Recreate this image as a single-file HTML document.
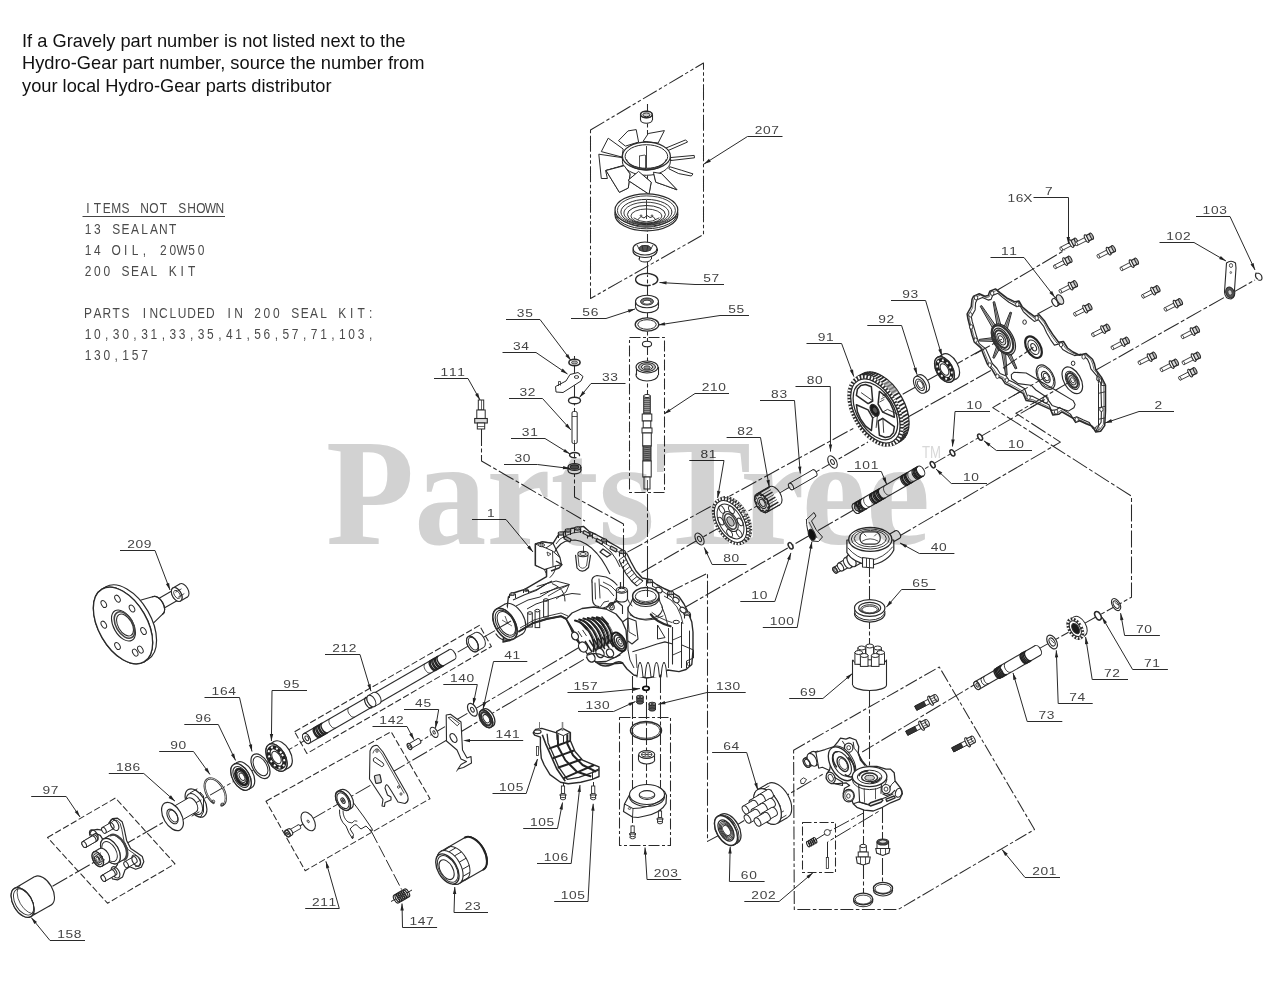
<!DOCTYPE html>
<html><head><meta charset="utf-8"><title>Parts Diagram</title>
<style>
html,body{margin:0;padding:0;background:#fff;}
body{width:1280px;height:989px;overflow:hidden;font-family:"Liberation Sans",sans-serif;}
svg{display:block;}
</style></head><body>
<svg width="1280" height="989" viewBox="0 0 1280 989">
<rect width="1280" height="989" fill="#fff"/>
<text x="22" y="46.8" font-size="18.2" font-family="Liberation Sans, sans-serif" fill="#111" textLength="383.5" lengthAdjust="spacingAndGlyphs">If a Gravely part number is not listed next to the</text>
<text x="22" y="69.3" font-size="18.2" font-family="Liberation Sans, sans-serif" fill="#111" textLength="402.5" lengthAdjust="spacingAndGlyphs">Hydro-Gear part number, source the number from</text>
<text x="22" y="92.2" font-size="18.2" font-family="Liberation Sans, sans-serif" fill="#111" textLength="309.5" lengthAdjust="spacingAndGlyphs">your local Hydro-Gear parts distributor</text>
<text transform="scale(0.82,1)" x="107.3 118.8 130.2 141.7 153.2 164.7 176.2 187.7 199.2 210.7 222.1 233.6 245.1 256.6 268.1" y="213.2" font-size="14.6" text-anchor="middle" font-family="Liberation Sans, sans-serif" fill="#4a4a4a">ITEMS NOT SHOWN</text>
<line x1="82.5" y1="216.5" x2="225" y2="216.5" stroke="#444" stroke-width="1"/>
<text transform="scale(0.82,1)" x="107.3 118.8 130.2 141.7 153.2 164.7 176.2 187.7 199.2 210.7" y="234.4" font-size="14.6" text-anchor="middle" font-family="Liberation Sans, sans-serif" fill="#4a4a4a">13 SEALANT</text>
<text transform="scale(0.82,1)" x="107.3 118.8 130.2 141.7 153.2 164.7 176.2 187.7 199.2 210.7 222.1 233.6 245.1" y="255.2" font-size="14.6" text-anchor="middle" font-family="Liberation Sans, sans-serif" fill="#4a4a4a">14 OIL, 20W50</text>
<text transform="scale(0.82,1)" x="107.3 118.8 130.2 141.7 153.2 164.7 176.2 187.7 199.2 210.7 222.1 233.6" y="276.3" font-size="14.6" text-anchor="middle" font-family="Liberation Sans, sans-serif" fill="#4a4a4a">200 SEAL KIT</text>
<text transform="scale(0.82,1)" x="107.3 118.8 130.2 141.7 153.2 164.7 176.2 187.7 199.2 210.7 222.1 233.6 245.1 256.6 268.1 279.6 291.1 302.6 314 325.5 337 348.5 360 371.5 383 394.5 405.9 417.4 428.9 440.4 451.9" y="318" font-size="14.6" text-anchor="middle" font-family="Liberation Sans, sans-serif" fill="#4a4a4a">PARTS INCLUDED IN 200 SEAL KIT:</text>
<text transform="scale(0.82,1)" x="107.3 118.8 130.2 141.7 153.2 164.7 176.2 187.7 199.2 210.7 222.1 233.6 245.1 256.6 268.1 279.6 291.1 302.6 314 325.5 337 348.5 360 371.5 383 394.5 405.9 417.4 428.9 440.4 451.9" y="338.7" font-size="14.6" text-anchor="middle" font-family="Liberation Sans, sans-serif" fill="#4a4a4a">10,30,31,33,35,41,56,57,71,103,</text>
<text transform="scale(0.82,1)" x="107.3 118.8 130.2 141.7 153.2 164.7 176.2" y="360" font-size="14.6" text-anchor="middle" font-family="Liberation Sans, sans-serif" fill="#4a4a4a">130,157</text>
<polygon points="590.5,130 703.5,63 703.5,234.5 590.5,298.5" fill="none" stroke="#2a2a2a" stroke-width="1.05" stroke-linejoin="round" stroke-dasharray="16 2.5 3.5 2.5 3.5 2.5"/>
<polygon points="629.5,337.5 664.5,337.5 664.5,492.5 629.5,492.5" fill="none" stroke="#2a2a2a" stroke-width="1.05" stroke-linejoin="round" stroke-dasharray="11 2.5 3 2.5"/>
<polygon points="619.5,717.5 670.5,717.5 670.5,845.5 619.5,845.5" fill="none" stroke="#2a2a2a" stroke-width="1.05" stroke-linejoin="round" stroke-dasharray="11 2.5 3 2.5"/>
<polygon points="802.5,822.5 835.5,822.5 835.5,872.5 802.5,872.5" fill="none" stroke="#2a2a2a" stroke-width="1.05" stroke-linejoin="round" stroke-dasharray="9 2.5 3 2.5"/>
<polygon points="793.6,750.2 939.3,667 1034.5,829.5 898.2,909.5 794.3,909.5" fill="none" stroke="#2a2a2a" stroke-width="1.05" stroke-linejoin="round" stroke-dasharray="13 2.5 3.5 2.5"/>
<polygon points="266,801.2 391.1,731.7 430,798.7 305.2,870.7" fill="none" stroke="#2a2a2a" stroke-width="1.05" stroke-linejoin="round" stroke-dasharray="6.5 2.5"/>
<polygon points="294.6,731.7 479.4,625.4 491.4,646.5 306.9,753.5" fill="none" stroke="#2a2a2a" stroke-width="1.05" stroke-linejoin="round" stroke-dasharray="6.5 2.5"/>
<polygon points="47.5,837.5 115.5,798 175,863.8 107.5,903.2" fill="none" stroke="#2a2a2a" stroke-width="1.05" stroke-linejoin="round" stroke-dasharray="6.5 2.5"/>
<line x1="647.5" y1="104" x2="647.5" y2="593" stroke="#2a2a2a" stroke-width="1.05" stroke-dasharray="17 2.5 4 2.5"/>
<line x1="646.5" y1="676" x2="646.5" y2="800" stroke="#2a2a2a" stroke-width="1.05" stroke-dasharray="17 2.5 4 2.5"/>
<line x1="632.5" y1="676" x2="632.5" y2="834" stroke="#2a2a2a" stroke-width="1.05" stroke-dasharray="17 2.5 4 2.5"/>
<line x1="660.5" y1="676" x2="660.5" y2="820" stroke="#2a2a2a" stroke-width="1.05" stroke-dasharray="17 2.5 4 2.5"/>
<polyline points="574.5,356 574.5,497 623.5,524 623.5,590" fill="none" stroke="#2a2a2a" stroke-width="1.05" stroke-linejoin="round" stroke-dasharray="17 2.5 4 2.5"/>
<polyline points="481.5,429 481.5,461 585,521" fill="none" stroke="#2a2a2a" stroke-width="1.05" stroke-linejoin="round" stroke-dasharray="17 2.5 4 2.5"/>
<line x1="627.4" y1="552.1" x2="855" y2="427.5" stroke="#2a2a2a" stroke-width="1.05" stroke-dasharray="17 2.5 4 2.5"/>
<line x1="880" y1="407" x2="1001" y2="339" stroke="#2a2a2a" stroke-width="1.05" stroke-dasharray="17 2.5 4 2.5"/>
<line x1="641.5" y1="572.5" x2="868" y2="442" stroke="#2a2a2a" stroke-width="1.05" stroke-dasharray="17 2.5 4 2.5"/>
<line x1="908" y1="417" x2="1033.5" y2="346.5" stroke="#2a2a2a" stroke-width="1.05" stroke-dasharray="17 2.5 4 2.5"/>
<line x1="683" y1="608.5" x2="1044.7" y2="399.5" stroke="#2a2a2a" stroke-width="1.05" stroke-dasharray="17 2.5 4 2.5"/>
<polyline points="896,538 1060.4,442.1 1015.9,413.3 1072.3,380.3" fill="none" stroke="#2a2a2a" stroke-width="1.05" stroke-linejoin="round" stroke-dasharray="17 2.5 4 2.5"/>
<polyline points="1045.6,377.1 992.7,407.6 1131.5,496.2 1131.5,597.2 975.6,684 862.2,752" fill="none" stroke="#2a2a2a" stroke-width="1.05" stroke-linejoin="round" stroke-dasharray="17 2.5 4 2.5"/>
<polyline points="667.4,592.9 707.5,573.3 707.5,841.4 727,831 765,808 822.7,774.3" fill="none" stroke="#2a2a2a" stroke-width="1.05" stroke-linejoin="round" stroke-dasharray="17 2.5 4 2.5"/>
<line x1="869.5" y1="560" x2="869.5" y2="776" stroke="#2a2a2a" stroke-width="1.05" stroke-dasharray="17 2.5 4 2.5"/>
<line x1="863.5" y1="810" x2="863.5" y2="900" stroke="#2a2a2a" stroke-width="1.05" stroke-dasharray="17 2.5 4 2.5"/>
<line x1="882.5" y1="806" x2="882.5" y2="890" stroke="#2a2a2a" stroke-width="1.05" stroke-dasharray="17 2.5 4 2.5"/>
<polyline points="811.7,842.2 827.3,832.5 863.4,813" fill="none" stroke="#2a2a2a" stroke-width="1" stroke-linejoin="round" stroke-dasharray="17 2.5 4 2.5"/>
<polyline points="827.5,858 827.5,842 880,810.6" fill="none" stroke="#2a2a2a" stroke-width="1" stroke-linejoin="round" stroke-dasharray="17 2.5 4 2.5"/>
<line x1="52.5" y1="886.2" x2="505" y2="624.8" stroke="#2a2a2a" stroke-width="1.05" stroke-dasharray="17 2.5 4 2.5"/>
<line x1="408" y1="748.5" x2="590" y2="641" stroke="#2a2a2a" stroke-width="1.05" stroke-dasharray="17 2.5 4 2.5"/>
<line x1="390" y1="773.5" x2="602.3" y2="648.5" stroke="#2a2a2a" stroke-width="1.05" stroke-dasharray="17 2.5 4 2.5"/>
<line x1="288" y1="832.8" x2="371.4" y2="784.8" stroke="#2a2a2a" stroke-width="1.05" stroke-dasharray="17 2.5 4 2.5"/>
<polyline points="371.4,831.5 401.7,889.6" fill="none" stroke="#2a2a2a" stroke-width="1" stroke-linejoin="round" stroke-dasharray="13 3"/>
<line x1="997.5" y1="290" x2="1065" y2="250" stroke="#2a2a2a" stroke-width="1.05" stroke-dasharray="17 2.5 4 2.5"/>
<line x1="1096" y1="370" x2="1255" y2="280" stroke="#2a2a2a" stroke-width="1.05" stroke-dasharray="17 2.5 4 2.5"/>
<line x1="1037.5" y1="314" x2="1054" y2="305" stroke="#2a2a2a" stroke-width="1.05" stroke-dasharray="17 2.5 4 2.5"/>
<line x1="563.5" y1="782" x2="563.5" y2="800" stroke="#2a2a2a" stroke-width="1.05" stroke-dasharray="17 2.5 4 2.5"/>
<line x1="593.5" y1="782" x2="593.5" y2="800" stroke="#2a2a2a" stroke-width="1.05" stroke-dasharray="17 2.5 4 2.5"/>
<ellipse cx="646.4" cy="120" rx="5.8" ry="3.2" fill="#fff" stroke="#2a2a2a" stroke-width="1.1"/>
<rect x="640.6" y="114.5" width="11.6" height="5.5" fill="#fff" stroke="none"/>
<line x1="640.5" y1="114.5" x2="640.5" y2="120" stroke="#2a2a2a" stroke-width="1.1"/>
<line x1="652.5" y1="114.5" x2="652.5" y2="120" stroke="#2a2a2a" stroke-width="1.1"/>
<ellipse cx="646.4" cy="114.5" rx="5.8" ry="3.2" fill="#fff" stroke="#2a2a2a" stroke-width="1.1"/>
<ellipse cx="646.4" cy="114.5" rx="5.8" ry="3.2" fill="#fff" stroke="#2a2a2a" stroke-width="1.5"/>
<ellipse cx="646.4" cy="114.8" rx="3.6" ry="1.9" fill="#ccc" stroke="#2a2a2a" stroke-width="1"/>
<polygon points="625.4,146.1 618.5,140.7 628,130.9 636.2,129.6 638.6,142.1" fill="#fff" stroke="#2a2a2a" stroke-width="1" stroke-linejoin="round"/>
<polygon points="623.2,149 608.2,138.2 601.3,151.6 622,157.1" fill="#fff" stroke="#2a2a2a" stroke-width="1" stroke-linejoin="round"/>
<polygon points="622,157.6 598.8,154.2 601.3,178.5 607.4,178.5 605.6,170.5 623.7,165.3" fill="#fff" stroke="#2a2a2a" stroke-width="1" stroke-linejoin="round"/>
<polygon points="606,170.5 624.2,165.7 630,173.9 628.3,188 619.4,192.3" fill="#fff" stroke="#2a2a2a" stroke-width="1" stroke-linejoin="round"/>
<polygon points="628,180.3 638.6,171.4 651.2,182.2 649,194.2" fill="#fff" stroke="#2a2a2a" stroke-width="1" stroke-linejoin="round"/>
<polygon points="653.4,172.2 661.5,173.6 677,189.8 665.5,185.6 655.8,182.2" fill="#fff" stroke="#2a2a2a" stroke-width="1" stroke-linejoin="round"/>
<polygon points="669.6,166.7 681.3,170.2 693,173.9 691.3,176 678.7,173.6 668.9,168.8" fill="#fff" stroke="#2a2a2a" stroke-width="1" stroke-linejoin="round"/>
<polygon points="670.1,157.6 694.2,155.4 694.5,157.8 671,160.5" fill="#fff" stroke="#2a2a2a" stroke-width="1" stroke-linejoin="round"/>
<polygon points="665.8,148.1 685.6,139.9 687.6,142 667.9,150.6" fill="#fff" stroke="#2a2a2a" stroke-width="1" stroke-linejoin="round"/>
<polygon points="643.1,141.3 648.3,133.5 664.4,130.6 658.1,143" fill="#fff" stroke="#2a2a2a" stroke-width="1" stroke-linejoin="round"/>
<ellipse cx="646.4" cy="161.5" rx="24" ry="13.8" fill="#fff" stroke="#2a2a2a" stroke-width="1"/>
<rect x="622.4" y="156" width="48" height="5.5" fill="#fff"/>
<line x1="622.5" y1="156" x2="622.5" y2="161.5" stroke="#2a2a2a" stroke-width="1"/>
<line x1="670.5" y1="156" x2="670.5" y2="161.5" stroke="#2a2a2a" stroke-width="1"/>
<ellipse cx="646.4" cy="156" rx="24" ry="13.8" fill="#fff" stroke="#2a2a2a" stroke-width="1.2"/>
<ellipse cx="646.4" cy="156.5" rx="21.3" ry="11.8" fill="none" stroke="#2a2a2a" stroke-width="1"/>
<path d="M626.5,159.5 A20,10.5 0 0 0 666.3,159.5" fill="none" stroke="#2a2a2a" stroke-width="0.9" stroke-linejoin="round" stroke-linecap="round"/>
<path d="M628.5,162.5 A18,8.5 0 0 0 664.3,162.5" fill="none" stroke="#2a2a2a" stroke-width="0.9" stroke-linejoin="round" stroke-linecap="round"/>
<path d="M631.5,165 A15,6 0 0 0 661,165" fill="none" stroke="#2a2a2a" stroke-width="0.8" stroke-linejoin="round" stroke-linecap="round"/>
<line x1="639.5" y1="156" x2="639.5" y2="168" stroke="#2a2a2a" stroke-width="0.8"/>
<line x1="645.5" y1="155" x2="645.5" y2="169" stroke="#2a2a2a" stroke-width="0.8"/>
<line x1="639" y1="156" x2="645" y2="155" stroke="#2a2a2a" stroke-width="0.8"/>
<polygon points="606,170.5 624.2,165.7 630,173.9 628.3,188 619.4,192.3" fill="#fff" stroke="#2a2a2a" stroke-width="1" stroke-linejoin="round"/>
<polygon points="628,180.3 638.6,171.4 651.2,182.2 649,194.2" fill="#fff" stroke="#2a2a2a" stroke-width="1" stroke-linejoin="round"/>
<polygon points="653.4,172.2 661.5,173.6 677,189.8 665.5,185.6 655.8,182.2" fill="#fff" stroke="#2a2a2a" stroke-width="1" stroke-linejoin="round"/>
<ellipse cx="646.4" cy="214.5" rx="31.4" ry="16.3" fill="#fff" stroke="#2a2a2a" stroke-width="1.3"/>
<ellipse cx="646.4" cy="212.5" rx="31.4" ry="16.3" fill="#fff" stroke="#2a2a2a" stroke-width="1"/>
<ellipse cx="646.4" cy="210" rx="31.4" ry="16.2" fill="#fff" stroke="#2a2a2a" stroke-width="1.2"/>
<ellipse cx="646.4" cy="210.5" rx="29" ry="14.6" fill="none" stroke="#2a2a2a" stroke-width="0.9"/>
<ellipse cx="646.4" cy="212" rx="25.5" ry="12.6" fill="none" stroke="#2a2a2a" stroke-width="1"/>
<ellipse cx="646.4" cy="213" rx="22.5" ry="10.8" fill="none" stroke="#2a2a2a" stroke-width="0.9"/>
<ellipse cx="646.4" cy="214.5" rx="19" ry="9" fill="none" stroke="#2a2a2a" stroke-width="1"/>
<ellipse cx="646.4" cy="216" rx="15.5" ry="7" fill="none" stroke="#2a2a2a" stroke-width="0.9"/>
<path d="M634,218 Q646,226 659,218" fill="none" stroke="#2a2a2a" stroke-width="0.9" stroke-linejoin="round" stroke-linecap="round"/>
<path d="M638,219.5 l3,-3 l3,1.5 l3,-2.5 l3,2 l3,-1 l2.5,3" fill="none" stroke="#2a2a2a" stroke-width="1" stroke-linejoin="round" stroke-linecap="round"/>
<ellipse cx="641" cy="215.5" rx="0.8" ry="0.6" fill="none" stroke="#2a2a2a" stroke-width="0.8"/>
<ellipse cx="652" cy="215.5" rx="0.8" ry="0.6" fill="none" stroke="#2a2a2a" stroke-width="0.8"/>
<path d="M617,217 Q646,238 676,217" fill="none" stroke="#2a2a2a" stroke-width="0.9" stroke-linejoin="round" stroke-linecap="round"/>
<ellipse cx="645" cy="259" rx="6" ry="3" fill="#fff" stroke="#2a2a2a" stroke-width="1"/>
<rect x="639" y="254" width="12" height="5" fill="#fff" stroke="none"/>
<line x1="639.5" y1="254" x2="639.5" y2="259" stroke="#2a2a2a" stroke-width="1"/>
<line x1="651.5" y1="254" x2="651.5" y2="259" stroke="#2a2a2a" stroke-width="1"/>
<ellipse cx="645" cy="254" rx="6" ry="3" fill="#fff" stroke="#2a2a2a" stroke-width="1"/>
<ellipse cx="645" cy="251" rx="12" ry="6.5" fill="#fff" stroke="#2a2a2a" stroke-width="1.1"/>
<ellipse cx="645" cy="248.5" rx="12" ry="6.5" fill="#fff" stroke="#2a2a2a" stroke-width="1.1"/>
<ellipse cx="645" cy="248.5" rx="6" ry="3" fill="#555" stroke="#2a2a2a" stroke-width="1"/>
<line x1="637" y1="245" x2="640.2" y2="251" stroke="#2a2a2a" stroke-width="0.9"/>
<line x1="642" y1="245" x2="643.2" y2="251" stroke="#2a2a2a" stroke-width="0.9"/>
<line x1="648" y1="245" x2="646.8" y2="251" stroke="#2a2a2a" stroke-width="0.9"/>
<line x1="653" y1="245" x2="649.8" y2="251" stroke="#2a2a2a" stroke-width="0.9"/>
<line x1="633.5" y1="248.5" x2="633.5" y2="251" stroke="#2a2a2a" stroke-width="1"/>
<line x1="657.5" y1="248.5" x2="657.5" y2="251" stroke="#2a2a2a" stroke-width="1"/>
<path d="M653,284.5 A11,6 0 1 0 650,285.3" fill="none" stroke="#2a2a2a" stroke-width="1.6" stroke-linejoin="round" stroke-linecap="round"/>
<path d="M652.5,283 A9.5,4.8 0 1 0 650,283.8" fill="none" stroke="#fff" stroke-width="0.6" stroke-linejoin="round" stroke-linecap="round"/>
<ellipse cx="647" cy="306.5" rx="11.5" ry="6.3" fill="#fff" stroke="#2a2a2a" stroke-width="1.1"/>
<rect x="635.5" y="301.5" width="23" height="5" fill="#fff" stroke="none"/>
<line x1="635.5" y1="301.5" x2="635.5" y2="306.5" stroke="#2a2a2a" stroke-width="1.1"/>
<line x1="658.5" y1="301.5" x2="658.5" y2="306.5" stroke="#2a2a2a" stroke-width="1.1"/>
<ellipse cx="647" cy="301.5" rx="11.5" ry="6.3" fill="#fff" stroke="#2a2a2a" stroke-width="1.1"/>
<ellipse cx="647" cy="301.5" rx="6.5" ry="3.5" fill="#777" stroke="#2a2a2a" stroke-width="1"/>
<ellipse cx="647" cy="302.2" rx="4" ry="2" fill="#fff" stroke="#2a2a2a" stroke-width="0.8"/>
<ellipse cx="647" cy="324.5" rx="11.8" ry="6.6" fill="#fff" stroke="#2a2a2a" stroke-width="1.3"/>
<ellipse cx="647" cy="324.5" rx="9.2" ry="4.8" fill="#fff" stroke="#2a2a2a" stroke-width="1"/>
<ellipse cx="647" cy="344" rx="4.6" ry="2.8" fill="#fff" stroke="#2a2a2a" stroke-width="1.1"/>
<ellipse cx="647" cy="375" rx="11" ry="6" fill="#fff" stroke="#2a2a2a" stroke-width="1.1"/>
<rect x="636" y="367" width="22" height="8" fill="#fff" stroke="none"/>
<line x1="636.5" y1="367" x2="636.5" y2="375" stroke="#2a2a2a" stroke-width="1.1"/>
<line x1="658.5" y1="367" x2="658.5" y2="375" stroke="#2a2a2a" stroke-width="1.1"/>
<ellipse cx="647" cy="367" rx="11" ry="6" fill="#fff" stroke="#2a2a2a" stroke-width="1.1"/>
<ellipse cx="647" cy="367" rx="8.5" ry="4.5" fill="#bbb" stroke="#2a2a2a" stroke-width="1"/>
<ellipse cx="647" cy="367" rx="5.5" ry="3" fill="#fff" stroke="#2a2a2a" stroke-width="1"/>
<ellipse cx="647" cy="367.5" rx="3.2" ry="1.7" fill="#999" stroke="#2a2a2a" stroke-width="0.8"/>
<rect x="643.7" y="396" width="6.6" height="18" fill="#999" stroke="#2a2a2a" stroke-width="1"/>
<ellipse cx="647" cy="396" rx="3.3" ry="1.6" fill="#fff" stroke="#2a2a2a" stroke-width="1"/>
<rect x="642.2" y="414" width="9.6" height="7" fill="#fff" stroke="#2a2a2a" stroke-width="1"/>
<rect x="643.2" y="421" width="7.6" height="7" fill="#fff" stroke="#2a2a2a" stroke-width="1"/>
<rect x="642" y="428" width="10" height="5" fill="#fff" stroke="#2a2a2a" stroke-width="1"/>
<rect x="642.7" y="433" width="8.6" height="13" fill="#fff" stroke="#2a2a2a" stroke-width="1"/>
<rect x="643" y="446" width="8" height="15" fill="#888" stroke="#2a2a2a" stroke-width="1"/>
<rect x="642.8" y="461" width="8.4" height="16" fill="#fff" stroke="#2a2a2a" stroke-width="1"/>
<rect x="644" y="477" width="6" height="12" fill="#fff" stroke="#2a2a2a" stroke-width="1"/>
<line x1="643" y1="447" x2="651" y2="448" stroke="#222" stroke-width="0.7"/>
<line x1="643" y1="449" x2="651" y2="450" stroke="#222" stroke-width="0.7"/>
<line x1="643" y1="451" x2="651" y2="452" stroke="#222" stroke-width="0.7"/>
<line x1="643" y1="453" x2="651" y2="454" stroke="#222" stroke-width="0.7"/>
<line x1="643" y1="455" x2="651" y2="456" stroke="#222" stroke-width="0.7"/>
<line x1="643" y1="457" x2="651" y2="458" stroke="#222" stroke-width="0.7"/>
<line x1="643" y1="459" x2="651" y2="460" stroke="#222" stroke-width="0.7"/>
<line x1="644" y1="398.5" x2="650" y2="398.5" stroke="#333" stroke-width="0.6"/>
<line x1="644" y1="400.5" x2="650" y2="400.5" stroke="#333" stroke-width="0.6"/>
<line x1="644" y1="402.5" x2="650" y2="402.5" stroke="#333" stroke-width="0.6"/>
<line x1="644" y1="404.5" x2="650" y2="404.5" stroke="#333" stroke-width="0.6"/>
<line x1="644" y1="406.5" x2="650" y2="406.5" stroke="#333" stroke-width="0.6"/>
<line x1="644" y1="408.5" x2="650" y2="408.5" stroke="#333" stroke-width="0.6"/>
<line x1="644" y1="410.5" x2="650" y2="410.5" stroke="#333" stroke-width="0.6"/>
<line x1="644" y1="412.5" x2="650" y2="412.5" stroke="#333" stroke-width="0.6"/>
<line x1="647.5" y1="480" x2="647.5" y2="489" stroke="#2a2a2a" stroke-width="0.8"/>
<ellipse cx="574.5" cy="362.5" rx="5.6" ry="3.2" fill="#fff" stroke="#2a2a2a" stroke-width="1.6"/>
<ellipse cx="574.5" cy="362.5" rx="3" ry="1.6" fill="#aaa" stroke="#2a2a2a" stroke-width="0.8"/>
<polygon points="583,376.5 581,381 563,392.5 556,392 555.5,386.5 566,381 570,374.5 578,372.5" fill="#fff" stroke="#2a2a2a" stroke-width="1" stroke-linejoin="round"/>
<ellipse cx="576.5" cy="377" rx="2.2" ry="1.4" fill="none" stroke="#2a2a2a" stroke-width="0.9"/>
<polyline points="558.5,386 558.5,381.5 560.5,381.5 560.5,385.5" fill="none" stroke="#2a2a2a" stroke-width="0.8" stroke-linejoin="round"/>
<ellipse cx="574.5" cy="400.5" rx="6" ry="3.3" fill="#fff" stroke="#2a2a2a" stroke-width="1.4"/>
<rect x="572" y="411.5" width="5.2" height="32" rx="1.5" fill="#fff" stroke="#2a2a2a" stroke-width="1"/>
<line x1="572" y1="416.5" x2="577.2" y2="416.5" stroke="#2a2a2a" stroke-width="0.8"/>
<line x1="574.5" y1="440" x2="574.5" y2="444" stroke="#2a2a2a" stroke-width="0.7"/>
<path d="M579.5,455.5 A5,2.6 0 1 0 576,457.6" fill="none" stroke="#2a2a2a" stroke-width="1.4" stroke-linejoin="round" stroke-linecap="round"/>
<ellipse cx="574.5" cy="470.5" rx="6.4" ry="3.4" fill="#fff" stroke="#2a2a2a" stroke-width="1.3"/>
<rect x="568.1" y="467" width="12.8" height="3.5" fill="#fff" stroke="none"/>
<line x1="568.1" y1="467" x2="568.1" y2="470.5" stroke="#2a2a2a" stroke-width="1.3"/>
<line x1="580.9" y1="467" x2="580.9" y2="470.5" stroke="#2a2a2a" stroke-width="1.3"/>
<ellipse cx="574.5" cy="467" rx="6.4" ry="3.4" fill="#fff" stroke="#2a2a2a" stroke-width="1.3"/>
<ellipse cx="574.5" cy="467" rx="4.3" ry="2.1" fill="#555" stroke="#2a2a2a" stroke-width="1.2"/>
<rect x="478.3" y="400" width="5.4" height="10" fill="#fff" stroke="#2a2a2a" stroke-width="1"/>
<line x1="481.5" y1="400" x2="481.5" y2="410" stroke="#2a2a2a" stroke-width="0.7"/>
<rect x="476.8" y="410" width="8.4" height="8.5" fill="#fff" stroke="#2a2a2a" stroke-width="1"/>
<rect x="474.7" y="418.5" width="12.6" height="4.5" fill="#ddd" stroke="#2a2a2a" stroke-width="1.1"/>
<rect x="477.3" y="423" width="7.4" height="6" fill="#fff" stroke="#2a2a2a" stroke-width="1"/>
<line x1="477.3" y1="426.5" x2="484.7" y2="426.5" stroke="#2a2a2a" stroke-width="0.7"/>
<ellipse cx="881.9" cy="407.2" rx="22.2" ry="38.5" fill="#fff" stroke="#2a2a2a" stroke-width="1.2" transform="rotate(-30 881.9 407.2)"/>
<polygon points="856.1,377.7 862.6,373.9 901.1,440.6 894.6,444.3" fill="#fff" stroke="none"/>
<line x1="853.5" y1="379.7" x2="860" y2="375.9" stroke="#2a2a2a" stroke-width="1.7"/>
<line x1="855.2" y1="378.2" x2="861.7" y2="374.5" stroke="#2a2a2a" stroke-width="1.7"/>
<line x1="857.2" y1="377.1" x2="863.7" y2="373.4" stroke="#2a2a2a" stroke-width="1.7"/>
<line x1="859.3" y1="376.4" x2="865.8" y2="372.6" stroke="#2a2a2a" stroke-width="1.7"/>
<line x1="861.6" y1="375.9" x2="868.1" y2="372.2" stroke="#2a2a2a" stroke-width="1.7"/>
<line x1="864.1" y1="375.9" x2="870.6" y2="372.1" stroke="#2a2a2a" stroke-width="1.7"/>
<line x1="866.6" y1="376.2" x2="873.1" y2="372.4" stroke="#2a2a2a" stroke-width="1.7"/>
<line x1="869.3" y1="376.8" x2="875.8" y2="373.1" stroke="#2a2a2a" stroke-width="1.7"/>
<line x1="872" y1="377.8" x2="878.5" y2="374.1" stroke="#2a2a2a" stroke-width="1.7"/>
<line x1="874.7" y1="379.2" x2="881.2" y2="375.4" stroke="#2a2a2a" stroke-width="1.7"/>
<line x1="877.5" y1="380.9" x2="884" y2="377.1" stroke="#2a2a2a" stroke-width="1.7"/>
<line x1="880.2" y1="382.9" x2="886.7" y2="379.1" stroke="#2a2a2a" stroke-width="1.7"/>
<line x1="882.9" y1="385.1" x2="889.4" y2="381.4" stroke="#2a2a2a" stroke-width="1.7"/>
<line x1="885.5" y1="387.7" x2="892" y2="383.9" stroke="#2a2a2a" stroke-width="1.7"/>
<line x1="888" y1="390.4" x2="894.5" y2="386.7" stroke="#2a2a2a" stroke-width="1.7"/>
<line x1="890.4" y1="393.4" x2="896.9" y2="389.7" stroke="#2a2a2a" stroke-width="1.7"/>
<line x1="892.6" y1="396.6" x2="899.1" y2="392.8" stroke="#2a2a2a" stroke-width="1.7"/>
<line x1="894.6" y1="399.9" x2="901.1" y2="396.1" stroke="#2a2a2a" stroke-width="1.7"/>
<line x1="896.5" y1="403.3" x2="903" y2="399.6" stroke="#2a2a2a" stroke-width="1.7"/>
<line x1="898.1" y1="406.8" x2="904.6" y2="403.1" stroke="#2a2a2a" stroke-width="1.7"/>
<line x1="899.5" y1="410.4" x2="906" y2="406.6" stroke="#2a2a2a" stroke-width="1.7"/>
<line x1="900.7" y1="413.9" x2="907.2" y2="410.2" stroke="#2a2a2a" stroke-width="1.7"/>
<line x1="901.6" y1="417.4" x2="908.1" y2="413.7" stroke="#2a2a2a" stroke-width="1.7"/>
<line x1="902.2" y1="420.9" x2="908.7" y2="417.2" stroke="#2a2a2a" stroke-width="1.7"/>
<line x1="902.5" y1="424.3" x2="909" y2="420.5" stroke="#2a2a2a" stroke-width="1.7"/>
<line x1="902.6" y1="427.5" x2="909.1" y2="423.7" stroke="#2a2a2a" stroke-width="1.7"/>
<line x1="902.4" y1="430.5" x2="908.9" y2="426.8" stroke="#2a2a2a" stroke-width="1.7"/>
<line x1="901.9" y1="433.4" x2="908.4" y2="429.6" stroke="#2a2a2a" stroke-width="1.7"/>
<line x1="901.2" y1="436" x2="907.7" y2="432.3" stroke="#2a2a2a" stroke-width="1.7"/>
<line x1="900.1" y1="438.4" x2="906.6" y2="434.6" stroke="#2a2a2a" stroke-width="1.7"/>
<line x1="898.9" y1="440.5" x2="905.4" y2="436.7" stroke="#2a2a2a" stroke-width="1.7"/>
<line x1="897.4" y1="442.2" x2="903.9" y2="438.5" stroke="#2a2a2a" stroke-width="1.7"/>
<line x1="895.6" y1="443.7" x2="902.1" y2="440" stroke="#2a2a2a" stroke-width="1.7"/>
<line x1="893.7" y1="444.8" x2="900.2" y2="441.1" stroke="#2a2a2a" stroke-width="1.7"/>
<line x1="891.6" y1="445.6" x2="898.1" y2="441.9" stroke="#2a2a2a" stroke-width="1.7"/>
<polygon points="881.7,384.1 888.2,380.4 898,391.3 891.5,395" fill="#999" stroke="none" opacity="0.7"/>
<ellipse cx="875.4" cy="411" rx="21.5" ry="37.2" fill="#fff" stroke="#2a2a2a" stroke-width="3.6" transform="rotate(-30 875.4 411)"/>
<ellipse cx="875.4" cy="411" rx="21.5" ry="37.2" transform="rotate(-30 875.4 411)" fill="none" stroke="#fff" stroke-width="3.8" stroke-dasharray="1.7 1.6"/>
<ellipse cx="875.4" cy="411" rx="20.2" ry="35" fill="none" stroke="#2a2a2a" stroke-width="1.2" transform="rotate(-30 875.4 411)"/>
<ellipse cx="875.4" cy="411" rx="18.2" ry="31.5" fill="none" stroke="#2a2a2a" stroke-width="1.3" transform="rotate(-30 875.4 411)"/>
<polygon points="878.1,404.1 879.4,391.4 885.2,395.8 890,402.5 893.4,410.1 894.4,417.3 882.7,412.1" fill="#fff" stroke="#2a2a2a" stroke-width="1.5" stroke-linejoin="round"/>
<polyline points="882.7,412.1 887.5,409.4 898.7,414.8" fill="none" stroke="#2a2a2a" stroke-width="0.9" stroke-linejoin="round"/>
<polygon points="882.7,418.3 894.4,426.7 893.4,432.7 890,436.4 885.2,437.5 879.4,435.3 878.1,421" fill="#fff" stroke="#2a2a2a" stroke-width="1.5" stroke-linejoin="round"/>
<polyline points="878.1,421 882.9,418.2 883.7,432.8" fill="none" stroke="#2a2a2a" stroke-width="0.9" stroke-linejoin="round"/>
<polygon points="872.7,417.9 871.4,430.6 865.6,426.2 860.8,419.5 857.4,411.9 856.4,404.7 868.1,409.9" fill="#fff" stroke="#2a2a2a" stroke-width="1.5" stroke-linejoin="round"/>
<polyline points="872.7,417.9 877.5,415.1 876.1,427.9" fill="none" stroke="#2a2a2a" stroke-width="0.9" stroke-linejoin="round"/>
<polygon points="868.1,403.7 856.4,395.3 857.4,389.3 860.8,385.6 865.6,384.5 871.4,386.7 872.7,401" fill="#fff" stroke="#2a2a2a" stroke-width="1.5" stroke-linejoin="round"/>
<polyline points="868.1,403.7 872.9,400.9 861.1,392.6" fill="none" stroke="#2a2a2a" stroke-width="0.9" stroke-linejoin="round"/>
<line x1="879.5" y1="402.1" x2="884.3" y2="399.4" stroke="#2a2a2a" stroke-width="0.8"/>
<line x1="880.9" y1="399.2" x2="885.7" y2="396.4" stroke="#2a2a2a" stroke-width="0.8"/>
<line x1="882.3" y1="396.2" x2="887.1" y2="393.5" stroke="#2a2a2a" stroke-width="0.8"/>
<ellipse cx="874.6" cy="410.3" rx="3.8" ry="6.6" fill="#1a1a1a" stroke="#2a2a2a" stroke-width="1" transform="rotate(-30 874.6 410.3)"/>
<ellipse cx="875" cy="410.2" rx="1.5" ry="2.6" fill="#555" stroke="#555" stroke-width="0.7" transform="rotate(-30 875 410.2)"/>
<ellipse cx="923" cy="383.1" rx="5.4" ry="9.3" fill="#fff" stroke="#2a2a2a" stroke-width="1.1" transform="rotate(-30 923 383.1)"/>
<polygon points="924.6,392.9 927.7,391.1 918.4,375 915.4,376.7" fill="#fff" stroke="none"/>
<line x1="924.6" y1="392.9" x2="927.7" y2="391.1" stroke="#2a2a2a" stroke-width="1.1"/>
<line x1="915.4" y1="376.7" x2="918.4" y2="375" stroke="#2a2a2a" stroke-width="1.1"/>
<ellipse cx="920" cy="384.8" rx="5.4" ry="9.3" fill="#fff" stroke="#2a2a2a" stroke-width="1.1" transform="rotate(-30 920 384.8)"/>
<ellipse cx="920" cy="384.8" rx="3.6" ry="6.3" fill="none" stroke="#2a2a2a" stroke-width="1" transform="rotate(-30 920 384.8)"/>
<ellipse cx="920.3" cy="384.6" rx="2.3" ry="4" fill="none" stroke="#2a2a2a" stroke-width="0.9" transform="rotate(-30 920.3 384.6)"/>
<ellipse cx="949.7" cy="366.5" rx="8.1" ry="14" fill="#fff" stroke="#2a2a2a" stroke-width="1.2" transform="rotate(-30 949.7 366.5)"/>
<polygon points="951.5,381.6 956.7,378.6 942.7,354.4 937.5,357.4" fill="#fff" stroke="none"/>
<line x1="951.5" y1="381.6" x2="956.7" y2="378.6" stroke="#2a2a2a" stroke-width="1.2"/>
<line x1="937.5" y1="357.4" x2="942.7" y2="354.4" stroke="#2a2a2a" stroke-width="1.2"/>
<ellipse cx="944.5" cy="369.5" rx="8.1" ry="14" fill="#fff" stroke="#2a2a2a" stroke-width="1.2" transform="rotate(-30 944.5 369.5)"/>
<ellipse cx="944.5" cy="369.5" rx="8.1" ry="14" fill="#fff" stroke="#2a2a2a" stroke-width="1.4" transform="rotate(-30 944.5 369.5)"/>
<ellipse cx="944.5" cy="369.5" rx="6" ry="10.4" fill="none" stroke="#222" stroke-width="3.7800000000000002" transform="rotate(-30 944.5 369.5)"/>
<ellipse cx="944.5" cy="369.5" rx="6" ry="10.4" transform="rotate(-30 944.5 369.5)" fill="none" stroke="#fff" stroke-width="1.8" stroke-dasharray="2 3.2"/>
<ellipse cx="944.5" cy="369.5" rx="3.6" ry="6.3" fill="#fff" stroke="#2a2a2a" stroke-width="1.1" transform="rotate(-30 944.5 369.5)"/>
<ellipse cx="733.5" cy="519.8" rx="14.1" ry="24.5" fill="#fff" stroke="#333" stroke-width="2.8" transform="rotate(-30 733.5 519.8)"/>
<ellipse cx="733.5" cy="519.8" rx="14.1" ry="24.5" transform="rotate(-30 733.5 519.8)" fill="none" stroke="#fff" stroke-width="2.8" stroke-dasharray="1.6 1.5"/>
<line x1="718.8" y1="500" x2="721.9" y2="498.2" stroke="#333" stroke-width="1.0"/>
<line x1="720.1" y1="499.5" x2="723.1" y2="497.8" stroke="#333" stroke-width="1.0"/>
<line x1="721.4" y1="499.2" x2="724.4" y2="497.5" stroke="#333" stroke-width="1.0"/>
<line x1="722.8" y1="499.1" x2="725.8" y2="497.4" stroke="#333" stroke-width="1.0"/>
<line x1="724.2" y1="499.2" x2="727.3" y2="497.5" stroke="#333" stroke-width="1.0"/>
<line x1="725.8" y1="499.5" x2="728.8" y2="497.8" stroke="#333" stroke-width="1.0"/>
<line x1="727.3" y1="500" x2="730.3" y2="498.3" stroke="#333" stroke-width="1.0"/>
<line x1="728.9" y1="500.7" x2="731.9" y2="498.9" stroke="#333" stroke-width="1.0"/>
<line x1="730.5" y1="501.5" x2="733.5" y2="499.7" stroke="#333" stroke-width="1.0"/>
<line x1="732.1" y1="502.5" x2="735.1" y2="500.8" stroke="#333" stroke-width="1.0"/>
<line x1="733.7" y1="503.7" x2="736.7" y2="501.9" stroke="#333" stroke-width="1.0"/>
<line x1="735.2" y1="505" x2="738.3" y2="503.3" stroke="#333" stroke-width="1.0"/>
<line x1="736.8" y1="506.5" x2="739.8" y2="504.7" stroke="#333" stroke-width="1.0"/>
<line x1="738.2" y1="508.1" x2="741.2" y2="506.3" stroke="#333" stroke-width="1.0"/>
<line x1="739.6" y1="509.8" x2="742.6" y2="508" stroke="#333" stroke-width="1.0"/>
<line x1="740.9" y1="511.6" x2="744" y2="509.8" stroke="#333" stroke-width="1.0"/>
<line x1="742.2" y1="513.5" x2="745.2" y2="511.7" stroke="#333" stroke-width="1.0"/>
<line x1="743.3" y1="515.4" x2="746.3" y2="513.7" stroke="#333" stroke-width="1.0"/>
<line x1="744.3" y1="517.4" x2="747.3" y2="515.7" stroke="#333" stroke-width="1.0"/>
<line x1="745.2" y1="519.5" x2="748.3" y2="517.7" stroke="#333" stroke-width="1.0"/>
<line x1="746" y1="521.5" x2="749" y2="519.8" stroke="#333" stroke-width="1.0"/>
<line x1="746.6" y1="523.6" x2="749.7" y2="521.9" stroke="#333" stroke-width="1.0"/>
<line x1="747.2" y1="525.6" x2="750.2" y2="523.9" stroke="#333" stroke-width="1.0"/>
<line x1="747.5" y1="527.7" x2="750.6" y2="525.9" stroke="#333" stroke-width="1.0"/>
<line x1="747.7" y1="529.6" x2="750.8" y2="527.9" stroke="#333" stroke-width="1.0"/>
<line x1="747.8" y1="531.5" x2="750.8" y2="529.8" stroke="#333" stroke-width="1.0"/>
<line x1="747.7" y1="533.3" x2="750.8" y2="531.6" stroke="#333" stroke-width="1.0"/>
<line x1="747.5" y1="535" x2="750.6" y2="533.3" stroke="#333" stroke-width="1.0"/>
<line x1="747.2" y1="536.6" x2="750.2" y2="534.8" stroke="#333" stroke-width="1.0"/>
<line x1="746.7" y1="538.1" x2="749.7" y2="536.3" stroke="#333" stroke-width="1.0"/>
<line x1="746" y1="539.4" x2="749" y2="537.6" stroke="#333" stroke-width="1.0"/>
<line x1="745.2" y1="540.5" x2="748.3" y2="538.8" stroke="#333" stroke-width="1.0"/>
<line x1="744.3" y1="541.5" x2="747.4" y2="539.8" stroke="#333" stroke-width="1.0"/>
<line x1="743.3" y1="542.4" x2="746.3" y2="540.6" stroke="#333" stroke-width="1.0"/>
<ellipse cx="730.5" cy="521.5" rx="14.1" ry="24.5" fill="#fff" stroke="#333" stroke-width="2.8" transform="rotate(-30 730.5 521.5)"/>
<ellipse cx="730.5" cy="521.5" rx="14.1" ry="24.5" transform="rotate(-30 730.5 521.5)" fill="none" stroke="#fff" stroke-width="2.8" stroke-dasharray="1.6 1.5"/>
<ellipse cx="730.5" cy="521.5" rx="13.2" ry="22.8" fill="none" stroke="#2a2a2a" stroke-width="1" transform="rotate(-30 730.5 521.5)"/>
<ellipse cx="730.5" cy="521.5" rx="11" ry="19" fill="none" stroke="#2a2a2a" stroke-width="1" transform="rotate(-30 730.5 521.5)"/>
<ellipse cx="730.5" cy="521.5" rx="6.3" ry="11" fill="none" stroke="#2a2a2a" stroke-width="1" transform="rotate(-30 730.5 521.5)"/>
<ellipse cx="730.5" cy="521.5" rx="4.9" ry="8.5" fill="none" stroke="#444" stroke-width="1.6" transform="rotate(-30 730.5 521.5)"/>
<ellipse cx="730.5" cy="521.5" rx="2.9" ry="5" fill="#bbb" stroke="#2a2a2a" stroke-width="1" transform="rotate(-30 730.5 521.5)"/>
<ellipse cx="740.1" cy="521.9" rx="2.2" ry="4.2" fill="none" stroke="#2a2a2a" stroke-width="0.9" transform="rotate(-30 740.1 521.9)"/>
<ellipse cx="739.2" cy="533.5" rx="2.2" ry="4.2" fill="none" stroke="#2a2a2a" stroke-width="0.9" transform="rotate(-30 739.2 533.5)"/>
<ellipse cx="729.6" cy="533.2" rx="2.2" ry="4.2" fill="none" stroke="#2a2a2a" stroke-width="0.9" transform="rotate(-30 729.6 533.2)"/>
<ellipse cx="720.9" cy="521.1" rx="2.2" ry="4.2" fill="none" stroke="#2a2a2a" stroke-width="0.9" transform="rotate(-30 720.9 521.1)"/>
<ellipse cx="721.8" cy="509.5" rx="2.2" ry="4.2" fill="none" stroke="#2a2a2a" stroke-width="0.9" transform="rotate(-30 721.8 509.5)"/>
<ellipse cx="731.4" cy="509.8" rx="2.2" ry="4.2" fill="none" stroke="#2a2a2a" stroke-width="0.9" transform="rotate(-30 731.4 509.8)"/>
<ellipse cx="774.6" cy="495.8" rx="6.1" ry="10.5" fill="#fff" stroke="#2a2a2a" stroke-width="1.1" transform="rotate(-30 774.6 495.8)"/>
<polygon points="767.2,512.1 779.8,504.8 769.3,486.7 756.8,493.9" fill="#fff" stroke="none"/>
<line x1="767.2" y1="512.1" x2="779.8" y2="504.8" stroke="#2a2a2a" stroke-width="1.1"/>
<line x1="756.8" y1="493.9" x2="769.3" y2="486.7" stroke="#2a2a2a" stroke-width="1.1"/>
<ellipse cx="762" cy="503" rx="6.1" ry="10.5" fill="#fff" stroke="#2a2a2a" stroke-width="1.1" transform="rotate(-30 762 503)"/>
<line x1="757" y1="494.3" x2="769.6" y2="487.1" stroke="#2a2a2a" stroke-width="1.5"/>
<line x1="758.5" y1="496.9" x2="771" y2="489.6" stroke="#2a2a2a" stroke-width="0.8"/>
<line x1="759.9" y1="499.4" x2="772.5" y2="492.1" stroke="#2a2a2a" stroke-width="1.5"/>
<line x1="761.4" y1="501.9" x2="773.9" y2="494.6" stroke="#2a2a2a" stroke-width="0.8"/>
<line x1="762.8" y1="504.4" x2="775.4" y2="497.1" stroke="#2a2a2a" stroke-width="1.5"/>
<line x1="764.2" y1="506.9" x2="776.8" y2="499.6" stroke="#2a2a2a" stroke-width="0.8"/>
<line x1="765.7" y1="509.4" x2="778.3" y2="502.2" stroke="#2a2a2a" stroke-width="1.5"/>
<line x1="767.1" y1="511.9" x2="779.7" y2="504.7" stroke="#2a2a2a" stroke-width="0.8"/>
<polygon points="767.4,499.9 767.2,502.9 769.5,506 767.7,507.4 768.8,510.9 766.1,510.1 765.5,512.9 762.9,510.1 760.8,511 759.4,507.4 756.6,506.1 756.8,503.1 754.5,500 756.3,498.6 755.2,495.1 757.9,495.9 758.5,493.1 761.1,495.9 763.2,495 764.6,498.6" fill="#fff" stroke="#2a2a2a" stroke-width="1.2" stroke-linejoin="round"/>
<ellipse cx="762" cy="503" rx="3.5" ry="6" fill="#fff" stroke="#2a2a2a" stroke-width="1.1" transform="rotate(-30 762 503)"/>
<ellipse cx="762.3" cy="502.9" rx="2.3" ry="4" fill="none" stroke="#2a2a2a" stroke-width="1" transform="rotate(-30 762.3 502.9)"/>
<ellipse cx="814.4" cy="473" rx="2.1" ry="3.6" fill="#fff" stroke="#2a2a2a" stroke-width="1" transform="rotate(-30 814.4 473)"/>
<polygon points="792.8,489.6 816.2,476.1 812.6,469.9 789.2,483.4" fill="#fff" stroke="none"/>
<line x1="792.8" y1="489.6" x2="816.2" y2="476.1" stroke="#2a2a2a" stroke-width="1"/>
<line x1="789.2" y1="483.4" x2="812.6" y2="469.9" stroke="#2a2a2a" stroke-width="1"/>
<ellipse cx="791" cy="486.5" rx="2.1" ry="3.6" fill="#fff" stroke="#2a2a2a" stroke-width="1" transform="rotate(-30 791 486.5)"/>
<ellipse cx="832.5" cy="462" rx="3.9" ry="6.8" fill="#fff" stroke="#2a2a2a" stroke-width="1.1" transform="rotate(-30 832.5 462)"/>
<ellipse cx="832.5" cy="462" rx="1.6" ry="2.7" fill="#fff" stroke="#2a2a2a" stroke-width="0.9900000000000001" transform="rotate(-30 832.5 462)"/>
<ellipse cx="699.5" cy="539" rx="3.8" ry="6.5" fill="#fff" stroke="#2a2a2a" stroke-width="1.1" transform="rotate(-30 699.5 539)"/>
<ellipse cx="699.5" cy="539" rx="1.7" ry="2.9" fill="#fff" stroke="#2a2a2a" stroke-width="0.9900000000000001" transform="rotate(-30 699.5 539)"/>
<ellipse cx="921" cy="471" rx="3.1" ry="5.4" fill="#fff" stroke="#2a2a2a" stroke-width="1.05" transform="rotate(-30 921 471)"/>
<polygon points="858.7,513.2 923.7,475.7 918.2,466.3 853.3,503.8" fill="#fff" stroke="none"/>
<line x1="858.7" y1="513.2" x2="923.7" y2="475.7" stroke="#2a2a2a" stroke-width="1.05"/>
<line x1="853.3" y1="503.8" x2="918.2" y2="466.3" stroke="#2a2a2a" stroke-width="1.05"/>
<ellipse cx="856" cy="508.5" rx="3.1" ry="5.4" fill="#fff" stroke="#2a2a2a" stroke-width="1.05" transform="rotate(-30 856 508.5)"/>
<ellipse cx="856" cy="508.5" rx="3.1" ry="5.4" fill="#fff" stroke="#2a2a2a" stroke-width="1.1" transform="rotate(-30 856 508.5)"/>
<path d="M855.9,502.3 A3.1,5.4 -30 0 0 861.3,511.7" fill="none" stroke="#222" stroke-width="1.3" stroke-linejoin="round" stroke-linecap="round"/>
<path d="M856.9,501.8 A3.1,5.4 -30 0 0 862.3,511.1" fill="none" stroke="#222" stroke-width="1.3" stroke-linejoin="round" stroke-linecap="round"/>
<path d="M857.8,501.2 A3.1,5.4 -30 0 0 863.2,510.6" fill="none" stroke="#222" stroke-width="1.3" stroke-linejoin="round" stroke-linecap="round"/>
<path d="M859.4,500.3 A3.1,5.4 -30 0 0 864.8,509.7" fill="none" stroke="#222" stroke-width="1.3" stroke-linejoin="round" stroke-linecap="round"/>
<path d="M860.3,499.8 A3.1,5.4 -30 0 0 865.7,509.1" fill="none" stroke="#222" stroke-width="1.3" stroke-linejoin="round" stroke-linecap="round"/>
<path d="M861.3,499.2 A3.1,5.4 -30 0 0 866.7,508.6" fill="none" stroke="#222" stroke-width="1.3" stroke-linejoin="round" stroke-linecap="round"/>
<path d="M870.6,493.8 A3.1,5.4 -30 0 0 876,503.2" fill="none" stroke="#222" stroke-width="1.3" stroke-linejoin="round" stroke-linecap="round"/>
<path d="M871.6,493.3 A3.1,5.4 -30 0 0 877,502.6" fill="none" stroke="#222" stroke-width="1.3" stroke-linejoin="round" stroke-linecap="round"/>
<path d="M872.5,492.7 A3.1,5.4 -30 0 0 877.9,502.1" fill="none" stroke="#222" stroke-width="1.3" stroke-linejoin="round" stroke-linecap="round"/>
<path d="M874.1,491.8 A3.1,5.4 -30 0 0 879.5,501.2" fill="none" stroke="#222" stroke-width="1.3" stroke-linejoin="round" stroke-linecap="round"/>
<path d="M875,491.3 A3.1,5.4 -30 0 0 880.4,500.6" fill="none" stroke="#222" stroke-width="1.3" stroke-linejoin="round" stroke-linecap="round"/>
<path d="M876,490.7 A3.1,5.4 -30 0 0 881.4,500.1" fill="none" stroke="#222" stroke-width="1.3" stroke-linejoin="round" stroke-linecap="round"/>
<path d="M877.5,489.8 A3.1,5.4 -30 0 0 882.9,499.2" fill="none" stroke="#222" stroke-width="1.3" stroke-linejoin="round" stroke-linecap="round"/>
<path d="M878.5,489.3 A3.1,5.4 -30 0 0 883.9,498.6" fill="none" stroke="#222" stroke-width="1.3" stroke-linejoin="round" stroke-linecap="round"/>
<path d="M879.5,488.7 A3.1,5.4 -30 0 0 884.9,498.1" fill="none" stroke="#222" stroke-width="1.3" stroke-linejoin="round" stroke-linecap="round"/>
<path d="M901.8,475.8 A3.1,5.4 -30 0 0 907.2,485.2" fill="none" stroke="#222" stroke-width="1.3" stroke-linejoin="round" stroke-linecap="round"/>
<path d="M902.7,475.3 A3.1,5.4 -30 0 0 908.1,484.6" fill="none" stroke="#222" stroke-width="1.3" stroke-linejoin="round" stroke-linecap="round"/>
<path d="M903.7,474.7 A3.1,5.4 -30 0 0 909.1,484.1" fill="none" stroke="#222" stroke-width="1.3" stroke-linejoin="round" stroke-linecap="round"/>
<path d="M905.3,473.8 A3.1,5.4 -30 0 0 910.7,483.2" fill="none" stroke="#222" stroke-width="1.3" stroke-linejoin="round" stroke-linecap="round"/>
<path d="M906.2,473.3 A3.1,5.4 -30 0 0 911.6,482.6" fill="none" stroke="#222" stroke-width="1.3" stroke-linejoin="round" stroke-linecap="round"/>
<path d="M907.2,472.7 A3.1,5.4 -30 0 0 912.6,482.1" fill="none" stroke="#222" stroke-width="1.3" stroke-linejoin="round" stroke-linecap="round"/>
<path d="M913.1,469.3 A3.1,5.4 -30 0 0 918.5,478.7" fill="none" stroke="#222" stroke-width="1.3" stroke-linejoin="round" stroke-linecap="round"/>
<path d="M914,468.8 A3.1,5.4 -30 0 0 919.4,478.1" fill="none" stroke="#222" stroke-width="1.3" stroke-linejoin="round" stroke-linecap="round"/>
<path d="M915,468.2 A3.1,5.4 -30 0 0 920.4,477.6" fill="none" stroke="#222" stroke-width="1.3" stroke-linejoin="round" stroke-linecap="round"/>
<path d="M915.7,467.8 A3.1,5.4 -30 0 0 921.1,477.2" fill="none" stroke="#222" stroke-width="1.3" stroke-linejoin="round" stroke-linecap="round"/>
<path d="M916.6,467.3 A3.1,5.4 -30 0 0 922,476.6" fill="none" stroke="#222" stroke-width="1.3" stroke-linejoin="round" stroke-linecap="round"/>
<path d="M917.6,466.7 A3.1,5.4 -30 0 0 923,476.1" fill="none" stroke="#222" stroke-width="1.3" stroke-linejoin="round" stroke-linecap="round"/>
<path d="M864.6,497.3 A3.1,5.4 -30 0 0 870,506.7" fill="none" stroke="#2a2a2a" stroke-width="0.8" stroke-linejoin="round" stroke-linecap="round"/>
<path d="M884.5,485.8 A3.1,5.4 -30 0 0 889.9,495.2" fill="none" stroke="#2a2a2a" stroke-width="0.8" stroke-linejoin="round" stroke-linecap="round"/>
<path d="M908.7,471.8 A3.1,5.4 -30 0 0 914.1,481.2" fill="none" stroke="#2a2a2a" stroke-width="0.8" stroke-linejoin="round" stroke-linecap="round"/>
<ellipse cx="856.3" cy="508.3" rx="1.5" ry="2.6" fill="#999" stroke="#2a2a2a" stroke-width="0.9" transform="rotate(-30 856.3 508.3)"/>
<ellipse cx="932.7" cy="464.7" rx="2" ry="3.4" fill="#fff" stroke="#2a2a2a" stroke-width="1.5" transform="rotate(-30 932.7 464.7)"/>
<ellipse cx="952.4" cy="452.9" rx="2" ry="3.4" fill="#fff" stroke="#2a2a2a" stroke-width="1.5" transform="rotate(-30 952.4 452.9)"/>
<ellipse cx="980.1" cy="437.1" rx="2" ry="3.4" fill="#fff" stroke="#2a2a2a" stroke-width="1.5" transform="rotate(-30 980.1 437.1)"/>
<ellipse cx="790.6" cy="545.8" rx="2" ry="3.4" fill="#fff" stroke="#2a2a2a" stroke-width="1.5" transform="rotate(-30 790.6 545.8)"/>
<path d="M806.5,519.5 L814,512.5 L816,516 L811.5,521 Q815,530 822.5,537 L818.5,541.5 L812,541 Q806,530 806.5,519.5 Z" fill="#fff" stroke="#2a2a2a" stroke-width="1" stroke-linejoin="round" stroke-linecap="round"/>
<ellipse cx="811.8" cy="534.8" rx="3.2" ry="5.8" fill="#111" stroke="#2a2a2a" stroke-width="1" transform="rotate(-20 811.8 534.8)"/>
<line x1="809" y1="522" x2="817" y2="538" stroke="#2a2a2a" stroke-width="0.8"/>
<polygon points="967.1,314 971.2,306.7 972,299.4 973.6,296.2 979.3,293.8 984.9,296.2 988.2,295.4 989.8,291.3 995.5,288.9 1000.3,292.9 1006.8,297.8 1014.9,301.8 1018.9,301 1022.2,306.7 1027.8,311.6 1034.3,316.4 1039.1,314.8 1044.8,321.3 1048.9,328.5 1053.7,335.8 1058.6,342.3 1063.4,341.5 1067.5,348 1073.1,352 1079.6,355.2 1086.1,353.6 1092.5,359.3 1094.5,364.1 1095.8,369.8 1101.4,377.1 1105.5,385.2 1105.5,411.1 1104.7,425.6 1100.6,431.3 1095.8,432.1 1092.5,426.4 1086.1,423.7 1079.6,420.8 1075.6,422.4 1073.1,418.3 1067.5,415.1 1061.8,411.9 1058.6,414.3 1052.9,415.1 1050.5,409.4 1041.6,405.4 1032.7,401.4 1026.2,400.6 1023,393.3 1016.5,389.7 1010,386 1005.2,383.6 1001.9,378.7 995.5,375.5 992.2,369.8 987.4,364.1 984.1,356.1 980.9,348 974.4,342.3 972,335 970.4,328.5 967.9,318.8" fill="#fff" stroke="#2a2a2a" stroke-width="1.5" stroke-linejoin="round"/>
<polygon points="971.3,316.7 975.1,309.9 975.6,302.8 977.1,299.8 982.5,297.6 988.1,300.1 991.1,299.4 992.6,295.5 997.9,293.3 1002.6,297.4 1008.9,302.3 1016.5,306.6 1020.2,305.9 1023.3,311.6 1028.5,316.5 1034.3,321.4 1038.6,319.8 1043.5,326.1 1046.7,333 1050.5,339.6 1054.4,345.1 1059.1,344 1062.7,349.5 1068.2,352.8 1074.6,355.6 1081.1,354.1 1087.5,359.2 1089.5,363.7 1090.9,368.9 1096.6,375.7 1100.8,383.4 1101.5,408.1 1101.1,422.2 1097.3,427.6 1092.6,428.3 1089.3,422.6 1083,419.8 1076.7,416.7 1072.9,418.2 1070.4,414.1 1065,410.8 1059.5,407.4 1056.6,409.7 1051.4,410.4 1049,404.7 1040.8,400.5 1032.9,396.4 1027.2,395.6 1024.5,388.5 1019,385.4 1013.3,382.2 1008.9,380.3 1006.2,376 1000,373.5 997,368.5 992.3,363.5 989.1,356.3 985.8,348.9 979.2,343.6 976.7,336.8 974.9,330.6 972.2,321.4" fill="none" stroke="#2a2a2a" stroke-width="1.1" stroke-linejoin="round"/>
<polygon points="968.6,315 972.6,307.8 973.3,300.7 974.9,297.5 980.4,295.1 986.1,297.6 989.2,296.8 990.8,292.8 996.3,290.5 1001.1,294.5 1007.5,299.4 1015.5,303.5 1019.4,302.8 1022.6,308.4 1028.1,313.3 1034.3,318.2 1039,316.6 1044.3,323 1048.1,330.2 1052.5,337.2 1057.1,343.3 1061.9,342.4 1065.7,348.5 1071.3,352.3 1077.8,355.4 1084.3,353.8 1090.7,359.3 1092.7,364 1094,369.5 1099.7,376.6 1103.8,384.5 1104,410 1103.4,424.4 1099.4,430 1094.6,430.7 1091.4,425.1 1085,422.3 1078.5,419.3 1074.6,420.9 1072.1,416.8 1066.6,413.6 1061,410.3 1057.8,412.7 1052.3,413.4 1049.9,407.7 1041.3,403.6 1032.7,399.6 1026.5,398.8 1023.5,391.6 1017.4,388.1 1011.2,384.6 1006.5,382.4 1003.5,377.7 997.1,374.7 994,369.3 989.1,363.9 985.9,356.1 982.7,348.3 976.2,342.8 973.7,335.6 972,329.3 969.5,319.8" fill="none" stroke="#2a2a2a" stroke-width="0.7" stroke-linejoin="round"/>
<ellipse cx="970.4" cy="314.8" rx="1.7" ry="2.2" fill="#fff" stroke="#2a2a2a" stroke-width="0.9"/>
<ellipse cx="976" cy="297.8" rx="1.7" ry="2.2" fill="#fff" stroke="#2a2a2a" stroke-width="0.9"/>
<ellipse cx="992.2" cy="293.3" rx="1.7" ry="2.2" fill="#fff" stroke="#2a2a2a" stroke-width="0.9"/>
<ellipse cx="1017.3" cy="304.3" rx="1.7" ry="2.2" fill="#fff" stroke="#2a2a2a" stroke-width="0.9"/>
<ellipse cx="1036.7" cy="318" rx="1.7" ry="2.2" fill="#fff" stroke="#2a2a2a" stroke-width="0.9"/>
<ellipse cx="1061" cy="344.7" rx="1.7" ry="2.2" fill="#fff" stroke="#2a2a2a" stroke-width="0.9"/>
<ellipse cx="1083.6" cy="356.9" rx="1.7" ry="2.2" fill="#fff" stroke="#2a2a2a" stroke-width="0.9"/>
<ellipse cx="1098.2" cy="378.7" rx="1.7" ry="2.2" fill="#fff" stroke="#2a2a2a" stroke-width="0.9"/>
<ellipse cx="1101.4" cy="409.4" rx="1.7" ry="2.2" fill="#fff" stroke="#2a2a2a" stroke-width="0.9"/>
<ellipse cx="1097.4" cy="428.1" rx="1.7" ry="2.2" fill="#fff" stroke="#2a2a2a" stroke-width="0.9"/>
<ellipse cx="1076.7" cy="419.5" rx="1.7" ry="2.2" fill="#fff" stroke="#2a2a2a" stroke-width="0.9"/>
<ellipse cx="1056.1" cy="411.9" rx="1.7" ry="2.2" fill="#fff" stroke="#2a2a2a" stroke-width="0.9"/>
<ellipse cx="1028.6" cy="397.3" rx="1.7" ry="2.2" fill="#fff" stroke="#2a2a2a" stroke-width="0.9"/>
<ellipse cx="1006.8" cy="380.3" rx="1.7" ry="2.2" fill="#fff" stroke="#2a2a2a" stroke-width="0.9"/>
<ellipse cx="997.4" cy="376.3" rx="1.7" ry="2.2" fill="#fff" stroke="#2a2a2a" stroke-width="0.9"/>
<ellipse cx="989.8" cy="365" rx="1.7" ry="2.2" fill="#fff" stroke="#2a2a2a" stroke-width="0.9"/>
<ellipse cx="975.7" cy="340.2" rx="1.7" ry="2.2" fill="#fff" stroke="#2a2a2a" stroke-width="0.9"/>
<ellipse cx="971.2" cy="326.9" rx="1.7" ry="2.2" fill="#fff" stroke="#2a2a2a" stroke-width="0.9"/>
<polygon points="1004.1,337.7 981.6,305.5 980.2,306.3 999.7,340.5" fill="#bbb" stroke="#2a2a2a" stroke-width="1" stroke-linejoin="round"/>
<line x1="1001.9" y1="339.1" x2="980.9" y2="305.9" stroke="#444" stroke-width="0.8"/>
<polygon points="1004.4,338.5 994.6,301.7 993.1,302 999.4,339.7" fill="#bbb" stroke="#2a2a2a" stroke-width="1" stroke-linejoin="round"/>
<line x1="1001.9" y1="339.1" x2="993.8" y2="301.8" stroke="#444" stroke-width="0.8"/>
<polygon points="1004.4,339.9 1011.6,312.6 1010.1,312.1 999.4,338.3" fill="#bbb" stroke="#2a2a2a" stroke-width="1" stroke-linejoin="round"/>
<line x1="1001.9" y1="339.1" x2="1010.8" y2="312.4" stroke="#444" stroke-width="0.8"/>
<polygon points="1001.8,336.5 979.2,339.4 979.3,341 1002,341.7" fill="#bbb" stroke="#2a2a2a" stroke-width="1" stroke-linejoin="round"/>
<line x1="1001.9" y1="339.1" x2="979.3" y2="340.2" stroke="#444" stroke-width="0.8"/>
<polygon points="999.5,338 992.8,357.7 994.2,358.3 1004.3,340.2" fill="#bbb" stroke="#2a2a2a" stroke-width="1" stroke-linejoin="round"/>
<line x1="1001.9" y1="339.1" x2="993.5" y2="358" stroke="#444" stroke-width="0.8"/>
<polygon points="999.3,339.4 1005.7,375.2 1007.2,375 1004.5,338.8" fill="#bbb" stroke="#2a2a2a" stroke-width="1" stroke-linejoin="round"/>
<line x1="1001.9" y1="339.1" x2="1006.5" y2="375.1" stroke="#444" stroke-width="0.8"/>
<polygon points="999.6,340.2 1015.4,369 1016.9,368.3 1004.2,338" fill="#bbb" stroke="#2a2a2a" stroke-width="1" stroke-linejoin="round"/>
<line x1="1001.9" y1="339.1" x2="1016.2" y2="368.7" stroke="#444" stroke-width="0.8"/>
<ellipse cx="1003.5" cy="339.4" rx="9.8" ry="17" fill="#fff" stroke="#2a2a2a" stroke-width="1.2" transform="rotate(-30 1003.5 339.4)"/>
<ellipse cx="1002.5" cy="339.2" rx="8.8" ry="15.2" fill="none" stroke="#333" stroke-width="2.2" transform="rotate(-30 1002.5 339.2)"/>
<ellipse cx="1001.8" cy="339.1" rx="6.9" ry="12" fill="#fff" stroke="#2a2a2a" stroke-width="1.1" transform="rotate(-30 1001.8 339.1)"/>
<ellipse cx="1001.5" cy="339.1" rx="5.5" ry="9.6" fill="none" stroke="#333" stroke-width="2" transform="rotate(-30 1001.5 339.1)"/>
<ellipse cx="1001.3" cy="339.1" rx="3.7" ry="6.4" fill="#ddd" stroke="#2a2a2a" stroke-width="1" transform="rotate(-30 1001.3 339.1)"/>
<ellipse cx="1001.2" cy="339.1" rx="2.1" ry="3.6" fill="#fff" stroke="#2a2a2a" stroke-width="0.9" transform="rotate(-30 1001.2 339.1)"/>
<ellipse cx="1033.5" cy="347.2" rx="6.8" ry="11.8" fill="#fff" stroke="#222" stroke-width="2.2" transform="rotate(-30 1033.5 347.2)"/>
<ellipse cx="1033.5" cy="347.2" rx="4.6" ry="8" fill="none" stroke="#2a2a2a" stroke-width="1" transform="rotate(-30 1033.5 347.2)"/>
<ellipse cx="1033.7" cy="347.2" rx="2.3" ry="4" fill="none" stroke="#2a2a2a" stroke-width="1.1" transform="rotate(-30 1033.7 347.2)"/>
<ellipse cx="1045.6" cy="377.1" rx="7.7" ry="13.3" fill="#fff" stroke="#2a2a2a" stroke-width="1.2" transform="rotate(-30 1045.6 377.1)"/>
<ellipse cx="1045.6" cy="377.1" rx="6.6" ry="11.5" fill="none" stroke="#2a2a2a" stroke-width="0.8" transform="rotate(-30 1045.6 377.1)"/>
<ellipse cx="1045.8" cy="377.1" rx="3.6" ry="6.2" fill="none" stroke="#2a2a2a" stroke-width="1.1" transform="rotate(-30 1045.8 377.1)"/>
<ellipse cx="1046.2" cy="377" rx="2.3" ry="4" fill="none" stroke="#2a2a2a" stroke-width="0.9" transform="rotate(-30 1046.2 377)"/>
<ellipse cx="1072.3" cy="380.3" rx="8.4" ry="14.6" fill="#fff" stroke="#2a2a2a" stroke-width="1.2" transform="rotate(-30 1072.3 380.3)"/>
<ellipse cx="1072.3" cy="380.3" rx="5.8" ry="10" fill="none" stroke="#2a2a2a" stroke-width="1" transform="rotate(-30 1072.3 380.3)"/>
<ellipse cx="1072.3" cy="380.3" rx="4.6" ry="8" fill="none" stroke="#333" stroke-width="2" transform="rotate(-30 1072.3 380.3)"/>
<ellipse cx="1072.4" cy="380.3" rx="2.9" ry="5" fill="#ddd" stroke="#2a2a2a" stroke-width="1" transform="rotate(-30 1072.4 380.3)"/>
<ellipse cx="1072.5" cy="380.2" rx="1.6" ry="2.8" fill="#fff" stroke="#2a2a2a" stroke-width="0.8" transform="rotate(-30 1072.5 380.2)"/>
<polygon points="1014.1,372.2 1026.2,373 1035.9,378.7 1055.3,390 1073.1,400.6 1075.1,404.6 1073.9,407.8 1068.3,411.1 1052.1,405.4 1045.6,396.5 1035.9,390 1031.1,385.2 1018.1,383.6 1011.6,378.7 1011.3,374.7" fill="none" stroke="#2a2a2a" stroke-width="1.1" stroke-linejoin="round"/>
<ellipse cx="1024.6" cy="322.1" rx="1.8" ry="2.2" fill="none" stroke="#2a2a2a" stroke-width="1"/>
<ellipse cx="1073.1" cy="363.3" rx="1.8" ry="2.2" fill="none" stroke="#2a2a2a" stroke-width="1"/>
<ellipse cx="1045.6" cy="399.7" rx="2.8" ry="3.5" fill="none" stroke="#2a2a2a" stroke-width="1"/>
<polyline points="1097.7,373 1098.5,383.6 1098.5,425.6 1095.8,432.1" fill="none" stroke="#2a2a2a" stroke-width="1" stroke-linejoin="round"/>
<polyline points="1098.7,393.3 1105.5,391.7" fill="none" stroke="#2a2a2a" stroke-width="0.9" stroke-linejoin="round"/>
<polyline points="1098.7,407.8 1105.5,406.2" fill="none" stroke="#2a2a2a" stroke-width="0.9" stroke-linejoin="round"/>
<polyline points="1098.7,419.2 1105.2,417.9" fill="none" stroke="#2a2a2a" stroke-width="0.9" stroke-linejoin="round"/>
<polyline points="1101.5,377.1 1101.5,385.5 1105.5,385.5" fill="none" stroke="#2a2a2a" stroke-width="0.9" stroke-linejoin="round"/>
<polyline points="1070.6,242 1060.4,247.3 1062,250.5 1072.2,245.3" fill="#fff" stroke="#2a2a2a" stroke-width="0.9" stroke-linejoin="round"/>
<ellipse cx="1061.2" cy="248.9" rx="1.1" ry="2" fill="#fff" stroke="#2a2a2a" stroke-width="0.8" transform="rotate(-27 1061.2 248.9)"/>
<ellipse cx="1071.4" cy="243.6" rx="1.6" ry="4.2" fill="#fff" stroke="#2a2a2a" stroke-width="1.1" transform="rotate(-27 1071.4 243.6)"/>
<polygon points="1070.9,240.5 1074.9,238.4 1077.7,243.9 1073.7,245.9" fill="#ddd" stroke="#2a2a2a" stroke-width="1.2" stroke-linejoin="round"/>
<ellipse cx="1076.3" cy="241.1" rx="1.3" ry="3.4" fill="#bbb" stroke="#2a2a2a" stroke-width="1" transform="rotate(-27 1076.3 241.1)"/>
<polyline points="1085.8,237 1075.6,242.3 1077.2,245.5 1087.5,240.3" fill="#fff" stroke="#2a2a2a" stroke-width="0.9" stroke-linejoin="round"/>
<ellipse cx="1076.4" cy="243.9" rx="1.1" ry="2" fill="#fff" stroke="#2a2a2a" stroke-width="0.8" transform="rotate(-27 1076.4 243.9)"/>
<ellipse cx="1086.7" cy="238.6" rx="1.6" ry="4.2" fill="#fff" stroke="#2a2a2a" stroke-width="1.1" transform="rotate(-27 1086.7 238.6)"/>
<polygon points="1086.2,235.5 1090.2,233.4 1093,238.9 1088.9,240.9" fill="#ddd" stroke="#2a2a2a" stroke-width="1.2" stroke-linejoin="round"/>
<ellipse cx="1091.6" cy="236.1" rx="1.3" ry="3.4" fill="#bbb" stroke="#2a2a2a" stroke-width="1" transform="rotate(-27 1091.6 236.1)"/>
<polyline points="1107.8,249.5 1097.6,254.8 1099.2,258 1109.5,252.8" fill="#fff" stroke="#2a2a2a" stroke-width="0.9" stroke-linejoin="round"/>
<ellipse cx="1098.4" cy="256.4" rx="1.1" ry="2" fill="#fff" stroke="#2a2a2a" stroke-width="0.8" transform="rotate(-27 1098.4 256.4)"/>
<ellipse cx="1108.7" cy="251.1" rx="1.6" ry="4.2" fill="#fff" stroke="#2a2a2a" stroke-width="1.1" transform="rotate(-27 1108.7 251.1)"/>
<polygon points="1108.2,248 1112.2,245.9 1115,251.4 1110.9,253.4" fill="#ddd" stroke="#2a2a2a" stroke-width="1.2" stroke-linejoin="round"/>
<ellipse cx="1113.6" cy="248.6" rx="1.3" ry="3.4" fill="#bbb" stroke="#2a2a2a" stroke-width="1" transform="rotate(-27 1113.6 248.6)"/>
<polyline points="1130.8,262 1120.6,267.3 1122.2,270.5 1132.5,265.3" fill="#fff" stroke="#2a2a2a" stroke-width="0.9" stroke-linejoin="round"/>
<ellipse cx="1121.4" cy="268.9" rx="1.1" ry="2" fill="#fff" stroke="#2a2a2a" stroke-width="0.8" transform="rotate(-27 1121.4 268.9)"/>
<ellipse cx="1131.7" cy="263.6" rx="1.6" ry="4.2" fill="#fff" stroke="#2a2a2a" stroke-width="1.1" transform="rotate(-27 1131.7 263.6)"/>
<polygon points="1131.2,260.5 1135.2,258.4 1138,263.9 1133.9,265.9" fill="#ddd" stroke="#2a2a2a" stroke-width="1.2" stroke-linejoin="round"/>
<ellipse cx="1136.6" cy="261.1" rx="1.3" ry="3.4" fill="#bbb" stroke="#2a2a2a" stroke-width="1" transform="rotate(-27 1136.6 261.1)"/>
<polyline points="1064.3,260 1054.1,265.3 1055.7,268.5 1066,263.3" fill="#fff" stroke="#2a2a2a" stroke-width="0.9" stroke-linejoin="round"/>
<ellipse cx="1054.9" cy="266.9" rx="1.1" ry="2" fill="#fff" stroke="#2a2a2a" stroke-width="0.8" transform="rotate(-27 1054.9 266.9)"/>
<ellipse cx="1065.2" cy="261.6" rx="1.6" ry="4.2" fill="#fff" stroke="#2a2a2a" stroke-width="1.1" transform="rotate(-27 1065.2 261.6)"/>
<polygon points="1064.7,258.5 1068.7,256.4 1071.5,261.9 1067.4,263.9" fill="#ddd" stroke="#2a2a2a" stroke-width="1.2" stroke-linejoin="round"/>
<ellipse cx="1070.1" cy="259.1" rx="1.3" ry="3.4" fill="#bbb" stroke="#2a2a2a" stroke-width="1" transform="rotate(-27 1070.1 259.1)"/>
<polyline points="1069.8,284.5 1059.6,289.8 1061.2,293 1071.5,287.8" fill="#fff" stroke="#2a2a2a" stroke-width="0.9" stroke-linejoin="round"/>
<ellipse cx="1060.4" cy="291.4" rx="1.1" ry="2" fill="#fff" stroke="#2a2a2a" stroke-width="0.8" transform="rotate(-27 1060.4 291.4)"/>
<ellipse cx="1070.7" cy="286.1" rx="1.6" ry="4.2" fill="#fff" stroke="#2a2a2a" stroke-width="1.1" transform="rotate(-27 1070.7 286.1)"/>
<polygon points="1070.2,283 1074.2,280.9 1077,286.4 1072.9,288.4" fill="#ddd" stroke="#2a2a2a" stroke-width="1.2" stroke-linejoin="round"/>
<ellipse cx="1075.6" cy="283.6" rx="1.3" ry="3.4" fill="#bbb" stroke="#2a2a2a" stroke-width="1" transform="rotate(-27 1075.6 283.6)"/>
<polyline points="1084.3,307.5 1074.1,312.8 1075.7,316 1086,310.8" fill="#fff" stroke="#2a2a2a" stroke-width="0.9" stroke-linejoin="round"/>
<ellipse cx="1074.9" cy="314.4" rx="1.1" ry="2" fill="#fff" stroke="#2a2a2a" stroke-width="0.8" transform="rotate(-27 1074.9 314.4)"/>
<ellipse cx="1085.2" cy="309.1" rx="1.6" ry="4.2" fill="#fff" stroke="#2a2a2a" stroke-width="1.1" transform="rotate(-27 1085.2 309.1)"/>
<polygon points="1084.7,306 1088.7,303.9 1091.5,309.4 1087.4,311.4" fill="#ddd" stroke="#2a2a2a" stroke-width="1.2" stroke-linejoin="round"/>
<ellipse cx="1090.1" cy="306.6" rx="1.3" ry="3.4" fill="#bbb" stroke="#2a2a2a" stroke-width="1" transform="rotate(-27 1090.1 306.6)"/>
<polyline points="1102.3,328 1092.1,333.3 1093.7,336.5 1104,331.3" fill="#fff" stroke="#2a2a2a" stroke-width="0.9" stroke-linejoin="round"/>
<ellipse cx="1092.9" cy="334.9" rx="1.1" ry="2" fill="#fff" stroke="#2a2a2a" stroke-width="0.8" transform="rotate(-27 1092.9 334.9)"/>
<ellipse cx="1103.2" cy="329.6" rx="1.6" ry="4.2" fill="#fff" stroke="#2a2a2a" stroke-width="1.1" transform="rotate(-27 1103.2 329.6)"/>
<polygon points="1102.7,326.5 1106.7,324.4 1109.5,329.9 1105.4,331.9" fill="#ddd" stroke="#2a2a2a" stroke-width="1.2" stroke-linejoin="round"/>
<ellipse cx="1108.1" cy="327.1" rx="1.3" ry="3.4" fill="#bbb" stroke="#2a2a2a" stroke-width="1" transform="rotate(-27 1108.1 327.1)"/>
<polyline points="1121.8,341 1111.6,346.3 1113.2,349.5 1123.5,344.3" fill="#fff" stroke="#2a2a2a" stroke-width="0.9" stroke-linejoin="round"/>
<ellipse cx="1112.4" cy="347.9" rx="1.1" ry="2" fill="#fff" stroke="#2a2a2a" stroke-width="0.8" transform="rotate(-27 1112.4 347.9)"/>
<ellipse cx="1122.7" cy="342.6" rx="1.6" ry="4.2" fill="#fff" stroke="#2a2a2a" stroke-width="1.1" transform="rotate(-27 1122.7 342.6)"/>
<polygon points="1122.2,339.5 1126.2,337.4 1129,342.9 1124.9,344.9" fill="#ddd" stroke="#2a2a2a" stroke-width="1.2" stroke-linejoin="round"/>
<ellipse cx="1127.6" cy="340.1" rx="1.3" ry="3.4" fill="#bbb" stroke="#2a2a2a" stroke-width="1" transform="rotate(-27 1127.6 340.1)"/>
<polyline points="1152.3,289.5 1142.1,294.8 1143.7,298 1154,292.8" fill="#fff" stroke="#2a2a2a" stroke-width="0.9" stroke-linejoin="round"/>
<ellipse cx="1142.9" cy="296.4" rx="1.1" ry="2" fill="#fff" stroke="#2a2a2a" stroke-width="0.8" transform="rotate(-27 1142.9 296.4)"/>
<ellipse cx="1153.2" cy="291.1" rx="1.6" ry="4.2" fill="#fff" stroke="#2a2a2a" stroke-width="1.1" transform="rotate(-27 1153.2 291.1)"/>
<polygon points="1152.7,288 1156.7,285.9 1159.5,291.4 1155.4,293.4" fill="#ddd" stroke="#2a2a2a" stroke-width="1.2" stroke-linejoin="round"/>
<ellipse cx="1158.1" cy="288.6" rx="1.3" ry="3.4" fill="#bbb" stroke="#2a2a2a" stroke-width="1" transform="rotate(-27 1158.1 288.6)"/>
<polyline points="1174.8,302.5 1164.6,307.8 1166.2,311 1176.5,305.8" fill="#fff" stroke="#2a2a2a" stroke-width="0.9" stroke-linejoin="round"/>
<ellipse cx="1165.4" cy="309.4" rx="1.1" ry="2" fill="#fff" stroke="#2a2a2a" stroke-width="0.8" transform="rotate(-27 1165.4 309.4)"/>
<ellipse cx="1175.7" cy="304.1" rx="1.6" ry="4.2" fill="#fff" stroke="#2a2a2a" stroke-width="1.1" transform="rotate(-27 1175.7 304.1)"/>
<polygon points="1175.2,301 1179.2,298.9 1182,304.4 1177.9,306.4" fill="#ddd" stroke="#2a2a2a" stroke-width="1.2" stroke-linejoin="round"/>
<ellipse cx="1180.6" cy="301.6" rx="1.3" ry="3.4" fill="#bbb" stroke="#2a2a2a" stroke-width="1" transform="rotate(-27 1180.6 301.6)"/>
<polyline points="1191.8,330 1181.6,335.3 1183.2,338.5 1193.5,333.3" fill="#fff" stroke="#2a2a2a" stroke-width="0.9" stroke-linejoin="round"/>
<ellipse cx="1182.4" cy="336.9" rx="1.1" ry="2" fill="#fff" stroke="#2a2a2a" stroke-width="0.8" transform="rotate(-27 1182.4 336.9)"/>
<ellipse cx="1192.7" cy="331.6" rx="1.6" ry="4.2" fill="#fff" stroke="#2a2a2a" stroke-width="1.1" transform="rotate(-27 1192.7 331.6)"/>
<polygon points="1192.2,328.5 1196.2,326.4 1199,331.9 1194.9,333.9" fill="#ddd" stroke="#2a2a2a" stroke-width="1.2" stroke-linejoin="round"/>
<ellipse cx="1197.6" cy="329.1" rx="1.3" ry="3.4" fill="#bbb" stroke="#2a2a2a" stroke-width="1" transform="rotate(-27 1197.6 329.1)"/>
<polyline points="1148.8,356 1138.6,361.3 1140.2,364.5 1150.5,359.3" fill="#fff" stroke="#2a2a2a" stroke-width="0.9" stroke-linejoin="round"/>
<ellipse cx="1139.4" cy="362.9" rx="1.1" ry="2" fill="#fff" stroke="#2a2a2a" stroke-width="0.8" transform="rotate(-27 1139.4 362.9)"/>
<ellipse cx="1149.7" cy="357.6" rx="1.6" ry="4.2" fill="#fff" stroke="#2a2a2a" stroke-width="1.1" transform="rotate(-27 1149.7 357.6)"/>
<polygon points="1149.2,354.5 1153.2,352.4 1156,357.9 1151.9,359.9" fill="#ddd" stroke="#2a2a2a" stroke-width="1.2" stroke-linejoin="round"/>
<ellipse cx="1154.6" cy="355.1" rx="1.3" ry="3.4" fill="#bbb" stroke="#2a2a2a" stroke-width="1" transform="rotate(-27 1154.6 355.1)"/>
<polyline points="1170.8,363 1160.6,368.3 1162.2,371.5 1172.5,366.3" fill="#fff" stroke="#2a2a2a" stroke-width="0.9" stroke-linejoin="round"/>
<ellipse cx="1161.4" cy="369.9" rx="1.1" ry="2" fill="#fff" stroke="#2a2a2a" stroke-width="0.8" transform="rotate(-27 1161.4 369.9)"/>
<ellipse cx="1171.7" cy="364.6" rx="1.6" ry="4.2" fill="#fff" stroke="#2a2a2a" stroke-width="1.1" transform="rotate(-27 1171.7 364.6)"/>
<polygon points="1171.2,361.5 1175.2,359.4 1178,364.9 1173.9,366.9" fill="#ddd" stroke="#2a2a2a" stroke-width="1.2" stroke-linejoin="round"/>
<ellipse cx="1176.6" cy="362.1" rx="1.3" ry="3.4" fill="#bbb" stroke="#2a2a2a" stroke-width="1" transform="rotate(-27 1176.6 362.1)"/>
<polyline points="1192.8,356 1182.6,361.3 1184.2,364.5 1194.5,359.3" fill="#fff" stroke="#2a2a2a" stroke-width="0.9" stroke-linejoin="round"/>
<ellipse cx="1183.4" cy="362.9" rx="1.1" ry="2" fill="#fff" stroke="#2a2a2a" stroke-width="0.8" transform="rotate(-27 1183.4 362.9)"/>
<ellipse cx="1193.7" cy="357.6" rx="1.6" ry="4.2" fill="#fff" stroke="#2a2a2a" stroke-width="1.1" transform="rotate(-27 1193.7 357.6)"/>
<polygon points="1193.2,354.5 1197.2,352.4 1200,357.9 1195.9,359.9" fill="#ddd" stroke="#2a2a2a" stroke-width="1.2" stroke-linejoin="round"/>
<ellipse cx="1198.6" cy="355.1" rx="1.3" ry="3.4" fill="#bbb" stroke="#2a2a2a" stroke-width="1" transform="rotate(-27 1198.6 355.1)"/>
<polyline points="1189.3,371.5 1179.1,376.8 1180.7,380 1191,374.8" fill="#fff" stroke="#2a2a2a" stroke-width="0.9" stroke-linejoin="round"/>
<ellipse cx="1179.9" cy="378.4" rx="1.1" ry="2" fill="#fff" stroke="#2a2a2a" stroke-width="0.8" transform="rotate(-27 1179.9 378.4)"/>
<ellipse cx="1190.2" cy="373.1" rx="1.6" ry="4.2" fill="#fff" stroke="#2a2a2a" stroke-width="1.1" transform="rotate(-27 1190.2 373.1)"/>
<polygon points="1189.7,370 1193.7,367.9 1196.5,373.4 1192.4,375.4" fill="#ddd" stroke="#2a2a2a" stroke-width="1.2" stroke-linejoin="round"/>
<ellipse cx="1195.1" cy="370.6" rx="1.3" ry="3.4" fill="#bbb" stroke="#2a2a2a" stroke-width="1" transform="rotate(-27 1195.1 370.6)"/>
<ellipse cx="1059.3" cy="300" rx="2.4" ry="4.2" fill="#fff" stroke="#2a2a2a" stroke-width="1.1" transform="rotate(-30 1059.3 300)"/>
<polygon points="1057.1,306.1 1061.4,303.6 1057.2,296.4 1052.9,298.9" fill="#fff" stroke="none"/>
<line x1="1057.1" y1="306.1" x2="1061.4" y2="303.6" stroke="#2a2a2a" stroke-width="1.1"/>
<line x1="1052.9" y1="298.9" x2="1057.2" y2="296.4" stroke="#2a2a2a" stroke-width="1.1"/>
<ellipse cx="1055" cy="302.5" rx="2.4" ry="4.2" fill="#fff" stroke="#2a2a2a" stroke-width="1.1" transform="rotate(-30 1055 302.5)"/>
<ellipse cx="1060" cy="299.6" rx="3" ry="5.2" fill="#ddd" stroke="#2a2a2a" stroke-width="1.2" transform="rotate(-30 1060 299.6)"/>
<ellipse cx="1055" cy="302.5" rx="2.4" ry="4.2" fill="#fff" stroke="#2a2a2a" stroke-width="1" transform="rotate(-30 1055 302.5)"/>
<path d="M1226.5,263 Q1231,259.5 1235.5,263 L1236,268 L1234.5,290 Q1236,297 1231,299 Q1225,299 1224.5,292 Z" fill="#fff" stroke="#2a2a2a" stroke-width="1.1" stroke-linejoin="round" stroke-linecap="round"/>
<ellipse cx="1230" cy="292.5" rx="4.2" ry="5.5" fill="#555" stroke="#2a2a2a" stroke-width="1" transform="rotate(-20 1230 292.5)"/>
<ellipse cx="1230" cy="292.5" rx="2" ry="2.8" fill="#ccc" stroke="#2a2a2a" stroke-width="0.7" transform="rotate(-20 1230 292.5)"/>
<ellipse cx="1231" cy="265.5" rx="1.6" ry="2" fill="none" stroke="#2a2a2a" stroke-width="0.8"/>
<ellipse cx="1230.8" cy="272.5" rx="0.8" ry="1" fill="none" stroke="#2a2a2a" stroke-width="0.7"/>
<path d="M1256,273 Q1262,273 1262,278 Q1262,281 1258.5,280 M1256,273 Q1254.5,277 1257.5,279" fill="none" stroke="#2a2a2a" stroke-width="1.2" stroke-linejoin="round" stroke-linecap="round"/>
<polygon points="508.4,597 512,593.5 518,591.5 524.7,589.3 536.7,582.3 546.6,576.6 546.6,569.5 535.3,565.3 535.3,544 542.4,541.9 553,543.3 557.9,535.6 562,532.5 566.4,531.3 571,528.5 576.3,527.8 583.4,526.4 589,531.3 596,534.5 603.2,538.4 610,542.6 617,546.5 622.5,550 627,554 631,562 636,571 642.3,578 649.3,579.5 656,584 664,588.5 670.6,591.5 679,596.6 684,604 687.5,611 691.8,622 693,632 693,650 691.8,664.5 686,669.5 679,671.6 667.7,670 660,675.8 646.5,678 633.8,675 627,669 622.5,663 610,664 598.3,663.3 593,660 588,654 580.6,644.5 574.9,637.4 570.7,627.5 566.4,619 560.8,616.2 546.6,619 532.5,623.3 518.3,631.8 510,640.5 503,642" fill="#fff" stroke="#2a2a2a" stroke-width="1.4" stroke-linejoin="round"/>
<polygon points="513.6,638.9 522.3,633.9 505.1,604.1 496.4,609.1" fill="#fff" stroke="none"/>
<line x1="513.6" y1="638.9" x2="522.3" y2="633.9" stroke="#2a2a2a" stroke-width="1.2"/>
<line x1="496.4" y1="609.1" x2="505.1" y2="604.1" stroke="#2a2a2a" stroke-width="1.2"/>
<ellipse cx="505" cy="624" rx="9.9" ry="17.2" fill="#fff" stroke="#2a2a2a" stroke-width="1.2" transform="rotate(-30 505 624)"/>
<path d="M505.1,604.1 A9.9,17.2 -30 0 1 522.3,633.9" fill="none" stroke="#2a2a2a" stroke-width="1.1" stroke-linejoin="round" stroke-linecap="round"/>
<ellipse cx="505" cy="624" rx="9.9" ry="17.2" fill="#fff" stroke="#2a2a2a" stroke-width="1.5" transform="rotate(-30 505 624)"/>
<ellipse cx="505.6" cy="623.7" rx="8.5" ry="14.8" fill="none" stroke="#2a2a2a" stroke-width="1.1" transform="rotate(-30 505.6 623.7)"/>
<ellipse cx="506.3" cy="623.4" rx="7.5" ry="13" fill="none" stroke="#2a2a2a" stroke-width="1" transform="rotate(-30 506.3 623.4)"/>
<path d="M496,634 Q502,643 512,639" fill="none" stroke="#2a2a2a" stroke-width="1.3" stroke-linejoin="round" stroke-linecap="round"/>
<polyline points="497,629 511,621" fill="none" stroke="#2a2a2a" stroke-width="1.05" stroke-linejoin="round" stroke-dasharray="17 2.5 4 2.5"/>
<line x1="505" y1="616" x2="508" y2="624" stroke="#2a2a2a" stroke-width="0.8"/>
<line x1="502" y1="620" x2="512" y2="626" stroke="#2a2a2a" stroke-width="0.7"/>
<rect x="535.1" y="610.6" width="4.6" height="17" fill="#fff" stroke="#2a2a2a" stroke-width="1"/>
<ellipse cx="537.4" cy="610.6" rx="2.3" ry="1.3" fill="#fff" stroke="#2a2a2a" stroke-width="1"/>
<rect x="543.6" y="600" width="4.6" height="17" fill="#fff" stroke="#2a2a2a" stroke-width="1"/>
<ellipse cx="545.9" cy="600" rx="2.3" ry="1.3" fill="#fff" stroke="#2a2a2a" stroke-width="1"/>
<rect x="527.7" y="613" width="4.6" height="14" fill="#fff" stroke="#2a2a2a" stroke-width="1"/>
<ellipse cx="530" cy="613" rx="2.3" ry="1.3" fill="#fff" stroke="#2a2a2a" stroke-width="1"/>
<line x1="509.5" y1="594" x2="509.5" y2="598" stroke="#2a2a2a" stroke-width="1"/>
<line x1="515.5" y1="594" x2="515.5" y2="598" stroke="#2a2a2a" stroke-width="1"/>
<ellipse cx="512.5" cy="594" rx="2.6" ry="1.5" fill="#fff" stroke="#2a2a2a" stroke-width="1"/>
<ellipse cx="512.5" cy="594" rx="1.3" ry="0.8" fill="none" stroke="#2a2a2a" stroke-width="0.7"/>
<line x1="523.5" y1="590" x2="523.5" y2="593" stroke="#2a2a2a" stroke-width="1"/>
<line x1="528.5" y1="590" x2="528.5" y2="593" stroke="#2a2a2a" stroke-width="1"/>
<ellipse cx="526" cy="590" rx="2.2" ry="1.3" fill="#fff" stroke="#2a2a2a" stroke-width="1"/>
<ellipse cx="526" cy="590" rx="1.1" ry="0.7" fill="none" stroke="#2a2a2a" stroke-width="0.7"/>
<polyline points="513,600 524,595 536,590.5 546,584 552,581" fill="none" stroke="#2a2a2a" stroke-width="1.1" stroke-linejoin="round"/>
<polyline points="516,606 528,600 540,597 550,591 558,587" fill="none" stroke="#2a2a2a" stroke-width="1" stroke-linejoin="round"/>
<polyline points="524.7,589.3 530,592 538,589 548,583" fill="none" stroke="#2a2a2a" stroke-width="0.9" stroke-linejoin="round"/>
<polyline points="527,609 536,604 548,600 560,596 572,593.5 580.6,594.3" fill="none" stroke="#2a2a2a" stroke-width="1" stroke-linejoin="round"/>
<polyline points="518.3,631.8 532.5,623.3 546.6,619 560.8,616.2 566.4,619 570.7,627.5 574.9,637.4 580.6,644.5 586,651" fill="none" stroke="#2a2a2a" stroke-width="2" stroke-linejoin="round"/>
<polyline points="520,628 534,620 548,616 561,613 568,616 573,626" fill="none" stroke="#2a2a2a" stroke-width="0.9" stroke-linejoin="round"/>
<polyline points="536.7,586.5 556,581 569.5,584.5 552,590 540,594" fill="none" stroke="#2a2a2a" stroke-width="1" stroke-linejoin="round"/>
<polyline points="548,596 562,588 569,585 566,592 556,599" fill="none" stroke="#2a2a2a" stroke-width="0.9" stroke-linejoin="round"/>
<path d="M552.3,583.7 Q561,587 563.6,593.6 Q565,597 565,601" fill="none" stroke="#2a2a2a" stroke-width="1" stroke-linejoin="round" stroke-linecap="round"/>
<polygon points="535.5,544 535.5,565.3 544.5,569.5 555.5,566 561.5,564.6 560,557.5 553,543.3 542.4,541.9" fill="#fff" stroke="#2a2a2a" stroke-width="1.2" stroke-linejoin="round"/>
<polyline points="535.3,544 546,548 553,543.3" fill="none" stroke="#2a2a2a" stroke-width="1" stroke-linejoin="round"/>
<polyline points="546,548 552.5,551 560,557.5" fill="none" stroke="#2a2a2a" stroke-width="1" stroke-linejoin="round"/>
<line x1="552.5" y1="551" x2="553" y2="566.5" stroke="#2a2a2a" stroke-width="0.9"/>
<ellipse cx="541.5" cy="545" rx="3" ry="1.7" fill="#fff" stroke="#2a2a2a" stroke-width="1"/>
<ellipse cx="541.5" cy="545" rx="1.5" ry="0.8" fill="none" stroke="#2a2a2a" stroke-width="0.7"/>
<polygon points="547,552 548,556 551,554" fill="none" stroke="#2a2a2a" stroke-width="0.8" stroke-linejoin="round"/>
<path d="M544.5,569.5 Q547,574 546.6,576.6 M555.5,566 Q556,572 550,577.5" fill="none" stroke="#2a2a2a" stroke-width="1" stroke-linejoin="round" stroke-linecap="round"/>
<polyline points="556,561 562,564.6 559,568 551,571" fill="none" stroke="#2a2a2a" stroke-width="1.4" stroke-linejoin="round"/>
<polyline points="554.4,552.5 557,548 560.8,544 565,541.5 569.2,540.5 575,540 580.6,541.2 586,544 591.9,548.3 597,553.5 601.8,559.6 606,566.5 610,574" fill="none" stroke="#2a2a2a" stroke-width="1.1" stroke-linejoin="round"/>
<polyline points="556,544 560,539 566,535.5 573,533 582,531.5 589,535.5 598,540 606,544 613,548 620,553" fill="none" stroke="#2a2a2a" stroke-width="0.9" stroke-linejoin="round"/>
<line x1="558.5" y1="533.5" x2="558.5" y2="538" stroke="#2a2a2a" stroke-width="1.1"/>
<line x1="563.5" y1="533.5" x2="563.5" y2="538" stroke="#2a2a2a" stroke-width="1.1"/>
<ellipse cx="561" cy="533.5" rx="2.8" ry="1.7" fill="#fff" stroke="#2a2a2a" stroke-width="1.1"/>
<ellipse cx="561" cy="533.5" rx="1.4" ry="0.8" fill="none" stroke="#2a2a2a" stroke-width="0.7"/>
<line x1="565.5" y1="530.5" x2="565.5" y2="535" stroke="#2a2a2a" stroke-width="1.1"/>
<line x1="570.5" y1="530.5" x2="570.5" y2="535" stroke="#2a2a2a" stroke-width="1.1"/>
<ellipse cx="568" cy="530.5" rx="2.8" ry="1.7" fill="#fff" stroke="#2a2a2a" stroke-width="1.1"/>
<ellipse cx="568" cy="530.5" rx="1.4" ry="0.8" fill="none" stroke="#2a2a2a" stroke-width="0.7"/>
<line x1="574.5" y1="528.5" x2="574.5" y2="533" stroke="#2a2a2a" stroke-width="1.1"/>
<line x1="580.5" y1="528.5" x2="580.5" y2="533" stroke="#2a2a2a" stroke-width="1.1"/>
<ellipse cx="577.5" cy="528.5" rx="2.8" ry="1.7" fill="#fff" stroke="#2a2a2a" stroke-width="1.1"/>
<ellipse cx="577.5" cy="528.5" rx="1.4" ry="0.8" fill="none" stroke="#2a2a2a" stroke-width="0.7"/>
<line x1="587.5" y1="534" x2="587.5" y2="538.5" stroke="#2a2a2a" stroke-width="1.1"/>
<line x1="592.5" y1="534" x2="592.5" y2="538.5" stroke="#2a2a2a" stroke-width="1.1"/>
<ellipse cx="590" cy="534" rx="2.8" ry="1.7" fill="#fff" stroke="#2a2a2a" stroke-width="1.1"/>
<ellipse cx="590" cy="534" rx="1.4" ry="0.8" fill="none" stroke="#2a2a2a" stroke-width="0.7"/>
<line x1="601.5" y1="540.5" x2="601.5" y2="545" stroke="#2a2a2a" stroke-width="1.1"/>
<line x1="606.5" y1="540.5" x2="606.5" y2="545" stroke="#2a2a2a" stroke-width="1.1"/>
<ellipse cx="604" cy="540.5" rx="2.8" ry="1.7" fill="#fff" stroke="#2a2a2a" stroke-width="1.1"/>
<ellipse cx="604" cy="540.5" rx="1.4" ry="0.8" fill="none" stroke="#2a2a2a" stroke-width="0.7"/>
<line x1="619.5" y1="552" x2="619.5" y2="556.5" stroke="#2a2a2a" stroke-width="1.1"/>
<line x1="625.5" y1="552" x2="625.5" y2="556.5" stroke="#2a2a2a" stroke-width="1.1"/>
<ellipse cx="622.5" cy="552" rx="2.8" ry="1.7" fill="#fff" stroke="#2a2a2a" stroke-width="1.1"/>
<ellipse cx="622.5" cy="552" rx="1.4" ry="0.8" fill="none" stroke="#2a2a2a" stroke-width="0.7"/>
<polygon points="565,536 571,539.2 570,542 564,538.8" fill="#ccc" stroke="#2a2a2a" stroke-width="1.2" stroke-linejoin="round"/>
<polygon points="584,530.5 590,533.7 589,536.5 583,533.3" fill="#ccc" stroke="#2a2a2a" stroke-width="1.2" stroke-linejoin="round"/>
<polygon points="597,538.5 603,541.7 602,544.5 596,541.3" fill="#ccc" stroke="#2a2a2a" stroke-width="1.2" stroke-linejoin="round"/>
<polygon points="611,546 617,549.2 616,552 610,548.8" fill="#ccc" stroke="#2a2a2a" stroke-width="1.2" stroke-linejoin="round"/>
<polyline points="596,540.5 604,546 611,552 616,559 620,567" fill="none" stroke="#2a2a2a" stroke-width="1" stroke-linejoin="round"/>
<polygon points="603,549 611,554.5 607,557 600,552" fill="none" stroke="#2a2a2a" stroke-width="1.3" stroke-linejoin="round"/>
<polyline points="624.5,556 628,563 632,570 637,576.5 643,581" fill="none" stroke="#2a2a2a" stroke-width="1.2" stroke-linejoin="round"/>
<polyline points="619,560 622.5,567.5 626.5,574.5 631.5,581 637,586" fill="none" stroke="#2a2a2a" stroke-width="1.2" stroke-linejoin="round"/>
<line x1="624.5" y1="556" x2="619" y2="560" stroke="#2a2a2a" stroke-width="0.9"/>
<line x1="626.2" y1="559.5" x2="620.8" y2="563.8" stroke="#2a2a2a" stroke-width="0.9"/>
<line x1="628" y1="563" x2="622.5" y2="567.5" stroke="#2a2a2a" stroke-width="0.9"/>
<line x1="630" y1="566.5" x2="624.5" y2="571" stroke="#2a2a2a" stroke-width="0.9"/>
<line x1="632" y1="570" x2="626.5" y2="574.5" stroke="#2a2a2a" stroke-width="0.9"/>
<line x1="634.5" y1="573.2" x2="629" y2="577.8" stroke="#2a2a2a" stroke-width="0.9"/>
<line x1="637" y1="576.5" x2="631.5" y2="581" stroke="#2a2a2a" stroke-width="0.9"/>
<line x1="640" y1="578.8" x2="634.2" y2="583.5" stroke="#2a2a2a" stroke-width="0.9"/>
<line x1="643" y1="581" x2="637" y2="586" stroke="#2a2a2a" stroke-width="0.9"/>
<path d="M575.6,555.4 L577,568 Q582,574.5 588.5,567.5 L590.5,555.4" fill="none" stroke="#2a2a2a" stroke-width="1.2" stroke-linejoin="round" stroke-linecap="round"/>
<path d="M578,556 L579,566 Q582.5,570.5 586.5,566 L588,556" fill="none" stroke="#2a2a2a" stroke-width="0.8" stroke-linejoin="round" stroke-linecap="round"/>
<ellipse cx="583" cy="554" rx="5.2" ry="2.7" fill="#fff" stroke="#2a2a2a" stroke-width="1.1"/>
<ellipse cx="583" cy="554" rx="3.2" ry="1.5" fill="none" stroke="#2a2a2a" stroke-width="0.9"/>
<line x1="583.5" y1="546" x2="583.5" y2="553" stroke="#2a2a2a" stroke-width="0.9"/>
<path d="M592,582 Q591,577 597,575.5 L606,577 Q613,580 617,585" fill="none" stroke="#2a2a2a" stroke-width="1.2" stroke-linejoin="round" stroke-linecap="round"/>
<path d="M592,582 L592.5,600 Q593,606 599,606.5" fill="none" stroke="#2a2a2a" stroke-width="1.2" stroke-linejoin="round" stroke-linecap="round"/>
<path d="M595,583 L595.5,599 M599,579 L600,598" fill="none" stroke="#2a2a2a" stroke-width="0.9" stroke-linejoin="round" stroke-linecap="round"/>
<polyline points="600,585 608,589 614,596" fill="none" stroke="#2a2a2a" stroke-width="1" stroke-linejoin="round"/>
<polyline points="603,582 611,586 617,592" fill="none" stroke="#2a2a2a" stroke-width="0.9" stroke-linejoin="round"/>
<polyline points="598,610 606,607 614,603 620,598" fill="none" stroke="#2a2a2a" stroke-width="1.1" stroke-linejoin="round"/>
<ellipse cx="621.7" cy="599" rx="5.6" ry="3" fill="#fff" stroke="#2a2a2a" stroke-width="1.2"/>
<rect x="616.1" y="590.2" width="11.2" height="8.8" fill="#fff" stroke="none"/>
<line x1="616.5" y1="590.2" x2="616.5" y2="599" stroke="#2a2a2a" stroke-width="1.2"/>
<line x1="627.5" y1="590.2" x2="627.5" y2="599" stroke="#2a2a2a" stroke-width="1.2"/>
<ellipse cx="621.7" cy="590.2" rx="5.6" ry="3" fill="#fff" stroke="#2a2a2a" stroke-width="1.2"/>
<ellipse cx="621.7" cy="590.2" rx="3.8" ry="1.9" fill="none" stroke="#2a2a2a" stroke-width="1"/>
<line x1="620.5" y1="582" x2="620.5" y2="589" stroke="#2a2a2a" stroke-width="1.2"/>
<line x1="623.5" y1="583" x2="623.5" y2="589" stroke="#2a2a2a" stroke-width="1"/>
<path d="M616,599 Q614,604 610,607 M627.5,599 Q629,603 632,606" fill="none" stroke="#2a2a2a" stroke-width="1" stroke-linejoin="round" stroke-linecap="round"/>
<path d="M633,598 Q631,604 628,607.5 Q627,612 634,617 Q646,622 658,616 Q664,611 662,606 Q659.5,602 659,598" fill="none" stroke="#2a2a2a" stroke-width="1.1" stroke-linejoin="round" stroke-linecap="round"/>
<ellipse cx="645.8" cy="598.5" rx="13.2" ry="8" fill="#fff" stroke="#2a2a2a" stroke-width="1.1"/>
<ellipse cx="645.8" cy="595.9" rx="13.2" ry="8.3" fill="#fff" stroke="#2a2a2a" stroke-width="1.5"/>
<ellipse cx="645.8" cy="596.6" rx="10.5" ry="6.3" fill="none" stroke="#2a2a2a" stroke-width="1"/>
<path d="M636,599 Q645.8,604.5 655.5,599" fill="none" stroke="#2a2a2a" stroke-width="0.8" stroke-linejoin="round" stroke-linecap="round"/>
<path d="M628.1,607 Q627,630 628,650 M662,607 Q666,616 668,626" fill="none" stroke="#2a2a2a" stroke-width="1" stroke-linejoin="round" stroke-linecap="round"/>
<path d="M630,615 Q645,625 663,616" fill="none" stroke="#2a2a2a" stroke-width="0.9" stroke-linejoin="round" stroke-linecap="round"/>
<line x1="646.5" y1="581" x2="646.5" y2="586" stroke="#2a2a2a" stroke-width="1.1"/>
<line x1="652.5" y1="581" x2="652.5" y2="586" stroke="#2a2a2a" stroke-width="1.1"/>
<ellipse cx="649.5" cy="581" rx="3" ry="1.8" fill="#fff" stroke="#2a2a2a" stroke-width="1.1"/>
<ellipse cx="649.5" cy="581" rx="1.5" ry="0.9" fill="none" stroke="#2a2a2a" stroke-width="0.7"/>
<line x1="667.5" y1="593" x2="667.5" y2="598" stroke="#2a2a2a" stroke-width="1.1"/>
<line x1="673.5" y1="593" x2="673.5" y2="598" stroke="#2a2a2a" stroke-width="1.1"/>
<ellipse cx="670.6" cy="593" rx="3" ry="1.8" fill="#fff" stroke="#2a2a2a" stroke-width="1.1"/>
<ellipse cx="670.6" cy="593" rx="1.5" ry="0.9" fill="none" stroke="#2a2a2a" stroke-width="0.7"/>
<line x1="684.5" y1="613.5" x2="684.5" y2="618.5" stroke="#2a2a2a" stroke-width="1.1"/>
<line x1="690.5" y1="613.5" x2="690.5" y2="618.5" stroke="#2a2a2a" stroke-width="1.1"/>
<ellipse cx="687" cy="613.5" rx="3" ry="1.8" fill="#fff" stroke="#2a2a2a" stroke-width="1.1"/>
<ellipse cx="687" cy="613.5" rx="1.5" ry="0.9" fill="none" stroke="#2a2a2a" stroke-width="0.7"/>
<polyline points="652,586 662,591 672,597.5 680,606 685,616" fill="none" stroke="#2a2a2a" stroke-width="1" stroke-linejoin="round"/>
<polyline points="656,584.5 664,588.5" fill="none" stroke="#2a2a2a" stroke-width="1" stroke-linejoin="round"/>
<ellipse cx="659" cy="590" rx="3.4" ry="2.4" fill="#fff" stroke="#2a2a2a" stroke-width="1.1" transform="rotate(35 659 590)"/>
<ellipse cx="676" cy="600" rx="3.4" ry="2.4" fill="#fff" stroke="#2a2a2a" stroke-width="1.1" transform="rotate(35 676 600)"/>
<ellipse cx="683" cy="610" rx="3.4" ry="2.4" fill="#fff" stroke="#2a2a2a" stroke-width="1.1" transform="rotate(35 683 610)"/>
<polyline points="664,596 671,600 677,607 681,616 683,624" fill="none" stroke="#2a2a2a" stroke-width="0.9" stroke-linejoin="round"/>
<path d="M650.8,614.3 Q656,622 670.6,626.3" fill="none" stroke="#2a2a2a" stroke-width="2.2" stroke-linejoin="round" stroke-linecap="round"/>
<path d="M652,612.5 Q660,619 672,622.5" fill="none" stroke="#2a2a2a" stroke-width="0.9" stroke-linejoin="round" stroke-linecap="round"/>
<ellipse cx="676.2" cy="622" rx="3.2" ry="1.7" fill="#fff" stroke="#2a2a2a" stroke-width="1"/>
<polygon points="657.5,625 657.5,639 665,637.6" fill="none" stroke="#2a2a2a" stroke-width="1" stroke-linejoin="round"/>
<polyline points="672.5,627 672.5,664.5" fill="none" stroke="#2a2a2a" stroke-width="1.1" stroke-linejoin="round"/>
<polyline points="668.5,628 668.5,668" fill="none" stroke="#2a2a2a" stroke-width="0.9" stroke-linejoin="round"/>
<polyline points="681.5,622 681.5,668" fill="none" stroke="#2a2a2a" stroke-width="1" stroke-linejoin="round"/>
<polyline points="689.5,630.6 689.5,666" fill="none" stroke="#2a2a2a" stroke-width="1" stroke-linejoin="round"/>
<polyline points="681.9,645 693.5,650 693.5,658 686.5,661 686.5,668" fill="none" stroke="#2a2a2a" stroke-width="1" stroke-linejoin="round"/>
<ellipse cx="688.5" cy="664" rx="1.3" ry="1.6" fill="none" stroke="#2a2a2a" stroke-width="0.8"/>
<polyline points="672.7,640 681.9,636" fill="none" stroke="#2a2a2a" stroke-width="0.9" stroke-linejoin="round"/>
<polyline points="672.7,655 681.9,651" fill="none" stroke="#2a2a2a" stroke-width="0.9" stroke-linejoin="round"/>
<polyline points="632.4,651.8 645,648 657,644 664.9,641.9 672.7,644" fill="none" stroke="#2a2a2a" stroke-width="1.1" stroke-linejoin="round"/>
<polyline points="628,650 630,660 634,668" fill="none" stroke="#2a2a2a" stroke-width="1" stroke-linejoin="round"/>
<polyline points="636,654 637,668" fill="none" stroke="#2a2a2a" stroke-width="0.9" stroke-linejoin="round"/>
<path d="M637,677 L638,668 Q638.5,664 640,662 Q641.5,664 642,668 L643,677" fill="#fff" stroke="#2a2a2a" stroke-width="1" stroke-linejoin="round" stroke-linecap="round"/>
<path d="M645,677 L646,668 Q646.5,664 648,662 Q649.5,664 650,668 L651,677" fill="#fff" stroke="#2a2a2a" stroke-width="1" stroke-linejoin="round" stroke-linecap="round"/>
<path d="M653.5,677 L654.5,668 Q655.0,664 656.5,662 Q658.0,664 658.5,668 L659.5,677" fill="#fff" stroke="#2a2a2a" stroke-width="1" stroke-linejoin="round" stroke-linecap="round"/>
<path d="M661,677 L662,668 Q662.5,664 664,662 Q665.5,664 666,668 L667,677" fill="#fff" stroke="#2a2a2a" stroke-width="1" stroke-linejoin="round" stroke-linecap="round"/>
<polygon points="566.4,619 572,613 582,608.5 594,607 606,609 616,614 622,621 626,630 627,642 624,651 616,657 606,661.5 596,662 588,655 580,643.5 573,630" fill="#fff" stroke="#2a2a2a" stroke-width="1.3" stroke-linejoin="round"/>
<path d="M575,620.6 A11.5,20 -30 0 1 593.4,651.4" fill="none" stroke="#1e1e1e" stroke-width="2" stroke-linejoin="round" stroke-linecap="round"/>
<path d="M577,621.1 A11.5,20 -30 0 1 595.4,651.4" fill="none" stroke="#333" stroke-width="0.8" stroke-linejoin="round" stroke-linecap="round"/>
<path d="M579.2,619.6 A11.3,19.5 -30 0 1 597.1,649.6" fill="none" stroke="#1e1e1e" stroke-width="2" stroke-linejoin="round" stroke-linecap="round"/>
<path d="M581.2,620.1 A11.3,19.5 -30 0 1 599.1,649.6" fill="none" stroke="#333" stroke-width="0.8" stroke-linejoin="round" stroke-linecap="round"/>
<path d="M583.4,618.6 A11,19 -30 0 1 600.9,647.9" fill="none" stroke="#1e1e1e" stroke-width="2" stroke-linejoin="round" stroke-linecap="round"/>
<path d="M585.4,619.1 A11,19 -30 0 1 602.9,647.9" fill="none" stroke="#333" stroke-width="0.8" stroke-linejoin="round" stroke-linecap="round"/>
<path d="M587.8,618 A10.4,18 -30 0 1 604.4,645.8" fill="none" stroke="#1e1e1e" stroke-width="2" stroke-linejoin="round" stroke-linecap="round"/>
<path d="M589.8,618.5 A10.4,18 -30 0 1 606.4,645.8" fill="none" stroke="#333" stroke-width="0.8" stroke-linejoin="round" stroke-linecap="round"/>
<path d="M592.2,617.5 A9.8,17 -30 0 1 607.8,643.6" fill="none" stroke="#1e1e1e" stroke-width="2" stroke-linejoin="round" stroke-linecap="round"/>
<path d="M594.2,618 A9.8,17 -30 0 1 609.8,643.6" fill="none" stroke="#333" stroke-width="0.8" stroke-linejoin="round" stroke-linecap="round"/>
<path d="M596.8,617.3 A8.9,15.5 -30 0 1 611.1,641.2" fill="none" stroke="#1e1e1e" stroke-width="2" stroke-linejoin="round" stroke-linecap="round"/>
<path d="M598.8,617.8 A8.9,15.5 -30 0 1 613.1,641.2" fill="none" stroke="#333" stroke-width="0.8" stroke-linejoin="round" stroke-linecap="round"/>
<line x1="580" y1="622" x2="587" y2="630" stroke="#222" stroke-width="1.5"/>
<line x1="585" y1="641" x2="592" y2="652" stroke="#222" stroke-width="1.5"/>
<line x1="578" y1="631" x2="582" y2="637" stroke="#333" stroke-width="1"/>
<line x1="584.3" y1="620.9" x2="591.3" y2="628.9" stroke="#222" stroke-width="1.5"/>
<line x1="589.3" y1="640" x2="596.3" y2="651" stroke="#222" stroke-width="1.5"/>
<line x1="582.5" y1="629.9" x2="586.5" y2="635.9" stroke="#333" stroke-width="1"/>
<line x1="588.6" y1="619.8" x2="595.6" y2="627.8" stroke="#222" stroke-width="1.5"/>
<line x1="593.6" y1="639" x2="600.6" y2="650" stroke="#222" stroke-width="1.5"/>
<line x1="587" y1="628.8" x2="591" y2="634.8" stroke="#333" stroke-width="1"/>
<line x1="592.9" y1="618.7" x2="599.9" y2="626.7" stroke="#222" stroke-width="1.5"/>
<line x1="597.9" y1="638" x2="604.9" y2="649" stroke="#222" stroke-width="1.5"/>
<line x1="591.5" y1="627.7" x2="595.5" y2="633.7" stroke="#333" stroke-width="1"/>
<line x1="597.2" y1="617.6" x2="604.2" y2="625.6" stroke="#222" stroke-width="1.5"/>
<line x1="602.2" y1="637" x2="609.2" y2="648" stroke="#222" stroke-width="1.5"/>
<line x1="596" y1="626.6" x2="600" y2="632.6" stroke="#333" stroke-width="1"/>
<line x1="601.5" y1="616.5" x2="608.5" y2="624.5" stroke="#222" stroke-width="1.5"/>
<line x1="606.5" y1="636" x2="613.5" y2="647" stroke="#222" stroke-width="1.5"/>
<line x1="600.5" y1="625.5" x2="604.5" y2="631.5" stroke="#333" stroke-width="1"/>
<ellipse cx="618.9" cy="641.9" rx="5.9" ry="10.2" fill="#fff" stroke="#1a1a1a" stroke-width="2" transform="rotate(-30 618.9 641.9)"/>
<ellipse cx="619.4" cy="641.9" rx="4.4" ry="7.6" fill="none" stroke="#333" stroke-width="1.8" transform="rotate(-30 619.4 641.9)"/>
<ellipse cx="620" cy="641.8" rx="2.8" ry="4.8" fill="#ddd" stroke="#2a2a2a" stroke-width="1.1" transform="rotate(-30 620 641.8)"/>
<ellipse cx="620.3" cy="641.7" rx="1.4" ry="2.5" fill="#fff" stroke="#2a2a2a" stroke-width="0.8" transform="rotate(-30 620.3 641.7)"/>
<polyline points="622.5,622 628,618 636,621 638,639 632,644 628,641" fill="none" stroke="#2a2a2a" stroke-width="1.1" stroke-linejoin="round"/>
<polyline points="628,618 629,632 636,636" fill="none" stroke="#2a2a2a" stroke-width="0.9" stroke-linejoin="round"/>
<ellipse cx="583" cy="647" rx="4.2" ry="5.2" fill="#fff" stroke="#2a2a2a" stroke-width="1.3" transform="rotate(-30 583 647)"/>
<ellipse cx="591" cy="657.5" rx="3.8" ry="4.8" fill="#fff" stroke="#2a2a2a" stroke-width="1.3" transform="rotate(-30 591 657.5)"/>
<ellipse cx="600" cy="653" rx="3.8" ry="4.8" fill="#fff" stroke="#2a2a2a" stroke-width="1.3" transform="rotate(-30 600 653)"/>
<ellipse cx="610" cy="653" rx="3.4" ry="4.2" fill="#fff" stroke="#2a2a2a" stroke-width="1.3" transform="rotate(-30 610 653)"/>
<ellipse cx="575" cy="636" rx="3.2" ry="4" fill="#fff" stroke="#2a2a2a" stroke-width="1.3" transform="rotate(-30 575 636)"/>
<path d="M596,662 Q603,668.5 612,664.5 Q618,660 622.5,663" fill="none" stroke="#2a2a2a" stroke-width="1.6" stroke-linejoin="round" stroke-linecap="round"/>
<path d="M588,655 Q596,652 604,656 Q612,660 620,655" fill="none" stroke="#2a2a2a" stroke-width="1.2" stroke-linejoin="round" stroke-linecap="round"/>
<polyline points="606,609 610,603 617,601.5 622.5,606 622.5,614" fill="none" stroke="#2a2a2a" stroke-width="1.1" stroke-linejoin="round"/>
<ellipse cx="611.5" cy="606.5" rx="2.6" ry="3.4" fill="none" stroke="#2a2a2a" stroke-width="1.1" transform="rotate(-20 611.5 606.5)"/>
<ellipse cx="611.5" cy="606.5" rx="1.2" ry="1.6" fill="none" stroke="#2a2a2a" stroke-width="0.7" transform="rotate(-20 611.5 606.5)"/>
<polyline points="600,607.5 604,602 609,601" fill="none" stroke="#2a2a2a" stroke-width="0.9" stroke-linejoin="round"/>
<ellipse cx="841.1" cy="566.7" rx="1.8" ry="3.2" fill="#fff" stroke="#2a2a2a" stroke-width="1.1" transform="rotate(-30 841.1 566.7)"/>
<polygon points="836.6,573 842.7,569.5 839.5,563.9 833.4,567.4" fill="#fff" stroke="none"/>
<line x1="836.6" y1="573" x2="842.7" y2="569.5" stroke="#2a2a2a" stroke-width="1.1"/>
<line x1="833.4" y1="567.4" x2="839.5" y2="563.9" stroke="#2a2a2a" stroke-width="1.1"/>
<ellipse cx="835" cy="570.2" rx="1.8" ry="3.2" fill="#fff" stroke="#2a2a2a" stroke-width="1.1" transform="rotate(-30 835 570.2)"/>
<ellipse cx="835" cy="570.2" rx="1.8" ry="3.2" fill="#aaa" stroke="#2a2a2a" stroke-width="1.1" transform="rotate(-30 835 570.2)"/>
<ellipse cx="835.2" cy="570.1" rx="0.9" ry="1.5" fill="#fff" stroke="#2a2a2a" stroke-width="0.7" transform="rotate(-30 835.2 570.1)"/>
<ellipse cx="848.3" cy="562.5" rx="2.5" ry="4.4" fill="#fff" stroke="#2a2a2a" stroke-width="1.1" transform="rotate(-30 848.3 562.5)"/>
<polygon points="842.7,570.8 850.5,566.3 846.1,558.7 838.3,563.2" fill="#fff" stroke="none"/>
<line x1="842.7" y1="570.8" x2="850.5" y2="566.3" stroke="#2a2a2a" stroke-width="1.1"/>
<line x1="838.3" y1="563.2" x2="846.1" y2="558.7" stroke="#2a2a2a" stroke-width="1.1"/>
<ellipse cx="840.5" cy="567" rx="2.5" ry="4.4" fill="#fff" stroke="#2a2a2a" stroke-width="1.1" transform="rotate(-30 840.5 567)"/>
<ellipse cx="852.7" cy="560" rx="3.3" ry="5.8" fill="#fff" stroke="#2a2a2a" stroke-width="1.1" transform="rotate(-30 852.7 560)"/>
<polygon points="850.4,568 855.6,565 849.8,555 844.6,558" fill="#fff" stroke="none"/>
<line x1="850.4" y1="568" x2="855.6" y2="565" stroke="#2a2a2a" stroke-width="1.1"/>
<line x1="844.6" y1="558" x2="849.8" y2="555" stroke="#2a2a2a" stroke-width="1.1"/>
<ellipse cx="847.5" cy="563" rx="3.3" ry="5.8" fill="#fff" stroke="#2a2a2a" stroke-width="1.1" transform="rotate(-30 847.5 563)"/>
<ellipse cx="857.6" cy="557.2" rx="3.8" ry="6.6" fill="#fff" stroke="#2a2a2a" stroke-width="1.2" transform="rotate(-30 857.6 557.2)"/>
<polygon points="854.8,566.4 860.9,562.9 854.3,551.5 848.2,555" fill="#fff" stroke="none"/>
<line x1="854.8" y1="566.4" x2="860.9" y2="562.9" stroke="#2a2a2a" stroke-width="1.2"/>
<line x1="848.2" y1="555" x2="854.3" y2="551.5" stroke="#2a2a2a" stroke-width="1.2"/>
<ellipse cx="851.5" cy="560.7" rx="3.8" ry="6.6" fill="#fff" stroke="#2a2a2a" stroke-width="1.2" transform="rotate(-30 851.5 560.7)"/>
<ellipse cx="897.5" cy="534.5" rx="2.5" ry="4.3" fill="#fff" stroke="#2a2a2a" stroke-width="1.1" transform="rotate(-30 897.5 534.5)"/>
<polygon points="890.1,543.7 899.7,538.2 895.4,530.8 885.9,536.3" fill="#fff" stroke="none"/>
<line x1="890.1" y1="543.7" x2="899.7" y2="538.2" stroke="#2a2a2a" stroke-width="1.1"/>
<line x1="885.9" y1="536.3" x2="895.4" y2="530.8" stroke="#2a2a2a" stroke-width="1.1"/>
<ellipse cx="888" cy="540" rx="2.5" ry="4.3" fill="#fff" stroke="#2a2a2a" stroke-width="1.1" transform="rotate(-30 888 540)"/>
<path d="M846.9,540 L846.9,552.5 Q852,562 870,565.5 Q888,562 893.8,550 L893.8,540 Z" fill="#fff" stroke="#2a2a2a" stroke-width="1.2" stroke-linejoin="round" stroke-linecap="round"/>
<path d="M848,548 Q856,558 870,560.5 Q884,558 892.5,547" fill="none" stroke="#2a2a2a" stroke-width="0.9" stroke-linejoin="round" stroke-linecap="round"/>
<ellipse cx="870.3" cy="539.4" rx="21.6" ry="11.9" fill="#fff" stroke="#2a2a2a" stroke-width="1.3"/>
<ellipse cx="870.3" cy="539" rx="19" ry="10" fill="none" stroke="#2a2a2a" stroke-width="0.9"/>
<ellipse cx="870.3" cy="538.6" rx="16" ry="8.2" fill="none" stroke="#2a2a2a" stroke-width="0.9"/>
<rect x="860" y="531.8" width="20.2" height="12.4" rx="5.5" fill="#fff" stroke="#2a2a2a" stroke-width="1.2"/>
<path d="M862.5,541 Q870,536.5 878,541" fill="none" stroke="#2a2a2a" stroke-width="0.8" stroke-linejoin="round" stroke-linecap="round"/>
<path d="M864,534 L866,536 M876.5,534 L874.5,536" fill="none" stroke="#2a2a2a" stroke-width="0.8" stroke-linejoin="round" stroke-linecap="round"/>
<polygon points="862.5,557.5 862.5,567 873.5,568 873.5,559" fill="#fff" stroke="#2a2a2a" stroke-width="1.1" stroke-linejoin="round"/>
<line x1="866.5" y1="558" x2="866.5" y2="567.3" stroke="#2a2a2a" stroke-width="0.9"/>
<line x1="869.5" y1="559" x2="869.5" y2="567.7" stroke="#2a2a2a" stroke-width="0.9"/>
<ellipse cx="869.7" cy="613.5" rx="15.2" ry="8.6" fill="#fff" stroke="#2a2a2a" stroke-width="1.2"/>
<ellipse cx="869.7" cy="611.5" rx="15.2" ry="8.6" fill="#fff" stroke="#2a2a2a" stroke-width="1"/>
<ellipse cx="869.7" cy="608" rx="15.2" ry="8.4" fill="#fff" stroke="#2a2a2a" stroke-width="1.2"/>
<ellipse cx="869.7" cy="608" rx="11" ry="5.6" fill="none" stroke="#2a2a2a" stroke-width="1.1"/>
<ellipse cx="869.7" cy="609" rx="9" ry="4.3" fill="#ddd" stroke="#2a2a2a" stroke-width="0.9"/>
<ellipse cx="869.7" cy="609.5" rx="7.5" ry="3.3" fill="#fff" stroke="#2a2a2a" stroke-width="0.8"/>
<ellipse cx="869.7" cy="685" rx="16.8" ry="5.5" fill="#fff" stroke="#2a2a2a" stroke-width="1.1"/>
<rect x="852.9" y="660" width="33.6" height="25" fill="#fff" stroke="none"/>
<line x1="852.5" y1="660" x2="852.5" y2="685" stroke="#2a2a2a" stroke-width="1.1"/>
<line x1="886.5" y1="660" x2="886.5" y2="685" stroke="#2a2a2a" stroke-width="1.1"/>
<path d="M852.9,660 A16.8,6 0 0 0 886.5,660" fill="none" stroke="#2a2a2a" stroke-width="1" stroke-linejoin="round" stroke-linecap="round"/>
<rect x="865.9" y="646" width="7.6" height="13.8" fill="#fff" stroke="#2a2a2a" stroke-width="1"/>
<ellipse cx="869.7" cy="646" rx="3.8" ry="2" fill="#fff" stroke="#2a2a2a" stroke-width="1"/>
<rect x="857.9" y="648" width="7.6" height="13.2" fill="#fff" stroke="#2a2a2a" stroke-width="1"/>
<ellipse cx="861.7" cy="648" rx="3.8" ry="2" fill="#fff" stroke="#2a2a2a" stroke-width="1"/>
<rect x="873.9" y="648" width="7.6" height="13.2" fill="#fff" stroke="#2a2a2a" stroke-width="1"/>
<ellipse cx="877.7" cy="648" rx="3.8" ry="2" fill="#fff" stroke="#2a2a2a" stroke-width="1"/>
<rect x="854.9" y="652.5" width="7.6" height="11.8" fill="#fff" stroke="#2a2a2a" stroke-width="1"/>
<ellipse cx="858.7" cy="652.5" rx="3.8" ry="2" fill="#fff" stroke="#2a2a2a" stroke-width="1"/>
<rect x="876.9" y="652.5" width="7.6" height="11.8" fill="#fff" stroke="#2a2a2a" stroke-width="1"/>
<ellipse cx="880.7" cy="652.5" rx="3.8" ry="2" fill="#fff" stroke="#2a2a2a" stroke-width="1"/>
<rect x="860.4" y="655.5" width="7.6" height="10.9" fill="#fff" stroke="#2a2a2a" stroke-width="1"/>
<ellipse cx="864.2" cy="655.5" rx="3.8" ry="2" fill="#fff" stroke="#2a2a2a" stroke-width="1"/>
<rect x="871.4" y="655.5" width="7.6" height="10.9" fill="#fff" stroke="#2a2a2a" stroke-width="1"/>
<ellipse cx="875.2" cy="655.5" rx="3.8" ry="2" fill="#fff" stroke="#2a2a2a" stroke-width="1"/>
<ellipse cx="1003" cy="670.5" rx="2.5" ry="4.4" fill="#fff" stroke="#2a2a2a" stroke-width="1.05" transform="rotate(-30 1003 670.5)"/>
<polygon points="979.2,689.3 1005.2,674.3 1000.8,666.7 974.8,681.7" fill="#fff" stroke="none"/>
<line x1="979.2" y1="689.3" x2="1005.2" y2="674.3" stroke="#2a2a2a" stroke-width="1.05"/>
<line x1="974.8" y1="681.7" x2="1000.8" y2="666.7" stroke="#2a2a2a" stroke-width="1.05"/>
<ellipse cx="977" cy="685.5" rx="2.5" ry="4.4" fill="#fff" stroke="#2a2a2a" stroke-width="1.05" transform="rotate(-30 977 685.5)"/>
<ellipse cx="1037.6" cy="650.5" rx="3.2" ry="5.5" fill="#fff" stroke="#2a2a2a" stroke-width="1.05" transform="rotate(-30 1037.6 650.5)"/>
<polygon points="1002.3,677.3 1040.4,655.3 1034.9,645.7 996.8,667.7" fill="#fff" stroke="none"/>
<line x1="1002.3" y1="677.3" x2="1040.4" y2="655.3" stroke="#2a2a2a" stroke-width="1.05"/>
<line x1="996.8" y1="667.7" x2="1034.9" y2="645.7" stroke="#2a2a2a" stroke-width="1.05"/>
<ellipse cx="999.5" cy="672.5" rx="3.2" ry="5.5" fill="#fff" stroke="#2a2a2a" stroke-width="1.05" transform="rotate(-30 999.5 672.5)"/>
<ellipse cx="977" cy="685.5" rx="2.5" ry="4.4" fill="#fff" stroke="#2a2a2a" stroke-width="1.1" transform="rotate(-30 977 685.5)"/>
<ellipse cx="977.3" cy="685.3" rx="1.3" ry="2.2" fill="#bbb" stroke="#2a2a2a" stroke-width="0.8" transform="rotate(-30 977.3 685.3)"/>
<path d="M981.7,677.7 A2.5,4.4 -30 0 0 986.1,685.3" fill="none" stroke="#2a2a2a" stroke-width="0.9" stroke-linejoin="round" stroke-linecap="round"/>
<path d="M984.3,676.2 A2.5,4.4 -30 0 0 988.7,683.8" fill="none" stroke="#2a2a2a" stroke-width="0.9" stroke-linejoin="round" stroke-linecap="round"/>
<path d="M1005.4,662.7 A3.2,5.5 -30 0 0 1010.9,672.3" fill="none" stroke="#2a2a2a" stroke-width="0.9" stroke-linejoin="round" stroke-linecap="round"/>
<path d="M995.2,669 A3,5.2 -30 0 0 1000.4,678" fill="none" stroke="#222" stroke-width="1.5" stroke-linejoin="round" stroke-linecap="round"/>
<path d="M996.4,668.3 A3,5.2 -30 0 0 1001.6,677.3" fill="none" stroke="#222" stroke-width="1.5" stroke-linejoin="round" stroke-linecap="round"/>
<path d="M997.6,667.6 A3,5.2 -30 0 0 1002.8,676.6" fill="none" stroke="#222" stroke-width="1.5" stroke-linejoin="round" stroke-linecap="round"/>
<path d="M998.8,666.9 A3,5.2 -30 0 0 1004,675.9" fill="none" stroke="#222" stroke-width="1.5" stroke-linejoin="round" stroke-linecap="round"/>
<path d="M1000,666.2 A3,5.2 -30 0 0 1005.2,675.2" fill="none" stroke="#222" stroke-width="1.5" stroke-linejoin="round" stroke-linecap="round"/>
<path d="M1001.2,665.5 A3,5.2 -30 0 0 1006.4,674.5" fill="none" stroke="#222" stroke-width="1.5" stroke-linejoin="round" stroke-linecap="round"/>
<path d="M1021,653.7 A3.2,5.6 -30 0 0 1026.6,663.3" fill="none" stroke="#222" stroke-width="1.5" stroke-linejoin="round" stroke-linecap="round"/>
<path d="M1022,653 A3.2,5.6 -30 0 0 1027.6,662.7" fill="none" stroke="#222" stroke-width="1.5" stroke-linejoin="round" stroke-linecap="round"/>
<path d="M1023.1,652.4 A3.2,5.6 -30 0 0 1028.7,662.1" fill="none" stroke="#222" stroke-width="1.5" stroke-linejoin="round" stroke-linecap="round"/>
<path d="M1024.2,651.8 A3.2,5.6 -30 0 0 1029.8,661.5" fill="none" stroke="#222" stroke-width="1.5" stroke-linejoin="round" stroke-linecap="round"/>
<path d="M1025.3,651.2 A3.2,5.6 -30 0 0 1030.9,660.8" fill="none" stroke="#222" stroke-width="1.5" stroke-linejoin="round" stroke-linecap="round"/>
<ellipse cx="1052.1" cy="642" rx="4.4" ry="7.6" fill="#fff" stroke="#2a2a2a" stroke-width="1.2" transform="rotate(-30 1052.1 642)"/>
<ellipse cx="1052.1" cy="642" rx="2.5" ry="4.4" fill="#fff" stroke="#2a2a2a" stroke-width="1" transform="rotate(-30 1052.1 642)"/>
<path d="M1050.8,640 L1054,643" fill="none" stroke="#2a2a2a" stroke-width="0.8" stroke-linejoin="round" stroke-linecap="round"/>
<ellipse cx="1079.6" cy="626.2" rx="6.2" ry="10.8" fill="#fff" stroke="#2a2a2a" stroke-width="1" transform="rotate(-30 1079.6 626.2)"/>
<polygon points="1080.7,638.1 1085,635.6 1074.2,616.8 1069.9,619.3" fill="#fff" stroke="none"/>
<line x1="1080.7" y1="638.1" x2="1085" y2="635.6" stroke="#2a2a2a" stroke-width="1"/>
<line x1="1069.9" y1="619.3" x2="1074.2" y2="616.8" stroke="#2a2a2a" stroke-width="1"/>
<ellipse cx="1075.3" cy="628.7" rx="6.2" ry="10.8" fill="#fff" stroke="#2a2a2a" stroke-width="1" transform="rotate(-30 1075.3 628.7)"/>
<ellipse cx="1075.3" cy="628.7" rx="6.2" ry="10.8" fill="#fff" stroke="#2a2a2a" stroke-width="2.8" transform="rotate(-30 1075.3 628.7)"/>
<ellipse cx="1075.3" cy="628.7" rx="6.2" ry="10.8" transform="rotate(-30 1075.3 628.7)" fill="none" stroke="#fff" stroke-width="3" stroke-dasharray="1.6 1.7"/>
<ellipse cx="1075.3" cy="628.7" rx="5" ry="8.6" fill="none" stroke="#2a2a2a" stroke-width="1" transform="rotate(-30 1075.3 628.7)"/>
<ellipse cx="1075.6" cy="628.6" rx="3.2" ry="5.6" fill="#1a1a1a" stroke="#2a2a2a" stroke-width="1" transform="rotate(-30 1075.6 628.6)"/>
<ellipse cx="1098" cy="615.8" rx="2.7" ry="4.6" fill="#fff" stroke="#2a2a2a" stroke-width="1.6" transform="rotate(-30 1098 615.8)"/>
<ellipse cx="1116.1" cy="604.6" rx="3.8" ry="6.6" fill="#fff" stroke="#2a2a2a" stroke-width="1.1" transform="rotate(-30 1116.1 604.6)"/>
<ellipse cx="1116.1" cy="604.6" rx="2.4" ry="4.2" fill="#fff" stroke="#2a2a2a" stroke-width="1" transform="rotate(-30 1116.1 604.6)"/>
<path d="M1115,602.5 L1118,605" fill="none" stroke="#2a2a2a" stroke-width="0.8" stroke-linejoin="round" stroke-linecap="round"/>
<ellipse cx="818.9" cy="755.8" rx="2.9" ry="5" fill="#fff" stroke="#2a2a2a" stroke-width="1.1" transform="rotate(-30 818.9 755.8)"/>
<polygon points="809.3,767.1 821.4,760.1 816.4,751.5 804.3,758.5" fill="#fff" stroke="none"/>
<line x1="809.3" y1="767.1" x2="821.4" y2="760.1" stroke="#2a2a2a" stroke-width="1.1"/>
<line x1="804.3" y1="758.5" x2="816.4" y2="751.5" stroke="#2a2a2a" stroke-width="1.1"/>
<ellipse cx="806.8" cy="762.8" rx="2.9" ry="5" fill="#fff" stroke="#2a2a2a" stroke-width="1.1" transform="rotate(-30 806.8 762.8)"/>
<ellipse cx="815.5" cy="757.8" rx="4" ry="7" fill="#fff" stroke="#2a2a2a" stroke-width="1.1" transform="rotate(-30 815.5 757.8)"/>
<polygon points="815.5,765.9 819,763.9 812,751.7 808.5,753.7" fill="#fff" stroke="none"/>
<line x1="815.5" y1="765.9" x2="819" y2="763.9" stroke="#2a2a2a" stroke-width="1.1"/>
<line x1="808.5" y1="753.7" x2="812" y2="751.7" stroke="#2a2a2a" stroke-width="1.1"/>
<ellipse cx="812" cy="759.8" rx="4" ry="7" fill="#fff" stroke="#2a2a2a" stroke-width="1.1" transform="rotate(-30 812 759.8)"/>
<ellipse cx="806.8" cy="762.8" rx="2.9" ry="5" fill="#fff" stroke="#2a2a2a" stroke-width="1.3" transform="rotate(-30 806.8 762.8)"/>
<ellipse cx="807.2" cy="762.6" rx="2.1" ry="3.6" fill="none" stroke="#2a2a2a" stroke-width="1" transform="rotate(-30 807.2 762.6)"/>
<polygon points="815.9,752.3 825,749.6 834.1,746.4 837.8,752.7 833.2,770.5 829.6,770.5 822.3,767.3 818.7,768.2" fill="#fff" stroke="#2a2a2a" stroke-width="1.1" stroke-linejoin="round"/>
<polygon points="834.1,746.4 837.8,741.8 840.5,738.2 846,739.1 849.6,737.7 856,740 858.7,746.4 858.2,753.7 862.3,760.9 866.9,766.4 876.9,766.4 886,769.1 890.5,769.1 894.2,772.8 895.1,781 900.6,788.2 902.4,793.7 899.6,799.2 890.5,802.8 882.4,807.3 873.3,811 864.2,810.1 856.9,807.3 853.2,803.7 851.4,799.2 846,799.2 843.2,793.7 844.6,788.2 849.6,785.5 846,782.8 837.8,783.7 831.4,783.7 826.4,779.1 826.8,773.7 829.6,770" fill="#fff" stroke="#2a2a2a" stroke-width="1.3" stroke-linejoin="round"/>
<ellipse cx="848.7" cy="747.7" rx="4.2" ry="4.6" fill="#fff" stroke="#2a2a2a" stroke-width="1.2"/>
<ellipse cx="848.7" cy="747.7" rx="1.9" ry="2.1" fill="none" stroke="#2a2a2a" stroke-width="0.9"/>
<ellipse cx="886" cy="789.1" rx="4.2" ry="4.6" fill="#fff" stroke="#2a2a2a" stroke-width="1.2"/>
<ellipse cx="886" cy="789.1" rx="1.9" ry="2.1" fill="none" stroke="#2a2a2a" stroke-width="0.9"/>
<polyline points="842.3,740.9 844.6,744.6 844.1,748.2" fill="none" stroke="#2a2a2a" stroke-width="1" stroke-linejoin="round"/>
<polyline points="853.2,741.8 854.1,748.2 858.7,753.7" fill="none" stroke="#2a2a2a" stroke-width="1" stroke-linejoin="round"/>
<polyline points="858.7,753.7 860.5,760 865.1,765.5" fill="none" stroke="#2a2a2a" stroke-width="1.4" stroke-linejoin="round"/>
<ellipse cx="842.9" cy="763" rx="10.7" ry="18.5" fill="#fff" stroke="#2a2a2a" stroke-width="1" transform="rotate(-30 842.9 763)"/>
<ellipse cx="841.4" cy="763.8" rx="10.7" ry="18.5" fill="#fff" stroke="#2a2a2a" stroke-width="1.3" transform="rotate(-30 841.4 763.8)"/>
<ellipse cx="841.9" cy="763.8" rx="7.8" ry="13.5" fill="none" stroke="#2a2a2a" stroke-width="1.1" transform="rotate(-30 841.9 763.8)"/>
<ellipse cx="842.7" cy="764.1" rx="4.6" ry="8" fill="#fff" stroke="#2a2a2a" stroke-width="1.4" transform="rotate(-30 842.7 764.1)"/>
<ellipse cx="843.2" cy="764" rx="3.5" ry="6" fill="none" stroke="#2a2a2a" stroke-width="0.8" transform="rotate(-30 843.2 764)"/>
<path d="M837.4,751.8 A6.3,11 -30 0 0 836.4,766.8" fill="none" stroke="#2a2a2a" stroke-width="1.6" stroke-linejoin="round" stroke-linecap="round"/>
<path d="M848.4,757.8 A6.3,11 -30 0 1 845.4,774.8" fill="none" stroke="#2a2a2a" stroke-width="1.6" stroke-linejoin="round" stroke-linecap="round"/>
<ellipse cx="830.7" cy="777.8" rx="4.3" ry="5.8" fill="#fff" stroke="#2a2a2a" stroke-width="1.2" transform="rotate(-25 830.7 777.8)"/>
<ellipse cx="830.7" cy="777.8" rx="2.3" ry="3.6" fill="none" stroke="#2a2a2a" stroke-width="0.9" transform="rotate(-25 830.7 777.8)"/>
<polyline points="834.1,777.3 842.5,781.9 842.5,785.5 835,783.7" fill="none" stroke="#2a2a2a" stroke-width="1.1" stroke-linejoin="round"/>
<ellipse cx="848.7" cy="795.7" rx="5.6" ry="6.2" fill="#fff" stroke="#2a2a2a" stroke-width="1.3"/>
<ellipse cx="849.2" cy="795.7" rx="4.4" ry="5" fill="none" stroke="#2a2a2a" stroke-width="0.8"/>
<ellipse cx="848.4" cy="796" rx="1.8" ry="2.2" fill="none" stroke="#2a2a2a" stroke-width="0.9"/>
<ellipse cx="869.6" cy="779.6" rx="17.3" ry="10" fill="#fff" stroke="#2a2a2a" stroke-width="1"/>
<ellipse cx="869.6" cy="776.6" rx="17.3" ry="10" fill="#fff" stroke="#2a2a2a" stroke-width="1.3"/>
<ellipse cx="869.6" cy="777" rx="12.3" ry="6.8" fill="none" stroke="#2a2a2a" stroke-width="1"/>
<ellipse cx="869.6" cy="777.4" rx="8" ry="4.4" fill="#fff" stroke="#2a2a2a" stroke-width="1.4"/>
<ellipse cx="869.6" cy="777.8" rx="4.8" ry="2.5" fill="#ccc" stroke="#2a2a2a" stroke-width="1"/>
<path d="M859.1,775.6 A10.5,5.6 0 0 1 867.6,771" fill="none" stroke="#2a2a2a" stroke-width="1.6" stroke-linejoin="round" stroke-linecap="round"/>
<path d="M880.1,778.1 A10.5,5.6 0 0 1 871.6,782.6" fill="none" stroke="#2a2a2a" stroke-width="1.6" stroke-linejoin="round" stroke-linecap="round"/>
<polyline points="858.7,784.6 859.6,801.9 867.8,804.6" fill="none" stroke="#2a2a2a" stroke-width="1.1" stroke-linejoin="round"/>
<polyline points="881.4,783.7 881,793.7" fill="none" stroke="#2a2a2a" stroke-width="1.1" stroke-linejoin="round"/>
<polyline points="864.2,788.2 864.6,802.8" fill="none" stroke="#2a2a2a" stroke-width="0.8" stroke-linejoin="round"/>
<polyline points="875.5,788.2 875.5,799.2" fill="none" stroke="#2a2a2a" stroke-width="0.8" stroke-linejoin="round"/>
<polyline points="853.2,803.7 858.7,801.9 867.8,804.6 876.9,801 886,797.3 893.3,793.7" fill="none" stroke="#2a2a2a" stroke-width="1.1" stroke-linejoin="round"/>
<polygon points="868.7,804.8 870.5,802.8 881.4,799 882.8,800.2 881,802.3 870.5,806" fill="#eee" stroke="#2a2a2a" stroke-width="1.5" stroke-linejoin="round"/>
<polygon points="886,799.2 894.2,796 895.1,797.8 886.9,801.4" fill="none" stroke="#2a2a2a" stroke-width="1.4" stroke-linejoin="round"/>
<polyline points="882.4,793.7 886,795.5 891.5,793.7 895.1,790.1" fill="none" stroke="#2a2a2a" stroke-width="1.2" stroke-linejoin="round"/>
<polyline points="895.1,781 891.5,784.6 889.6,788.2" fill="none" stroke="#2a2a2a" stroke-width="1" stroke-linejoin="round"/>
<ellipse cx="898.7" cy="792.8" rx="3.2" ry="4.6" fill="none" stroke="#2a2a2a" stroke-width="1.1" transform="rotate(20 898.7 792.8)"/>
<polygon points="800.5,780 803.5,777.8 806.5,779.5 804,783.5 801,783.5" fill="#fff" stroke="#2a2a2a" stroke-width="0.9" stroke-linejoin="round"/>
<polygon points="914.7,706.2 929.6,698.6 931.7,702.7 916.8,710.3" fill="#fff" stroke="#2a2a2a" stroke-width="1" stroke-linejoin="round"/>
<polygon points="914.7,706.2 923.9,701.5 926,705.6 916.8,710.3" fill="#333" stroke="#222" stroke-width="0.8"/>
<ellipse cx="930.6" cy="700.7" rx="1.8" ry="5" fill="#fff" stroke="#2a2a2a" stroke-width="1.1" transform="rotate(-27 930.6 700.7)"/>
<polygon points="929.5,697.2 934.6,694.6 937.9,701 932.8,703.6" fill="#fff" stroke="#2a2a2a" stroke-width="1.1" stroke-linejoin="round"/>
<ellipse cx="936.2" cy="697.8" rx="1.6" ry="3.6" fill="#fff" stroke="#2a2a2a" stroke-width="1" transform="rotate(-27 936.2 697.8)"/>
<line x1="930.6" y1="699.3" x2="935.7" y2="696.7" stroke="#2a2a2a" stroke-width="0.8"/>
<line x1="931.8" y1="701.6" x2="936.9" y2="699" stroke="#2a2a2a" stroke-width="0.8"/>
<polygon points="905.7,731.2 920.6,723.6 922.7,727.7 907.8,735.3" fill="#fff" stroke="#2a2a2a" stroke-width="1" stroke-linejoin="round"/>
<polygon points="905.7,731.2 914.9,726.5 917,730.6 907.8,735.3" fill="#333" stroke="#222" stroke-width="0.8"/>
<ellipse cx="921.6" cy="725.7" rx="1.8" ry="5" fill="#fff" stroke="#2a2a2a" stroke-width="1.1" transform="rotate(-27 921.6 725.7)"/>
<polygon points="920.5,722.2 925.6,719.6 928.9,726 923.8,728.6" fill="#fff" stroke="#2a2a2a" stroke-width="1.1" stroke-linejoin="round"/>
<ellipse cx="927.2" cy="722.8" rx="1.6" ry="3.6" fill="#fff" stroke="#2a2a2a" stroke-width="1" transform="rotate(-27 927.2 722.8)"/>
<line x1="921.6" y1="724.3" x2="926.7" y2="721.7" stroke="#2a2a2a" stroke-width="0.8"/>
<line x1="922.8" y1="726.6" x2="927.9" y2="724" stroke="#2a2a2a" stroke-width="0.8"/>
<polygon points="951.7,747.8 966.6,740.2 968.7,744.3 953.8,751.9" fill="#fff" stroke="#2a2a2a" stroke-width="1" stroke-linejoin="round"/>
<polygon points="951.7,747.8 960.9,743.1 963,747.2 953.8,751.9" fill="#333" stroke="#222" stroke-width="0.8"/>
<ellipse cx="967.6" cy="742.3" rx="1.8" ry="5" fill="#fff" stroke="#2a2a2a" stroke-width="1.1" transform="rotate(-27 967.6 742.3)"/>
<polygon points="966.5,738.8 971.6,736.2 974.9,742.6 969.8,745.2" fill="#fff" stroke="#2a2a2a" stroke-width="1.1" stroke-linejoin="round"/>
<ellipse cx="973.2" cy="739.4" rx="1.6" ry="3.6" fill="#fff" stroke="#2a2a2a" stroke-width="1" transform="rotate(-27 973.2 739.4)"/>
<line x1="967.6" y1="740.9" x2="972.7" y2="738.3" stroke="#2a2a2a" stroke-width="0.8"/>
<line x1="968.8" y1="743.2" x2="973.9" y2="740.6" stroke="#2a2a2a" stroke-width="0.8"/>
<rect x="860.0" y="846" width="6.4" height="6" fill="#fff" stroke="#2a2a2a" stroke-width="1"/>
<ellipse cx="863.2" cy="846" rx="3.2" ry="1.7" fill="#fff" stroke="#2a2a2a" stroke-width="1"/>
<rect x="858.2" y="852" width="10" height="5" fill="#fff" stroke="#2a2a2a" stroke-width="1"/>
<polygon points="856.2,857 870.2,857 869.2,863 863.2,865 857.2,863" fill="#fff" stroke="#2a2a2a" stroke-width="1.1"/>
<line x1="860.5" y1="857" x2="860.5" y2="864" stroke="#2a2a2a" stroke-width="0.8"/>
<line x1="865.5" y1="857" x2="865.5" y2="864" stroke="#2a2a2a" stroke-width="0.8"/>
<rect x="877" y="842" width="11.6" height="6.5" fill="#fff" stroke="#2a2a2a" stroke-width="1"/>
<ellipse cx="882.8" cy="842" rx="5.8" ry="3" fill="#444" stroke="#2a2a2a" stroke-width="1.2"/>
<ellipse cx="882.8" cy="841.6" rx="3.6" ry="1.6" fill="#ddd" stroke="#2a2a2a" stroke-width="0.8"/>
<polygon points="875.8,848.5 889.8,848.5 889,853 882.8,855.5 876.6,853" fill="#fff" stroke="#2a2a2a" stroke-width="1.1"/>
<line x1="880.5" y1="848.5" x2="880.5" y2="855" stroke="#2a2a2a" stroke-width="0.8"/>
<line x1="885.5" y1="848.5" x2="885.5" y2="854.6" stroke="#2a2a2a" stroke-width="0.8"/>
<ellipse cx="863.2" cy="901" rx="9.6" ry="5.8" fill="#fff" stroke="#2a2a2a" stroke-width="1.1"/>
<ellipse cx="863.2" cy="899" rx="9.6" ry="5.8" fill="#fff" stroke="#2a2a2a" stroke-width="1.3"/>
<ellipse cx="863.2" cy="899.6" rx="8" ry="4.5" fill="none" stroke="#2a2a2a" stroke-width="0.9"/>
<ellipse cx="883" cy="890.2" rx="9.6" ry="5.8" fill="#fff" stroke="#2a2a2a" stroke-width="1.1"/>
<ellipse cx="883" cy="888.2" rx="9.6" ry="5.8" fill="#fff" stroke="#2a2a2a" stroke-width="1.3"/>
<ellipse cx="883" cy="888.8" rx="8" ry="4.5" fill="none" stroke="#2a2a2a" stroke-width="0.9"/>
<ellipse cx="827.3" cy="832.5" rx="3" ry="3" fill="#fff" stroke="#2a2a2a" stroke-width="0.9"/>
<rect x="826.3" y="857.6" width="2.2" height="11" fill="#fff" stroke="#2a2a2a" stroke-width="0.8"/>
<ellipse cx="808.3" cy="844.1" rx="1.3" ry="3" fill="none" stroke="#222" stroke-width="1.1" transform="rotate(-25 808.3 844.1)"/>
<ellipse cx="810" cy="843.2" rx="1.3" ry="3" fill="none" stroke="#222" stroke-width="1.1" transform="rotate(-25 810 843.2)"/>
<ellipse cx="811.7" cy="842.2" rx="1.3" ry="3" fill="none" stroke="#222" stroke-width="1.1" transform="rotate(-25 811.7 842.2)"/>
<ellipse cx="813.4" cy="841.2" rx="1.3" ry="3" fill="none" stroke="#222" stroke-width="1.1" transform="rotate(-25 813.4 841.2)"/>
<ellipse cx="815.1" cy="840.3" rx="1.3" ry="3" fill="none" stroke="#222" stroke-width="1.1" transform="rotate(-25 815.1 840.3)"/>
<ellipse cx="777.9" cy="800.5" rx="11.3" ry="19.5" fill="#fff" stroke="#2a2a2a" stroke-width="1.1" transform="rotate(-30 777.9 800.5)"/>
<polygon points="777.2,823.4 787.6,817.4 768.1,783.6 757.8,789.6" fill="#fff" stroke="none"/>
<line x1="777.2" y1="823.4" x2="787.6" y2="817.4" stroke="#2a2a2a" stroke-width="1.1"/>
<line x1="757.8" y1="789.6" x2="768.1" y2="783.6" stroke="#2a2a2a" stroke-width="1.1"/>
<ellipse cx="767.5" cy="806.5" rx="11.3" ry="19.5" fill="#fff" stroke="#2a2a2a" stroke-width="1.1" transform="rotate(-30 767.5 806.5)"/>
<line x1="759" y1="791.8" x2="769.4" y2="785.8" stroke="#2a2a2a" stroke-width="0.9"/>
<line x1="761.5" y1="796.1" x2="771.9" y2="790.1" stroke="#2a2a2a" stroke-width="0.9"/>
<line x1="764.5" y1="801.3" x2="774.9" y2="795.3" stroke="#2a2a2a" stroke-width="0.9"/>
<line x1="767.5" y1="806.5" x2="777.9" y2="800.5" stroke="#2a2a2a" stroke-width="0.9"/>
<line x1="770.5" y1="811.7" x2="780.9" y2="805.7" stroke="#2a2a2a" stroke-width="0.9"/>
<line x1="773.5" y1="816.9" x2="783.9" y2="810.9" stroke="#2a2a2a" stroke-width="0.9"/>
<line x1="776" y1="821.2" x2="786.4" y2="815.2" stroke="#2a2a2a" stroke-width="0.9"/>
<ellipse cx="767.5" cy="806.5" rx="11.3" ry="19.5" fill="#fff" stroke="#2a2a2a" stroke-width="1.1" transform="rotate(-30 767.5 806.5)"/>
<ellipse cx="770" cy="793.5" rx="2.7" ry="4.6" fill="#fff" stroke="#2a2a2a" stroke-width="1" transform="rotate(-30 770 793.5)"/>
<polygon points="762.8,803 772.3,797.5 767.7,789.5 758.2,795" fill="#fff" stroke="none"/>
<line x1="762.8" y1="803" x2="772.3" y2="797.5" stroke="#2a2a2a" stroke-width="1"/>
<line x1="758.2" y1="795" x2="767.7" y2="789.5" stroke="#2a2a2a" stroke-width="1"/>
<ellipse cx="760.5" cy="799" rx="2.7" ry="4.6" fill="#fff" stroke="#2a2a2a" stroke-width="1" transform="rotate(-30 760.5 799)"/>
<ellipse cx="762" cy="798.5" rx="2.7" ry="4.6" fill="#fff" stroke="#2a2a2a" stroke-width="1" transform="rotate(-30 762 798.5)"/>
<polygon points="754.8,808 764.3,802.5 759.7,794.5 750.2,800" fill="#fff" stroke="none"/>
<line x1="754.8" y1="808" x2="764.3" y2="802.5" stroke="#2a2a2a" stroke-width="1"/>
<line x1="750.2" y1="800" x2="759.7" y2="794.5" stroke="#2a2a2a" stroke-width="1"/>
<ellipse cx="752.5" cy="804" rx="2.7" ry="4.6" fill="#fff" stroke="#2a2a2a" stroke-width="1" transform="rotate(-30 752.5 804)"/>
<ellipse cx="755" cy="804.5" rx="2.7" ry="4.6" fill="#fff" stroke="#2a2a2a" stroke-width="1" transform="rotate(-30 755 804.5)"/>
<polygon points="747.8,814 757.3,808.5 752.7,800.5 743.2,806" fill="#fff" stroke="none"/>
<line x1="747.8" y1="814" x2="757.3" y2="808.5" stroke="#2a2a2a" stroke-width="1"/>
<line x1="743.2" y1="806" x2="752.7" y2="800.5" stroke="#2a2a2a" stroke-width="1"/>
<ellipse cx="745.5" cy="810" rx="2.7" ry="4.6" fill="#fff" stroke="#2a2a2a" stroke-width="1" transform="rotate(-30 745.5 810)"/>
<ellipse cx="772" cy="802.5" rx="2.7" ry="4.6" fill="#fff" stroke="#2a2a2a" stroke-width="1" transform="rotate(-30 772 802.5)"/>
<polygon points="764.8,812 774.3,806.5 769.7,798.5 760.2,804" fill="#fff" stroke="none"/>
<line x1="764.8" y1="812" x2="774.3" y2="806.5" stroke="#2a2a2a" stroke-width="1"/>
<line x1="760.2" y1="804" x2="769.7" y2="798.5" stroke="#2a2a2a" stroke-width="1"/>
<ellipse cx="762.5" cy="808" rx="2.7" ry="4.6" fill="#fff" stroke="#2a2a2a" stroke-width="1" transform="rotate(-30 762.5 808)"/>
<ellipse cx="764" cy="807.5" rx="2.7" ry="4.6" fill="#fff" stroke="#2a2a2a" stroke-width="1" transform="rotate(-30 764 807.5)"/>
<polygon points="756.8,817 766.3,811.5 761.7,803.5 752.2,809" fill="#fff" stroke="none"/>
<line x1="756.8" y1="817" x2="766.3" y2="811.5" stroke="#2a2a2a" stroke-width="1"/>
<line x1="752.2" y1="809" x2="761.7" y2="803.5" stroke="#2a2a2a" stroke-width="1"/>
<ellipse cx="754.5" cy="813" rx="2.7" ry="4.6" fill="#fff" stroke="#2a2a2a" stroke-width="1" transform="rotate(-30 754.5 813)"/>
<ellipse cx="757" cy="813.5" rx="2.7" ry="4.6" fill="#fff" stroke="#2a2a2a" stroke-width="1" transform="rotate(-30 757 813.5)"/>
<polygon points="749.8,823 759.3,817.5 754.7,809.5 745.2,815" fill="#fff" stroke="none"/>
<line x1="749.8" y1="823" x2="759.3" y2="817.5" stroke="#2a2a2a" stroke-width="1"/>
<line x1="745.2" y1="815" x2="754.7" y2="809.5" stroke="#2a2a2a" stroke-width="1"/>
<ellipse cx="747.5" cy="819" rx="2.7" ry="4.6" fill="#fff" stroke="#2a2a2a" stroke-width="1" transform="rotate(-30 747.5 819)"/>
<ellipse cx="774" cy="811.5" rx="2.7" ry="4.6" fill="#fff" stroke="#2a2a2a" stroke-width="1" transform="rotate(-30 774 811.5)"/>
<polygon points="766.8,821 776.3,815.5 771.7,807.5 762.2,813" fill="#fff" stroke="none"/>
<line x1="766.8" y1="821" x2="776.3" y2="815.5" stroke="#2a2a2a" stroke-width="1"/>
<line x1="762.2" y1="813" x2="771.7" y2="807.5" stroke="#2a2a2a" stroke-width="1"/>
<ellipse cx="764.5" cy="817" rx="2.7" ry="4.6" fill="#fff" stroke="#2a2a2a" stroke-width="1" transform="rotate(-30 764.5 817)"/>
<ellipse cx="767" cy="816.5" rx="2.7" ry="4.6" fill="#fff" stroke="#2a2a2a" stroke-width="1" transform="rotate(-30 767 816.5)"/>
<polygon points="759.8,826 769.3,820.5 764.7,812.5 755.2,818" fill="#fff" stroke="none"/>
<line x1="759.8" y1="826" x2="769.3" y2="820.5" stroke="#2a2a2a" stroke-width="1"/>
<line x1="755.2" y1="818" x2="764.7" y2="812.5" stroke="#2a2a2a" stroke-width="1"/>
<ellipse cx="757.5" cy="822" rx="2.7" ry="4.6" fill="#fff" stroke="#2a2a2a" stroke-width="1" transform="rotate(-30 757.5 822)"/>
<ellipse cx="729.5" cy="828.5" rx="9.4" ry="16.3" fill="#fff" stroke="#2a2a2a" stroke-width="1.3" transform="rotate(-30 729.5 828.5)"/>
<polygon points="734.1,844.6 737.6,842.6 721.3,814.4 717.9,816.4" fill="#fff" stroke="none"/>
<line x1="734.1" y1="844.6" x2="737.6" y2="842.6" stroke="#2a2a2a" stroke-width="1.3"/>
<line x1="717.9" y1="816.4" x2="721.3" y2="814.4" stroke="#2a2a2a" stroke-width="1.3"/>
<ellipse cx="726" cy="830.5" rx="9.4" ry="16.3" fill="#fff" stroke="#2a2a2a" stroke-width="1.3" transform="rotate(-30 726 830.5)"/>
<ellipse cx="727.5" cy="829.8" rx="9.4" ry="16.3" fill="none" stroke="#2a2a2a" stroke-width="0.9" transform="rotate(-30 727.5 829.8)"/>
<ellipse cx="726" cy="830.5" rx="9.4" ry="16.3" fill="#fff" stroke="#2a2a2a" stroke-width="1.4" transform="rotate(-30 726 830.5)"/>
<ellipse cx="726" cy="830.5" rx="6.6" ry="11.5" fill="none" stroke="#2a2a2a" stroke-width="1.2" transform="rotate(-30 726 830.5)"/>
<ellipse cx="726.3" cy="830.5" rx="5.8" ry="10" fill="none" stroke="#333" stroke-width="1" transform="rotate(-30 726.3 830.5)"/>
<ellipse cx="726.3" cy="830.5" rx="4.9" ry="8.5" fill="none" stroke="#333" stroke-width="1" transform="rotate(-30 726.3 830.5)"/>
<ellipse cx="726.3" cy="830.5" rx="4" ry="7" fill="none" stroke="#333" stroke-width="1" transform="rotate(-30 726.3 830.5)"/>
<ellipse cx="726.5" cy="830.5" rx="3.2" ry="5.5" fill="#fff" stroke="#2a2a2a" stroke-width="0.9" transform="rotate(-30 726.5 830.5)"/>
<ellipse cx="178.4" cy="593.5" rx="3.2" ry="5.6" fill="#fff" stroke="#2a2a2a" stroke-width="1.1" transform="rotate(-30 178.4 593.5)"/>
<polygon points="158.7,611.3 181.2,598.3 175.6,588.7 153.1,601.7" fill="#fff" stroke="none"/>
<line x1="158.7" y1="611.3" x2="181.2" y2="598.3" stroke="#2a2a2a" stroke-width="1.1"/>
<line x1="153.1" y1="601.7" x2="175.6" y2="588.7" stroke="#2a2a2a" stroke-width="1.1"/>
<ellipse cx="155.9" cy="606.5" rx="3.2" ry="5.6" fill="#fff" stroke="#2a2a2a" stroke-width="1.1" transform="rotate(-30 155.9 606.5)"/>
<ellipse cx="183.6" cy="590.5" rx="4.4" ry="7.6" fill="#fff" stroke="#2a2a2a" stroke-width="1.1" transform="rotate(-30 183.6 590.5)"/>
<polygon points="180.5,601.1 187.4,597.1 179.8,583.9 172.9,587.9" fill="#fff" stroke="none"/>
<line x1="180.5" y1="601.1" x2="187.4" y2="597.1" stroke="#2a2a2a" stroke-width="1.1"/>
<line x1="172.9" y1="587.9" x2="179.8" y2="583.9" stroke="#2a2a2a" stroke-width="1.1"/>
<ellipse cx="176.7" cy="594.5" rx="4.4" ry="7.6" fill="#fff" stroke="#2a2a2a" stroke-width="1.1" transform="rotate(-30 176.7 594.5)"/>
<ellipse cx="176.7" cy="594.5" rx="4.4" ry="7.6" fill="#fff" stroke="#2a2a2a" stroke-width="1.1" transform="rotate(-30 176.7 594.5)"/>
<ellipse cx="177" cy="594.4" rx="2.6" ry="4.5" fill="none" stroke="#2a2a2a" stroke-width="0.8" transform="rotate(-30 177 594.4)"/>
<line x1="175.4" y1="592.3" x2="181.5" y2="588.8" stroke="#2a2a2a" stroke-width="0.8"/>
<line x1="178.2" y1="597.1" x2="184.3" y2="593.6" stroke="#2a2a2a" stroke-width="0.8"/>
<ellipse cx="157.6" cy="605.5" rx="5.8" ry="10" fill="#fff" stroke="#2a2a2a" stroke-width="1.1" transform="rotate(-30 157.6 605.5)"/>
<polygon points="135,638.2 162.6,614.2 152.6,596.8 118,608.8" fill="#fff" stroke="none"/>
<path d="M135,638.2 Q148.1,628.9 162.6,614.2" fill="none" stroke="#2a2a2a" stroke-width="1.1" stroke-linejoin="round" stroke-linecap="round"/>
<path d="M118,608.8 Q132.6,602.1 152.6,596.8" fill="none" stroke="#2a2a2a" stroke-width="1.1" stroke-linejoin="round" stroke-linecap="round"/>
<path d="M152.6,596.8 A5.8,10 -30 0 1 162.6,614.2" fill="none" stroke="#2a2a2a" stroke-width="1.1" stroke-linejoin="round" stroke-linecap="round"/>
<ellipse cx="126.9" cy="623.2" rx="24.2" ry="42" fill="#fff" stroke="#2a2a2a" stroke-width="1.2" transform="rotate(-30 126.9 623.2)"/>
<polygon points="144,661.9 147.9,659.6 105.9,586.9 102,589.1" fill="#fff" stroke="none"/>
<line x1="144" y1="661.9" x2="147.9" y2="659.6" stroke="#2a2a2a" stroke-width="1.2"/>
<line x1="102" y1="589.1" x2="105.9" y2="586.9" stroke="#2a2a2a" stroke-width="1.2"/>
<ellipse cx="123" cy="625.5" rx="24.2" ry="42" fill="#fff" stroke="#2a2a2a" stroke-width="1.2" transform="rotate(-30 123 625.5)"/>
<ellipse cx="123" cy="625.5" rx="24.2" ry="42" fill="#fff" stroke="#2a2a2a" stroke-width="1.3" transform="rotate(-30 123 625.5)"/>
<ellipse cx="123.5" cy="625.5" rx="9.8" ry="17" fill="none" stroke="#2a2a2a" stroke-width="1.1" transform="rotate(-30 123.5 625.5)"/>
<ellipse cx="124.5" cy="625" rx="8.4" ry="14.5" fill="none" stroke="#444" stroke-width="1.6" transform="rotate(-30 124.5 625)"/>
<ellipse cx="125" cy="625" rx="6.9" ry="12" fill="none" stroke="#2a2a2a" stroke-width="1" transform="rotate(-30 125 625)"/>
<ellipse cx="103.8" cy="604" rx="2.3" ry="3.8" fill="#fff" stroke="#2a2a2a" stroke-width="1" transform="rotate(-30 103.8 604)"/>
<ellipse cx="117.5" cy="598.7" rx="2.3" ry="3.8" fill="#fff" stroke="#2a2a2a" stroke-width="1" transform="rotate(-30 117.5 598.7)"/>
<ellipse cx="132" cy="608.5" rx="2.3" ry="3.8" fill="#fff" stroke="#2a2a2a" stroke-width="1" transform="rotate(-30 132 608.5)"/>
<ellipse cx="143.5" cy="631" rx="2.3" ry="3.8" fill="#fff" stroke="#2a2a2a" stroke-width="1" transform="rotate(-30 143.5 631)"/>
<ellipse cx="140.4" cy="649.6" rx="2.3" ry="3.8" fill="#fff" stroke="#2a2a2a" stroke-width="1" transform="rotate(-30 140.4 649.6)"/>
<ellipse cx="135.2" cy="652.6" rx="2.3" ry="3.8" fill="#fff" stroke="#2a2a2a" stroke-width="1" transform="rotate(-30 135.2 652.6)"/>
<ellipse cx="117.5" cy="646" rx="2.3" ry="3.8" fill="#fff" stroke="#2a2a2a" stroke-width="1" transform="rotate(-30 117.5 646)"/>
<ellipse cx="103.8" cy="624.7" rx="2.3" ry="3.8" fill="#fff" stroke="#2a2a2a" stroke-width="1" transform="rotate(-30 103.8 624.7)"/>
<ellipse cx="43" cy="890.8" rx="9.4" ry="16.3" fill="#fff" stroke="#2a2a2a" stroke-width="1.1" transform="rotate(-30 43 890.8)"/>
<polygon points="30.8,916.6 51.1,904.9 34.8,876.6 14.5,888.4" fill="#fff" stroke="none"/>
<line x1="30.8" y1="916.6" x2="51.1" y2="904.9" stroke="#2a2a2a" stroke-width="1.1"/>
<line x1="14.5" y1="888.4" x2="34.8" y2="876.6" stroke="#2a2a2a" stroke-width="1.1"/>
<ellipse cx="22.6" cy="902.5" rx="9.4" ry="16.3" fill="#fff" stroke="#2a2a2a" stroke-width="1.1" transform="rotate(-30 22.6 902.5)"/>
<ellipse cx="22.6" cy="902.5" rx="9.4" ry="16.3" fill="#fff" stroke="#2a2a2a" stroke-width="1.2" transform="rotate(-30 22.6 902.5)"/>
<ellipse cx="23.6" cy="902" rx="8.3" ry="14.3" fill="none" stroke="#2a2a2a" stroke-width="0.9" transform="rotate(-30 23.6 902)"/>
<path d="M19.9,885.3 A9.4,16.3 -30 0 0 36.1,913.5" fill="none" stroke="#2a2a2a" stroke-width="0.8" stroke-linejoin="round" stroke-linecap="round"/>
<polygon points="108.9,822.8 112.5,818.7 117.5,818.2 122.1,821.7 124.1,828.3 126.6,840.4 130.7,848.5 136.7,852.6 142.3,856.6 143.8,861.7 141.3,867.2 135.7,869.3 129.7,866.7 125.1,869.8 122.6,876.9 117.5,879.9 112.5,878.9 109.9,873.8 113.5,869.8 117.5,864.7 114.5,856.6 108.4,848.5 103.4,840.4 100.3,835.4 95.3,833.4 91.7,835.4 89.7,833.4 91.7,830.3 97.3,829.3 103.4,830.3 108.4,827.3" fill="#fff" stroke="#2a2a2a" stroke-width="1.2" stroke-linejoin="round"/>
<polyline points="109.9,824.3 113,820.7 117,820.2 120.1,823.3 121.8,829.3 124.1,841.5 128.1,849.6 134.7,854.1 139.8,858.1 140.8,862.2 138.8,865.7 135.2,866.7" fill="none" stroke="#2a2a2a" stroke-width="0.9"/>
<ellipse cx="95.4" cy="838" rx="1.9" ry="3.3" fill="#fff" stroke="#2a2a2a" stroke-width="1" transform="rotate(-30 95.4 838)"/>
<polygon points="85.8,847.4 97.1,840.9 93.8,835.1 82.5,841.6" fill="#fff" stroke="none"/>
<line x1="85.8" y1="847.4" x2="97.1" y2="840.9" stroke="#2a2a2a" stroke-width="1"/>
<line x1="82.5" y1="841.6" x2="93.8" y2="835.1" stroke="#2a2a2a" stroke-width="1"/>
<ellipse cx="84.2" cy="844.5" rx="1.9" ry="3.3" fill="#fff" stroke="#2a2a2a" stroke-width="1" transform="rotate(-30 84.2 844.5)"/>
<ellipse cx="111.7" cy="825.8" rx="1.9" ry="3.3" fill="#fff" stroke="#2a2a2a" stroke-width="1" transform="rotate(-30 111.7 825.8)"/>
<polygon points="105.5,833.2 113.3,828.7 110,823 102.2,827.5" fill="#fff" stroke="none"/>
<line x1="105.5" y1="833.2" x2="113.3" y2="828.7" stroke="#2a2a2a" stroke-width="1"/>
<line x1="102.2" y1="827.5" x2="110" y2="823" stroke="#2a2a2a" stroke-width="1"/>
<ellipse cx="103.9" cy="830.3" rx="1.9" ry="3.3" fill="#fff" stroke="#2a2a2a" stroke-width="1" transform="rotate(-30 103.9 830.3)"/>
<ellipse cx="114.6" cy="871.9" rx="1.9" ry="3.3" fill="#fff" stroke="#2a2a2a" stroke-width="1" transform="rotate(-30 114.6 871.9)"/>
<polygon points="105,881.2 116.3,874.7 113,869 101.7,875.5" fill="#fff" stroke="none"/>
<line x1="105" y1="881.2" x2="116.3" y2="874.7" stroke="#2a2a2a" stroke-width="1"/>
<line x1="101.7" y1="875.5" x2="113" y2="869" stroke="#2a2a2a" stroke-width="1"/>
<ellipse cx="103.4" cy="878.4" rx="1.9" ry="3.3" fill="#fff" stroke="#2a2a2a" stroke-width="1" transform="rotate(-30 103.4 878.4)"/>
<ellipse cx="134.8" cy="859.7" rx="1.9" ry="3.3" fill="#fff" stroke="#2a2a2a" stroke-width="1" transform="rotate(-30 134.8 859.7)"/>
<polygon points="127.8,867.6 136.4,862.6 133.1,856.9 124.5,861.9" fill="#fff" stroke="none"/>
<line x1="127.8" y1="867.6" x2="136.4" y2="862.6" stroke="#2a2a2a" stroke-width="1"/>
<line x1="124.5" y1="861.9" x2="133.1" y2="856.9" stroke="#2a2a2a" stroke-width="1"/>
<ellipse cx="126.1" cy="864.7" rx="1.9" ry="3.3" fill="#fff" stroke="#2a2a2a" stroke-width="1" transform="rotate(-30 126.1 864.7)"/>
<ellipse cx="93.8" cy="835.4" rx="3.6" ry="6.2" fill="none" stroke="#2a2a2a" stroke-width="1.1" transform="rotate(-30 93.8 835.4)"/>
<ellipse cx="114.5" cy="824.8" rx="3.6" ry="6.2" fill="none" stroke="#2a2a2a" stroke-width="1.1" transform="rotate(-30 114.5 824.8)"/>
<ellipse cx="115.5" cy="872.3" rx="3.6" ry="6.2" fill="none" stroke="#2a2a2a" stroke-width="1.1" transform="rotate(-30 115.5 872.3)"/>
<ellipse cx="136.2" cy="860.7" rx="3.6" ry="6.2" fill="none" stroke="#2a2a2a" stroke-width="1.1" transform="rotate(-30 136.2 860.7)"/>
<ellipse cx="93.7" cy="839" rx="1.9" ry="3.3" fill="#fff" stroke="#2a2a2a" stroke-width="1" transform="rotate(-30 93.7 839)"/>
<polygon points="85.8,847.4 95.3,841.9 92,836.1 82.5,841.6" fill="#fff" stroke="none"/>
<line x1="85.8" y1="847.4" x2="95.3" y2="841.9" stroke="#2a2a2a" stroke-width="1"/>
<line x1="82.5" y1="841.6" x2="92" y2="836.1" stroke="#2a2a2a" stroke-width="1"/>
<ellipse cx="84.2" cy="844.5" rx="1.9" ry="3.3" fill="#fff" stroke="#2a2a2a" stroke-width="1" transform="rotate(-30 84.2 844.5)"/>
<ellipse cx="112.9" cy="872.9" rx="1.9" ry="3.3" fill="#fff" stroke="#2a2a2a" stroke-width="1" transform="rotate(-30 112.9 872.9)"/>
<polygon points="105,881.2 114.5,875.7 111.2,870 101.7,875.5" fill="#fff" stroke="none"/>
<line x1="105" y1="881.2" x2="114.5" y2="875.7" stroke="#2a2a2a" stroke-width="1"/>
<line x1="101.7" y1="875.5" x2="111.2" y2="870" stroke="#2a2a2a" stroke-width="1"/>
<ellipse cx="103.4" cy="878.4" rx="1.9" ry="3.3" fill="#fff" stroke="#2a2a2a" stroke-width="1" transform="rotate(-30 103.4 878.4)"/>
<ellipse cx="116.5" cy="847.6" rx="8.1" ry="14" fill="#fff" stroke="#2a2a2a" stroke-width="1.1" transform="rotate(-30 116.5 847.6)"/>
<polygon points="117.4,863.2 123.5,859.7 109.5,835.4 103.4,838.9" fill="#fff" stroke="none"/>
<line x1="117.4" y1="863.2" x2="123.5" y2="859.7" stroke="#2a2a2a" stroke-width="1.1"/>
<line x1="103.4" y1="838.9" x2="109.5" y2="835.4" stroke="#2a2a2a" stroke-width="1.1"/>
<ellipse cx="110.4" cy="851.1" rx="8.1" ry="14" fill="#fff" stroke="#2a2a2a" stroke-width="1.1" transform="rotate(-30 110.4 851.1)"/>
<ellipse cx="110.4" cy="851.1" rx="8.1" ry="14" fill="#fff" stroke="#2a2a2a" stroke-width="1.2" transform="rotate(-30 110.4 851.1)"/>
<ellipse cx="109.6" cy="851.6" rx="6.3" ry="11" fill="none" stroke="#2a2a2a" stroke-width="0.9" transform="rotate(-30 109.6 851.6)"/>
<path d="M110.5,835.4 A8.1,14 -30 0 1 124.5,859.7" fill="none" stroke="#444" stroke-width="2.2" stroke-linejoin="round" stroke-linecap="round"/>
<ellipse cx="103.9" cy="855.7" rx="4.7" ry="8.2" fill="#fff" stroke="#2a2a2a" stroke-width="1.1" transform="rotate(-30 103.9 855.7)"/>
<polygon points="101.9,866.3 108,862.8 99.8,848.6 93.7,852.1" fill="#fff" stroke="none"/>
<line x1="101.9" y1="866.3" x2="108" y2="862.8" stroke="#2a2a2a" stroke-width="1.1"/>
<line x1="93.7" y1="852.1" x2="99.8" y2="848.6" stroke="#2a2a2a" stroke-width="1.1"/>
<ellipse cx="97.8" cy="859.2" rx="4.7" ry="8.2" fill="#fff" stroke="#2a2a2a" stroke-width="1.1" transform="rotate(-30 97.8 859.2)"/>
<ellipse cx="97.8" cy="859.2" rx="4.7" ry="8.2" fill="#fff" stroke="#2a2a2a" stroke-width="1.3" transform="rotate(-30 97.8 859.2)"/>
<ellipse cx="97.8" cy="859.2" rx="3.5" ry="6" fill="none" stroke="#2a2a2a" stroke-width="0.9" transform="rotate(-30 97.8 859.2)"/>
<ellipse cx="97.3" cy="859.5" rx="2.2" ry="3.8" fill="#fff" stroke="#2a2a2a" stroke-width="1.1" transform="rotate(-30 97.3 859.5)"/>
<ellipse cx="97.5" cy="859.4" rx="1.3" ry="2.2" fill="none" stroke="#2a2a2a" stroke-width="0.8" transform="rotate(-30 97.5 859.4)"/>
<line x1="95.8" y1="855.7" x2="101" y2="852.7" stroke="#2a2a2a" stroke-width="0.8"/>
<line x1="97.8" y1="859.2" x2="103" y2="856.2" stroke="#2a2a2a" stroke-width="0.8"/>
<line x1="99.8" y1="862.6" x2="105" y2="859.6" stroke="#2a2a2a" stroke-width="0.8"/>
<ellipse cx="196" cy="803" rx="8.9" ry="15.5" fill="#fff" stroke="#2a2a2a" stroke-width="1.2" transform="rotate(-30 196 803)"/>
<path d="M190,793 L197,789 M186,808 L201,800 M192,816 L199,812" fill="none" stroke="#2a2a2a" stroke-width="1" stroke-linejoin="round" stroke-linecap="round"/>
<ellipse cx="194.5" cy="804" rx="6.6" ry="11.5" fill="none" stroke="#2a2a2a" stroke-width="1" transform="rotate(-30 194.5 804)"/>
<ellipse cx="192.2" cy="805" rx="4.6" ry="8" fill="#fff" stroke="#2a2a2a" stroke-width="1" transform="rotate(-30 192.2 805)"/>
<polygon points="178,822.4 196.2,811.9 188.2,798.1 170,808.6" fill="#fff" stroke="none"/>
<line x1="178" y1="822.4" x2="196.2" y2="811.9" stroke="#2a2a2a" stroke-width="1"/>
<line x1="170" y1="808.6" x2="188.2" y2="798.1" stroke="#2a2a2a" stroke-width="1"/>
<ellipse cx="174" cy="815.5" rx="4.6" ry="8" fill="#fff" stroke="#2a2a2a" stroke-width="1" transform="rotate(-30 174 815.5)"/>
<ellipse cx="172.5" cy="816.5" rx="8.9" ry="15.5" fill="#fff" stroke="#2a2a2a" stroke-width="1.2" transform="rotate(-30 172.5 816.5)"/>
<ellipse cx="172.5" cy="816.5" rx="4.6" ry="8" fill="none" stroke="#2a2a2a" stroke-width="1.1" transform="rotate(-30 172.5 816.5)"/>
<ellipse cx="173.3" cy="816" rx="3.8" ry="6.5" fill="none" stroke="#2a2a2a" stroke-width="0.9" transform="rotate(-30 173.3 816)"/>
<polyline points="200,792 203.5,796 203.5,812 200,818" fill="none" stroke="#2a2a2a" stroke-width="1" stroke-linejoin="round"/>
<path d="M213.5,803 A8.6,15 -30 1 1 221.5,805.5" fill="none" stroke="#2a2a2a" stroke-width="2.2" stroke-linejoin="round" stroke-linecap="round"/>
<path d="M213.5,803 A8.6,15 -30 1 1 221.5,805.5" fill="none" stroke="#fff" stroke-width="0.7" stroke-linejoin="round" stroke-linecap="round"/>
<ellipse cx="213.3" cy="801.5" rx="1.4" ry="1.4" fill="none" stroke="#2a2a2a" stroke-width="0.9"/>
<ellipse cx="222.2" cy="804.5" rx="1.4" ry="1.4" fill="none" stroke="#2a2a2a" stroke-width="0.9"/>
<ellipse cx="244.5" cy="775" rx="8.4" ry="14.5" fill="#fff" stroke="#2a2a2a" stroke-width="1.2" transform="rotate(-30 244.5 775)"/>
<polygon points="248.2,789.6 251.7,787.6 237.2,762.4 233.8,764.4" fill="#fff" stroke="none"/>
<line x1="248.2" y1="789.6" x2="251.7" y2="787.6" stroke="#2a2a2a" stroke-width="1.2"/>
<line x1="233.8" y1="764.4" x2="237.2" y2="762.4" stroke="#2a2a2a" stroke-width="1.2"/>
<ellipse cx="241" cy="777" rx="8.4" ry="14.5" fill="#fff" stroke="#2a2a2a" stroke-width="1.2" transform="rotate(-30 241 777)"/>
<ellipse cx="241" cy="777" rx="8.4" ry="14.5" fill="#fff" stroke="#2a2a2a" stroke-width="1.3" transform="rotate(-30 241 777)"/>
<ellipse cx="241" cy="777" rx="6.6" ry="11.5" fill="none" stroke="#2a2a2a" stroke-width="1.1" transform="rotate(-30 241 777)"/>
<ellipse cx="241.5" cy="777" rx="5" ry="8.6" fill="none" stroke="#222" stroke-width="2.8" transform="rotate(-30 241.5 777)"/>
<ellipse cx="241.5" cy="777" rx="3.5" ry="6" fill="#eee" stroke="#2a2a2a" stroke-width="1" transform="rotate(-30 241.5 777)"/>
<ellipse cx="242" cy="776.8" rx="2.3" ry="4" fill="#fff" stroke="#2a2a2a" stroke-width="0.9" transform="rotate(-30 242 776.8)"/>
<ellipse cx="260.5" cy="766.2" rx="7.8" ry="13.5" fill="#fff" stroke="#2a2a2a" stroke-width="1.2" transform="rotate(-30 260.5 766.2)"/>
<ellipse cx="260.5" cy="766.2" rx="6.1" ry="10.5" fill="#fff" stroke="#2a2a2a" stroke-width="1" transform="rotate(-30 260.5 766.2)"/>
<ellipse cx="281.7" cy="754.5" rx="8.7" ry="15" fill="#fff" stroke="#2a2a2a" stroke-width="1.2" transform="rotate(-30 281.7 754.5)"/>
<polygon points="284,770.5 289.2,767.5 274.2,741.5 269,744.5" fill="#fff" stroke="none"/>
<line x1="284" y1="770.5" x2="289.2" y2="767.5" stroke="#2a2a2a" stroke-width="1.2"/>
<line x1="269" y1="744.5" x2="274.2" y2="741.5" stroke="#2a2a2a" stroke-width="1.2"/>
<ellipse cx="276.5" cy="757.5" rx="8.7" ry="15" fill="#fff" stroke="#2a2a2a" stroke-width="1.2" transform="rotate(-30 276.5 757.5)"/>
<ellipse cx="276.5" cy="757.5" rx="8.7" ry="15" fill="#fff" stroke="#2a2a2a" stroke-width="1.4" transform="rotate(-30 276.5 757.5)"/>
<ellipse cx="276.5" cy="757.5" rx="6.4" ry="11.1" fill="none" stroke="#222" stroke-width="4.050000000000001" transform="rotate(-30 276.5 757.5)"/>
<ellipse cx="276.5" cy="757.5" rx="6.4" ry="11.1" transform="rotate(-30 276.5 757.5)" fill="none" stroke="#fff" stroke-width="2" stroke-dasharray="2 3.2"/>
<ellipse cx="276.5" cy="757.5" rx="3.9" ry="6.8" fill="#fff" stroke="#2a2a2a" stroke-width="1.1" transform="rotate(-30 276.5 757.5)"/>
<ellipse cx="452" cy="654.5" rx="3.2" ry="5.6" fill="#fff" stroke="#2a2a2a" stroke-width="1.05" transform="rotate(-30 452 654.5)"/>
<polygon points="309.3,743.3 454.8,659.3 449.2,649.7 303.7,733.7" fill="#fff" stroke="none"/>
<line x1="309.3" y1="743.3" x2="454.8" y2="659.3" stroke="#2a2a2a" stroke-width="1.05"/>
<line x1="303.7" y1="733.7" x2="449.2" y2="649.7" stroke="#2a2a2a" stroke-width="1.05"/>
<ellipse cx="306.5" cy="738.5" rx="3.2" ry="5.6" fill="#fff" stroke="#2a2a2a" stroke-width="1.05" transform="rotate(-30 306.5 738.5)"/>
<ellipse cx="306.5" cy="738.5" rx="3.2" ry="5.6" fill="#fff" stroke="#2a2a2a" stroke-width="1.1" transform="rotate(-30 306.5 738.5)"/>
<ellipse cx="306.8" cy="738.3" rx="1.5" ry="2.6" fill="none" stroke="#2a2a2a" stroke-width="0.9" transform="rotate(-30 306.8 738.3)"/>
<path d="M314.1,727.7 A3.2,5.6 -30 0 0 319.7,737.3" fill="none" stroke="#222" stroke-width="1.4" stroke-linejoin="round" stroke-linecap="round"/>
<path d="M315.4,726.9 A3.2,5.6 -30 0 0 321,736.6" fill="none" stroke="#222" stroke-width="1.4" stroke-linejoin="round" stroke-linecap="round"/>
<path d="M316.7,726.2 A3.2,5.6 -30 0 0 322.3,735.8" fill="none" stroke="#222" stroke-width="1.4" stroke-linejoin="round" stroke-linecap="round"/>
<path d="M318,725.4 A3.2,5.6 -30 0 0 323.6,735.1" fill="none" stroke="#222" stroke-width="1.4" stroke-linejoin="round" stroke-linecap="round"/>
<path d="M319.3,724.7 A3.2,5.6 -30 0 0 324.9,734.3" fill="none" stroke="#222" stroke-width="1.4" stroke-linejoin="round" stroke-linecap="round"/>
<path d="M320.6,723.9 A3.2,5.6 -30 0 0 326.2,733.6" fill="none" stroke="#222" stroke-width="1.4" stroke-linejoin="round" stroke-linecap="round"/>
<path d="M321.9,723.2 A3.2,5.6 -30 0 0 327.5,732.8" fill="none" stroke="#222" stroke-width="1.4" stroke-linejoin="round" stroke-linecap="round"/>
<path d="M329.7,718.7 A3.2,5.6 -30 0 0 335.3,728.3" fill="none" stroke="#2a2a2a" stroke-width="0.8" stroke-linejoin="round" stroke-linecap="round"/>
<path d="M348.7,707.7 A3.2,5.6 -30 0 0 354.3,717.3" fill="none" stroke="#2a2a2a" stroke-width="0.8" stroke-linejoin="round" stroke-linecap="round"/>
<path d="M365.9,697.3 A3.5,6 -30 0 0 371.9,707.7" fill="none" stroke="#222" stroke-width="1.2" stroke-linejoin="round" stroke-linecap="round"/>
<path d="M368,696.1 A3.5,6 -30 0 0 374,706.4" fill="none" stroke="#222" stroke-width="1.2" stroke-linejoin="round" stroke-linecap="round"/>
<ellipse cx="376.6" cy="698" rx="3.7" ry="6.4" fill="#fff" stroke="#2a2a2a" stroke-width="1" transform="rotate(-30 376.6 698)"/>
<polygon points="374.6,706.5 379.8,703.5 373.4,692.5 368.2,695.5" fill="#fff" stroke="none"/>
<line x1="374.6" y1="706.5" x2="379.8" y2="703.5" stroke="#2a2a2a" stroke-width="1"/>
<line x1="368.2" y1="695.5" x2="373.4" y2="692.5" stroke="#2a2a2a" stroke-width="1"/>
<ellipse cx="371.4" cy="701" rx="3.7" ry="6.4" fill="#fff" stroke="#2a2a2a" stroke-width="1" transform="rotate(-30 371.4 701)"/>
<path d="M430.1,660.7 A3.2,5.6 -30 0 0 435.7,670.3" fill="none" stroke="#222" stroke-width="1.4" stroke-linejoin="round" stroke-linecap="round"/>
<path d="M431.4,659.9 A3.2,5.6 -30 0 0 437,669.6" fill="none" stroke="#222" stroke-width="1.4" stroke-linejoin="round" stroke-linecap="round"/>
<path d="M432.7,659.2 A3.2,5.6 -30 0 0 438.3,668.8" fill="none" stroke="#222" stroke-width="1.4" stroke-linejoin="round" stroke-linecap="round"/>
<path d="M434,658.4 A3.2,5.6 -30 0 0 439.6,668.1" fill="none" stroke="#222" stroke-width="1.4" stroke-linejoin="round" stroke-linecap="round"/>
<path d="M435.3,657.7 A3.2,5.6 -30 0 0 440.9,667.3" fill="none" stroke="#222" stroke-width="1.4" stroke-linejoin="round" stroke-linecap="round"/>
<path d="M436.6,656.9 A3.2,5.6 -30 0 0 442.2,666.6" fill="none" stroke="#222" stroke-width="1.4" stroke-linejoin="round" stroke-linecap="round"/>
<path d="M437.9,656.2 A3.2,5.6 -30 0 0 443.5,665.8" fill="none" stroke="#222" stroke-width="1.4" stroke-linejoin="round" stroke-linecap="round"/>
<path d="M424.9,663.7 A3.2,5.6 -30 0 0 430.5,673.3" fill="none" stroke="#2a2a2a" stroke-width="0.8" stroke-linejoin="round" stroke-linecap="round"/>
<ellipse cx="479.4" cy="640" rx="4.9" ry="8.5" fill="#fff" stroke="#2a2a2a" stroke-width="1.05" transform="rotate(-30 479.4 640)"/>
<polygon points="476.8,651.4 483.7,647.4 475.2,632.6 468.2,636.6" fill="#fff" stroke="none"/>
<line x1="476.8" y1="651.4" x2="483.7" y2="647.4" stroke="#2a2a2a" stroke-width="1.05"/>
<line x1="468.2" y1="636.6" x2="475.2" y2="632.6" stroke="#2a2a2a" stroke-width="1.05"/>
<ellipse cx="472.5" cy="644" rx="4.9" ry="8.5" fill="#fff" stroke="#2a2a2a" stroke-width="1.05" transform="rotate(-30 472.5 644)"/>
<ellipse cx="472.5" cy="644" rx="4.9" ry="8.5" fill="#fff" stroke="#2a2a2a" stroke-width="1.2" transform="rotate(-30 472.5 644)"/>
<ellipse cx="473.2" cy="643.6" rx="4" ry="7" fill="none" stroke="#2a2a2a" stroke-width="0.9" transform="rotate(-30 473.2 643.6)"/>
<ellipse cx="472.4" cy="709.8" rx="4" ry="7" fill="#fff" stroke="#2a2a2a" stroke-width="1.2" transform="rotate(-30 472.4 709.8)"/>
<ellipse cx="472.4" cy="709.8" rx="1.5" ry="2.6" fill="#fff" stroke="#2a2a2a" stroke-width="1" transform="rotate(-30 472.4 709.8)"/>
<ellipse cx="488.2" cy="717.5" rx="5.5" ry="9.6" fill="#fff" stroke="#2a2a2a" stroke-width="1.3" transform="rotate(-30 488.2 717.5)"/>
<polygon points="490.8,727.1 493,725.9 483.4,709.2 481.2,710.5" fill="#fff" stroke="none"/>
<line x1="490.8" y1="727.1" x2="493" y2="725.9" stroke="#2a2a2a" stroke-width="1.3"/>
<line x1="481.2" y1="710.5" x2="483.4" y2="709.2" stroke="#2a2a2a" stroke-width="1.3"/>
<ellipse cx="486" cy="718.8" rx="5.5" ry="9.6" fill="#fff" stroke="#2a2a2a" stroke-width="1.3" transform="rotate(-30 486 718.8)"/>
<ellipse cx="486" cy="718.8" rx="5.5" ry="9.6" fill="#fff" stroke="#2a2a2a" stroke-width="1.6" transform="rotate(-30 486 718.8)"/>
<ellipse cx="486" cy="718.8" rx="4.2" ry="7.2" fill="none" stroke="#333" stroke-width="2.2" transform="rotate(-30 486 718.8)"/>
<ellipse cx="486.3" cy="718.7" rx="2.7" ry="4.6" fill="#fff" stroke="#2a2a2a" stroke-width="1" transform="rotate(-30 486.3 718.7)"/>
<ellipse cx="434.1" cy="732.4" rx="3.2" ry="5.6" fill="#fff" stroke="#2a2a2a" stroke-width="1.1" transform="rotate(-30 434.1 732.4)"/>
<ellipse cx="434.1" cy="732.4" rx="1" ry="1.8" fill="#fff" stroke="#2a2a2a" stroke-width="0.9" transform="rotate(-30 434.1 732.4)"/>
<ellipse cx="419" cy="741" rx="1.5" ry="2.6" fill="#fff" stroke="#2a2a2a" stroke-width="1" transform="rotate(-30 419 741)"/>
<polygon points="410.8,748.8 420.3,743.3 417.7,738.7 408.2,744.2" fill="#fff" stroke="none"/>
<line x1="410.8" y1="748.8" x2="420.3" y2="743.3" stroke="#2a2a2a" stroke-width="1"/>
<line x1="408.2" y1="744.2" x2="417.7" y2="738.7" stroke="#2a2a2a" stroke-width="1"/>
<ellipse cx="409.5" cy="746.5" rx="1.5" ry="2.6" fill="#fff" stroke="#2a2a2a" stroke-width="1" transform="rotate(-30 409.5 746.5)"/>
<ellipse cx="409.5" cy="746.5" rx="1.9" ry="3.3" fill="#fff" stroke="#2a2a2a" stroke-width="1.2" transform="rotate(-30 409.5 746.5)"/>
<ellipse cx="409.5" cy="746.5" rx="0.9" ry="1.6" fill="none" stroke="#2a2a2a" stroke-width="0.8" transform="rotate(-30 409.5 746.5)"/>
<path d="M446.2,715 L450.5,714.3 L461,722 L462.5,750 L467,758 L471,756.5 L471.5,763 L463.5,767.5 L458,769 L461,764.5 L466.5,761.5 L461,759 L457,750 L446.5,741 Z" fill="#fff" stroke="#2a2a2a" stroke-width="1.1" stroke-linejoin="round" stroke-linecap="round"/>
<path d="M448.5,717.5 L451,717 L459.5,723.5 L457.5,725.5 Z" fill="none" stroke="#2a2a2a" stroke-width="0.9" stroke-linejoin="round" stroke-linecap="round"/>
<ellipse cx="453.5" cy="738" rx="2.8" ry="4.8" fill="#fff" stroke="#2a2a2a" stroke-width="1.1" transform="rotate(-30 453.5 738)"/>
<line x1="458" y1="769" x2="456.5" y2="771.5" stroke="#2a2a2a" stroke-width="0.9"/>
<path d="M370,751 Q372,744.5 377.5,745.5 L383,752 L407,794 Q410,801 405,803.5 L398,802 L392,792 L388.5,786.5 Q386,782.5 385,788 L387.5,795 L391,797 L391,800 L385,802.5 L384.5,806.5 L382,806 L383,799.5 L380,795 L369.5,779 Z" fill="#fff" stroke="#2a2a2a" stroke-width="1.1" stroke-linejoin="round" stroke-linecap="round"/>
<path d="M373,753 Q374.5,748 378,749 L382,754 L404,793" fill="none" stroke="#2a2a2a" stroke-width="0.8" stroke-linejoin="round" stroke-linecap="round"/>
<path d="M373.5,761 Q372.5,758 375.5,757.5 L383,763 Q385,766 382,766.5 Z" fill="none" stroke="#2a2a2a" stroke-width="1" stroke-linejoin="round" stroke-linecap="round"/>
<rect x="375" y="775" width="5.8" height="8" rx="1" transform="rotate(-12 378 779)" fill="#ddd" stroke="#2a2a2a" stroke-width="1.2"/>
<ellipse cx="377" cy="751" rx="1.1" ry="1.4" fill="none" stroke="#2a2a2a" stroke-width="0.8"/>
<ellipse cx="398.5" cy="787" rx="1" ry="1.3" fill="none" stroke="#2a2a2a" stroke-width="0.8"/>
<ellipse cx="401" cy="794" rx="1" ry="1.3" fill="none" stroke="#2a2a2a" stroke-width="0.8"/>
<ellipse cx="346" cy="799" rx="6.1" ry="10.6" fill="#fff" stroke="#2a2a2a" stroke-width="1.2" transform="rotate(-30 346 799)"/>
<polygon points="348.3,809.9 351.3,808.1 340.7,789.8 337.7,791.5" fill="#fff" stroke="none"/>
<line x1="348.3" y1="809.9" x2="351.3" y2="808.1" stroke="#2a2a2a" stroke-width="1.2"/>
<line x1="337.7" y1="791.5" x2="340.7" y2="789.8" stroke="#2a2a2a" stroke-width="1.2"/>
<ellipse cx="343" cy="800.7" rx="6.1" ry="10.6" fill="#fff" stroke="#2a2a2a" stroke-width="1.2" transform="rotate(-30 343 800.7)"/>
<ellipse cx="343" cy="800.7" rx="6.1" ry="10.6" fill="#fff" stroke="#2a2a2a" stroke-width="1.5" transform="rotate(-30 343 800.7)"/>
<ellipse cx="343" cy="800.7" rx="5" ry="8.6" fill="none" stroke="#2a2a2a" stroke-width="1" transform="rotate(-30 343 800.7)"/>
<ellipse cx="343" cy="800.7" rx="1.7" ry="3" fill="#fff" stroke="#2a2a2a" stroke-width="1.1" transform="rotate(-30 343 800.7)"/>
<ellipse cx="343" cy="800.7" rx="0.8" ry="1.3" fill="#555" stroke="#2a2a2a" stroke-width="0.8" transform="rotate(-30 343 800.7)"/>
<path d="M339.5,810 Q339,820 346,826 L349,833 L352.5,838.5 L353.5,834.5 L350,829 Q356,822 357.5,826 L361,829 L366,826 L371.5,831.5 L372.5,829.5 L364,817 L354,803.5" fill="none" stroke="#2a2a2a" stroke-width="1" stroke-linejoin="round" stroke-linecap="round"/>
<path d="M343,811 Q343,818 348,822 L352,823 Q354,819.5 357,821" fill="none" stroke="#2a2a2a" stroke-width="0.9" stroke-linejoin="round" stroke-linecap="round"/>
<ellipse cx="352.5" cy="837.5" rx="0.9" ry="0.9" fill="none" stroke="#2a2a2a" stroke-width="0.8"/>
<ellipse cx="371" cy="830.5" rx="0.9" ry="0.9" fill="none" stroke="#2a2a2a" stroke-width="0.8"/>
<ellipse cx="308.2" cy="821.4" rx="5.9" ry="10.2" fill="#fff" stroke="#2a2a2a" stroke-width="1.1" transform="rotate(-30 308.2 821.4)"/>
<ellipse cx="308.2" cy="821.4" rx="0.9" ry="1.5" fill="none" stroke="#2a2a2a" stroke-width="0.8" transform="rotate(-30 308.2 821.4)"/>
<ellipse cx="299.2" cy="826.8" rx="1.3" ry="2.2" fill="#fff" stroke="#2a2a2a" stroke-width="0.9" transform="rotate(-30 299.2 826.8)"/>
<polygon points="291.6,833.7 300.3,828.7 298.1,824.9 289.4,829.9" fill="#fff" stroke="none"/>
<line x1="291.6" y1="833.7" x2="300.3" y2="828.7" stroke="#2a2a2a" stroke-width="0.9"/>
<line x1="289.4" y1="829.9" x2="298.1" y2="824.9" stroke="#2a2a2a" stroke-width="0.9"/>
<ellipse cx="290.5" cy="831.8" rx="1.3" ry="2.2" fill="#fff" stroke="#2a2a2a" stroke-width="0.9" transform="rotate(-30 290.5 831.8)"/>
<ellipse cx="290.1" cy="832" rx="2.1" ry="3.6" fill="#fff" stroke="#2a2a2a" stroke-width="1.1" transform="rotate(-30 290.1 832)"/>
<polygon points="289.3,836.6 291.9,835.1 288.3,828.9 285.7,830.4" fill="#fff" stroke="none"/>
<line x1="289.3" y1="836.6" x2="291.9" y2="835.1" stroke="#2a2a2a" stroke-width="1.1"/>
<line x1="285.7" y1="830.4" x2="288.3" y2="828.9" stroke="#2a2a2a" stroke-width="1.1"/>
<ellipse cx="287.5" cy="833.5" rx="2.1" ry="3.6" fill="#fff" stroke="#2a2a2a" stroke-width="1.1" transform="rotate(-30 287.5 833.5)"/>
<ellipse cx="287.5" cy="833.5" rx="2.1" ry="3.6" fill="#fff" stroke="#2a2a2a" stroke-width="1.4" transform="rotate(-30 287.5 833.5)"/>
<ellipse cx="287.5" cy="833.5" rx="0.9" ry="1.6" fill="#777" stroke="#2a2a2a" stroke-width="0.8" transform="rotate(-30 287.5 833.5)"/>
<line x1="391" y1="901.5" x2="396" y2="898.8" stroke="#2a2a2a" stroke-width="1"/>
<line x1="407" y1="892.8" x2="412" y2="890" stroke="#2a2a2a" stroke-width="1"/>
<ellipse cx="396.5" cy="898.9" rx="2.4" ry="4.6" fill="none" stroke="#222" stroke-width="1.1" transform="rotate(-30 396.5 898.9)"/>
<ellipse cx="398.2" cy="897.9" rx="2.4" ry="4.6" fill="none" stroke="#222" stroke-width="1.1" transform="rotate(-30 398.2 897.9)"/>
<ellipse cx="399.8" cy="897" rx="2.4" ry="4.6" fill="none" stroke="#222" stroke-width="1.1" transform="rotate(-30 399.8 897)"/>
<ellipse cx="401.5" cy="896" rx="2.4" ry="4.6" fill="none" stroke="#222" stroke-width="1.1" transform="rotate(-30 401.5 896)"/>
<ellipse cx="403.2" cy="895" rx="2.4" ry="4.6" fill="none" stroke="#222" stroke-width="1.1" transform="rotate(-30 403.2 895)"/>
<ellipse cx="404.8" cy="894.1" rx="2.4" ry="4.6" fill="none" stroke="#222" stroke-width="1.1" transform="rotate(-30 404.8 894.1)"/>
<ellipse cx="406.5" cy="893.1" rx="2.4" ry="4.6" fill="none" stroke="#222" stroke-width="1.1" transform="rotate(-30 406.5 893.1)"/>
<ellipse cx="474.2" cy="853.5" rx="10.7" ry="18.5" fill="#fff" stroke="#2a2a2a" stroke-width="1.1" transform="rotate(-30 474.2 853.5)"/>
<polygon points="459.2,883.5 483.5,869.5 465,837.5 440.7,851.5" fill="#fff" stroke="none"/>
<line x1="459.2" y1="883.5" x2="483.5" y2="869.5" stroke="#2a2a2a" stroke-width="1.1"/>
<line x1="440.7" y1="851.5" x2="465" y2="837.5" stroke="#2a2a2a" stroke-width="1.1"/>
<ellipse cx="450" cy="867.5" rx="10.7" ry="18.5" fill="#fff" stroke="#2a2a2a" stroke-width="1.1" transform="rotate(-30 450 867.5)"/>
<path d="M465,837.5 A10.7,18.5 -30 0 1 483.5,869.5" fill="none" stroke="#222" stroke-width="2" stroke-linejoin="round" stroke-linecap="round"/>
<ellipse cx="456.9" cy="863.5" rx="10.7" ry="18.5" fill="#fff" stroke="#2a2a2a" stroke-width="1" transform="rotate(-30 456.9 863.5)"/>
<ellipse cx="450" cy="867.5" rx="10.7" ry="18.5" fill="#fff" stroke="#2a2a2a" stroke-width="1.1" transform="rotate(-30 450 867.5)"/>
<line x1="443.5" y1="850.6" x2="450.4" y2="846.6" stroke="#2a2a2a" stroke-width="1"/>
<line x1="448.9" y1="851.8" x2="455.8" y2="847.8" stroke="#2a2a2a" stroke-width="1"/>
<line x1="454.5" y1="855.9" x2="461.4" y2="851.9" stroke="#2a2a2a" stroke-width="1"/>
<line x1="459.2" y1="862.2" x2="466.2" y2="858.2" stroke="#2a2a2a" stroke-width="1"/>
<line x1="462.3" y1="869.4" x2="469.2" y2="865.4" stroke="#2a2a2a" stroke-width="1"/>
<line x1="463" y1="876.3" x2="470" y2="872.3" stroke="#2a2a2a" stroke-width="1"/>
<line x1="461.3" y1="881.6" x2="468.3" y2="877.6" stroke="#2a2a2a" stroke-width="1"/>
<ellipse cx="447.4" cy="869" rx="9.5" ry="16.5" fill="#fff" stroke="#2a2a2a" stroke-width="1.4" transform="rotate(-30 447.4 869)"/>
<ellipse cx="447.7" cy="868.9" rx="8.4" ry="14.6" fill="none" stroke="#2a2a2a" stroke-width="0.9" transform="rotate(-30 447.7 868.9)"/>
<ellipse cx="446.6" cy="869.7" rx="6.2" ry="10.8" fill="none" stroke="#2a2a2a" stroke-width="1.1" transform="rotate(-30 446.6 869.7)"/>
<polygon points="533.2,732.8 535.6,729.4 541.8,728.4 556.7,732.8 556.7,731.3 562.5,728.4 570.1,732.3 570.1,740 575,751.5 582.6,760.1 594.2,765 599,766.9 599,776.5 592.2,779.4 580.7,782.2 568.2,783.7 560.5,782.2 550,774.6 544.2,765 541.3,758.2 540.4,747.7 540.4,737.1 534.6,735.2" fill="#fff" stroke="#2a2a2a" stroke-width="1.4" stroke-linejoin="round"/>
<polyline points="542.3,734.7 545.7,743.8 550,753.4 556.7,768.8 565.3,781.3" fill="none" stroke="#2a2a2a" stroke-width="1.6" stroke-linejoin="round"/>
<polyline points="547.1,733.7 548.1,742.9 552.4,752.5 558.6,766.9 567.3,779.4 578.8,777.4 592.2,772.6 599,769.8" fill="none" stroke="#2a2a2a" stroke-width="1.3" stroke-linejoin="round"/>
<polyline points="549,748.6 559.6,744.8 570.1,740.9" fill="none" stroke="#222" stroke-width="2" stroke-linejoin="round"/>
<polyline points="552.9,758.2 563.4,754.4 574,750.5" fill="none" stroke="#222" stroke-width="2" stroke-linejoin="round"/>
<polyline points="557.7,767.8 570.1,763.5 581.7,759.2" fill="none" stroke="#222" stroke-width="2" stroke-linejoin="round"/>
<polyline points="563.4,778.4 578.8,771.7 594.2,765" fill="none" stroke="#222" stroke-width="2" stroke-linejoin="round"/>
<polyline points="557.7,734.2 558.1,746.7 565.3,760.1 576.9,771.7 591.3,776.5" fill="none" stroke="#222" stroke-width="2" stroke-linejoin="round"/>
<polyline points="567.3,734.2 567.3,743.8 573,755.3 582.6,765 596.1,771.7" fill="none" stroke="#222" stroke-width="2" stroke-linejoin="round"/>
<polyline points="570.5,740 570.5,732.3" fill="none" stroke="#2a2a2a" stroke-width="1.2" stroke-linejoin="round"/>
<polyline points="556.7,732.8 557.2,740" fill="none" stroke="#2a2a2a" stroke-width="1.2" stroke-linejoin="round"/>
<polyline points="556.7,732.8 563.4,735.7 570.1,732.3" fill="none" stroke="#2a2a2a" stroke-width="1" stroke-linejoin="round"/>
<polyline points="563.5,735.7 563.5,742.9" fill="none" stroke="#2a2a2a" stroke-width="1" stroke-linejoin="round"/>
<ellipse cx="537.5" cy="731.8" rx="3.6" ry="1.8" fill="#fff" stroke="#2a2a2a" stroke-width="1.1"/>
<polyline points="599,768.8 592.5,771.7 592.5,779.4" fill="none" stroke="#2a2a2a" stroke-width="1" stroke-linejoin="round"/>
<rect x="536.6" y="746.5" width="2" height="9" fill="#fff" stroke="#2a2a2a" stroke-width="0.8"/>
<line x1="539.5" y1="722" x2="539.5" y2="730" stroke="#777" stroke-width="1"/>
<line x1="562.5" y1="722" x2="562.5" y2="731" stroke="#888" stroke-width="1.6"/>
<rect x="561.4" y="786" width="3.2" height="9" fill="#fff" stroke="#2a2a2a" stroke-width="0.9"/>
<ellipse cx="563" cy="795" rx="3.2" ry="1.5" fill="#fff" stroke="#2a2a2a" stroke-width="1"/>
<rect x="560.6" y="795" width="4.8" height="3.6" fill="#fff" stroke="#2a2a2a" stroke-width="1"/>
<ellipse cx="563" cy="798.6" rx="2.4" ry="1.2" fill="#fff" stroke="#2a2a2a" stroke-width="0.9"/>
<rect x="591.6" y="786" width="3.2" height="9" fill="#fff" stroke="#2a2a2a" stroke-width="0.9"/>
<ellipse cx="593.2" cy="795" rx="3.2" ry="1.5" fill="#fff" stroke="#2a2a2a" stroke-width="1"/>
<rect x="590.8000000000001" y="795" width="4.8" height="3.6" fill="#fff" stroke="#2a2a2a" stroke-width="1"/>
<ellipse cx="593.2" cy="798.6" rx="2.4" ry="1.2" fill="#fff" stroke="#2a2a2a" stroke-width="0.9"/>
<ellipse cx="646" cy="688.3" rx="3.2" ry="2" fill="#fff" stroke="#111" stroke-width="1.8"/>
<rect x="636.8" y="697" width="6.4" height="5.5" fill="#555" stroke="#222" stroke-width="1"/>
<ellipse cx="640" cy="702.5" rx="3.2" ry="1.6" fill="#555" stroke="#2a2a2a" stroke-width="1"/>
<ellipse cx="640" cy="697" rx="3.2" ry="1.7" fill="#ddd" stroke="#2a2a2a" stroke-width="1.1"/>
<ellipse cx="640" cy="697" rx="1.5" ry="0.8" fill="#333" stroke="#2a2a2a" stroke-width="0.7"/>
<rect x="649.0" y="704" width="6.4" height="5.5" fill="#555" stroke="#222" stroke-width="1"/>
<ellipse cx="652.2" cy="709.5" rx="3.2" ry="1.6" fill="#555" stroke="#2a2a2a" stroke-width="1"/>
<ellipse cx="652.2" cy="704" rx="3.2" ry="1.7" fill="#ddd" stroke="#2a2a2a" stroke-width="1.1"/>
<ellipse cx="652.2" cy="704" rx="1.5" ry="0.8" fill="#333" stroke="#2a2a2a" stroke-width="0.7"/>
<ellipse cx="646" cy="730.5" rx="15.5" ry="9" fill="none" stroke="#2a2a2a" stroke-width="1.5"/>
<ellipse cx="646" cy="730.5" rx="13.8" ry="7.8" fill="none" stroke="#2a2a2a" stroke-width="0.8"/>
<ellipse cx="646.7" cy="760" rx="8" ry="4" fill="#fff" stroke="#2a2a2a" stroke-width="1.1"/>
<rect x="638.7" y="754.5" width="16" height="5.5" fill="#fff" stroke="none"/>
<line x1="638.5" y1="754.5" x2="638.5" y2="760" stroke="#2a2a2a" stroke-width="1.1"/>
<line x1="654.5" y1="754.5" x2="654.5" y2="760" stroke="#2a2a2a" stroke-width="1.1"/>
<ellipse cx="646.7" cy="754.5" rx="8" ry="4" fill="#fff" stroke="#2a2a2a" stroke-width="1.1"/>
<ellipse cx="646.7" cy="754.5" rx="5.2" ry="2.5" fill="#fff" stroke="#2a2a2a" stroke-width="1"/>
<path d="M641.7,754.5 L651.7,754.5 M644,752.5 L649.5,756.5 M649.5,752.5 L644,756.5" fill="none" stroke="#2a2a2a" stroke-width="0.7" stroke-linejoin="round" stroke-linecap="round"/>
<path d="M624.5,804 L631,792 Q634,786 646,785 Q660,785 664.5,791.5 L666.5,795.5 L666,803.5 Q661,813 645,816 L638,817.5 L632.5,817 L623.5,811.5 Z" fill="#fff" stroke="#2a2a2a" stroke-width="1.2" stroke-linejoin="round" stroke-linecap="round"/>
<ellipse cx="647" cy="796.5" rx="17.5" ry="10" fill="#fff" stroke="#2a2a2a" stroke-width="1.1"/>
<ellipse cx="647" cy="794.5" rx="17.5" ry="10" fill="#fff" stroke="#2a2a2a" stroke-width="1.1"/>
<ellipse cx="647" cy="795" rx="7.8" ry="4.4" fill="#fff" stroke="#2a2a2a" stroke-width="1.1"/>
<path d="M640,796 Q647,800.5 654,796" fill="none" stroke="#2a2a2a" stroke-width="0.8" stroke-linejoin="round" stroke-linecap="round"/>
<path d="M624.5,804 L633,808.5 L640,808 Q655,806 664.5,797" fill="none" stroke="#2a2a2a" stroke-width="1" stroke-linejoin="round" stroke-linecap="round"/>
<line x1="633" y1="808.5" x2="632.5" y2="817" stroke="#2a2a2a" stroke-width="0.9"/>
<ellipse cx="629.5" cy="808.5" rx="1.2" ry="0.9" fill="none" stroke="#2a2a2a" stroke-width="0.8"/>
<rect x="631.0" y="826" width="3.2" height="8" fill="#fff" stroke="#2a2a2a" stroke-width="0.9"/>
<ellipse cx="632.6" cy="834" rx="3.2" ry="1.5" fill="#fff" stroke="#2a2a2a" stroke-width="1"/>
<rect x="630.2" y="834" width="4.8" height="3.6" fill="#fff" stroke="#2a2a2a" stroke-width="1"/>
<ellipse cx="632.6" cy="837.6" rx="2.4" ry="1.2" fill="#fff" stroke="#2a2a2a" stroke-width="0.9"/>
<rect x="658.4" y="811" width="3.2" height="8" fill="#fff" stroke="#2a2a2a" stroke-width="0.9"/>
<ellipse cx="660" cy="819" rx="3.2" ry="1.5" fill="#fff" stroke="#2a2a2a" stroke-width="1"/>
<rect x="657.6" y="819" width="4.8" height="3.6" fill="#fff" stroke="#2a2a2a" stroke-width="1"/>
<ellipse cx="660" cy="822.6" rx="2.4" ry="1.2" fill="#fff" stroke="#2a2a2a" stroke-width="0.9"/>
<line x1="975" y1="354" x2="1001.9" y2="339.1" stroke="#2a2a2a" stroke-width="1.05" stroke-dasharray="17 2.5 4 2.5"/>
<line x1="1003" y1="368.3" x2="1033.5" y2="347.2" stroke="#2a2a2a" stroke-width="1.05" stroke-dasharray="17 2.5 4 2.5"/>
<line x1="1013" y1="395.9" x2="1045.6" y2="377.1" stroke="#2a2a2a" stroke-width="1.05" stroke-dasharray="17 2.5 4 2.5"/>
<line x1="1033" y1="403.4" x2="1072.3" y2="380.3" stroke="#2a2a2a" stroke-width="1.05" stroke-dasharray="17 2.5 4 2.5"/>
<line x1="1030" y1="408" x2="1044.7" y2="399.5" stroke="#2a2a2a" stroke-width="1.05" stroke-dasharray="17 2.5 4 2.5"/>
<line x1="623.5" y1="540" x2="623.5" y2="589" stroke="#2a2a2a" stroke-width="1.05" stroke-dasharray="17 2.5 4 2.5"/>
<line x1="647.5" y1="560" x2="647.5" y2="597" stroke="#2a2a2a" stroke-width="1.05" stroke-dasharray="17 2.5 4 2.5"/>
<line x1="646.5" y1="146" x2="646.5" y2="168" stroke="#2a2a2a" stroke-width="0.9"/>
<line x1="646.5" y1="200" x2="646.5" y2="219" stroke="#2a2a2a" stroke-width="0.9"/>
<text transform="scale(1.22,1)" x="621.7 628.5 635.3" y="133.9" font-size="11.3" text-anchor="middle" font-family="Liberation Sans, sans-serif" fill="#444">207</text>
<line x1="747.5" y1="136.5" x2="782.5" y2="136.5" stroke="#2a2a2a" stroke-width="1"/>
<polyline points="747.5,136.5 704,164" fill="none" stroke="#2a2a2a" stroke-width="1" stroke-linejoin="round"/>
<polygon points="704,164 709,158.8 710.8,161.7" fill="#222" stroke="none"/>
<text transform="scale(1.22,1)" x="579.6 586.4" y="281.9" font-size="11.3" text-anchor="middle" font-family="Liberation Sans, sans-serif" fill="#444">57</text>
<line x1="695" y1="284.5" x2="724" y2="284.5" stroke="#2a2a2a" stroke-width="1"/>
<polyline points="695,284.5 659.5,282.5" fill="none" stroke="#2a2a2a" stroke-width="1" stroke-linejoin="round"/>
<polygon points="659.5,282.5 666.6,281.2 666.4,284.6" fill="#222" stroke="none"/>
<text transform="scale(1.22,1)" x="480.5 487.3" y="315.9" font-size="11.3" text-anchor="middle" font-family="Liberation Sans, sans-serif" fill="#444">56</text>
<line x1="571" y1="318.5" x2="606" y2="318.5" stroke="#2a2a2a" stroke-width="1"/>
<polyline points="606,318.5 635,309" fill="none" stroke="#2a2a2a" stroke-width="1" stroke-linejoin="round"/>
<polygon points="635,309 628.9,312.8 627.8,309.6" fill="#222" stroke="none"/>
<text transform="scale(1.22,1)" x="600.1 606.9" y="312.9" font-size="11.3" text-anchor="middle" font-family="Liberation Sans, sans-serif" fill="#444">55</text>
<line x1="720" y1="315.5" x2="749" y2="315.5" stroke="#2a2a2a" stroke-width="1"/>
<polyline points="720,315.5 658,325" fill="none" stroke="#2a2a2a" stroke-width="1" stroke-linejoin="round"/>
<polygon points="658,325 664.7,322.3 665.2,325.6" fill="#222" stroke="none"/>
<text transform="scale(1.22,1)" x="823.7 830.5" y="254.9" font-size="11.3" text-anchor="middle" font-family="Liberation Sans, sans-serif" fill="#444">11</text>
<line x1="990.5" y1="257.5" x2="1024" y2="257.5" stroke="#2a2a2a" stroke-width="1"/>
<polyline points="1024,257.5 1055,297.5" fill="none" stroke="#2a2a2a" stroke-width="1" stroke-linejoin="round"/>
<polygon points="1055,297.5 1049.4,293 1052.1,290.9" fill="#222" stroke="none"/>
<text transform="scale(1.22,1)" x="988.9 995.7 1002.5" y="213.9" font-size="11.3" text-anchor="middle" font-family="Liberation Sans, sans-serif" fill="#444">103</text>
<line x1="1196" y1="216.5" x2="1230" y2="216.5" stroke="#2a2a2a" stroke-width="1"/>
<polyline points="1230,216.5 1255,270" fill="none" stroke="#2a2a2a" stroke-width="1" stroke-linejoin="round"/>
<polygon points="1255,270 1250.5,264.4 1253.6,262.9" fill="#222" stroke="none"/>
<text transform="scale(1.22,1)" x="959.2 966 972.8" y="239.9" font-size="11.3" text-anchor="middle" font-family="Liberation Sans, sans-serif" fill="#444">102</text>
<line x1="1159.5" y1="242.5" x2="1194" y2="242.5" stroke="#2a2a2a" stroke-width="1"/>
<polyline points="1194,242.5 1226,261" fill="none" stroke="#2a2a2a" stroke-width="1" stroke-linejoin="round"/>
<polygon points="1226,261 1219.1,259 1220.8,256" fill="#222" stroke="none"/>
<text transform="scale(1.22,1)" x="949.4" y="408.9" font-size="11.3" text-anchor="middle" font-family="Liberation Sans, sans-serif" fill="#444">2</text>
<line x1="1139" y1="411.5" x2="1174" y2="411.5" stroke="#2a2a2a" stroke-width="1"/>
<polyline points="1139,411.5 1105,423" fill="none" stroke="#2a2a2a" stroke-width="1" stroke-linejoin="round"/>
<polygon points="1105,423 1111.1,419.1 1112.2,422.4" fill="#222" stroke="none"/>
<text transform="scale(1.22,1)" x="795.2 802" y="408.9" font-size="11.3" text-anchor="middle" font-family="Liberation Sans, sans-serif" fill="#444">10</text>
<line x1="955" y1="411.5" x2="990" y2="411.5" stroke="#2a2a2a" stroke-width="1"/>
<polyline points="955,411.5 952.5,446.5" fill="none" stroke="#2a2a2a" stroke-width="1" stroke-linejoin="round"/>
<polygon points="952.5,446.5 951.3,439.4 954.7,439.6" fill="#222" stroke="none"/>
<text transform="scale(1.22,1)" x="829.4 836.2" y="447.9" font-size="11.3" text-anchor="middle" font-family="Liberation Sans, sans-serif" fill="#444">10</text>
<line x1="996.4" y1="450.5" x2="1032" y2="450.5" stroke="#2a2a2a" stroke-width="1"/>
<polyline points="996.4,450.5 983.9,440.8" fill="none" stroke="#2a2a2a" stroke-width="1" stroke-linejoin="round"/>
<polygon points="983.9,440.8 990.5,443.7 988.4,446.4" fill="#222" stroke="none"/>
<text transform="scale(1.22,1)" x="792.5 799.3" y="480.9" font-size="11.3" text-anchor="middle" font-family="Liberation Sans, sans-serif" fill="#444">10</text>
<line x1="951.3" y1="483.5" x2="987" y2="483.5" stroke="#2a2a2a" stroke-width="1"/>
<polyline points="951.3,483.5 936,469" fill="none" stroke="#2a2a2a" stroke-width="1" stroke-linejoin="round"/>
<polygon points="936,469 942.3,472.6 939.9,475" fill="#222" stroke="none"/>
<text transform="scale(1.22,1)" x="742.6 749.4" y="297.9" font-size="11.3" text-anchor="middle" font-family="Liberation Sans, sans-serif" fill="#444">93</text>
<line x1="891" y1="300.5" x2="925.6" y2="300.5" stroke="#2a2a2a" stroke-width="1"/>
<polyline points="925.6,300.5 941.9,356" fill="none" stroke="#2a2a2a" stroke-width="1" stroke-linejoin="round"/>
<polygon points="941.9,356 938.3,349.8 941.6,348.8" fill="#222" stroke="none"/>
<text transform="scale(1.22,1)" x="723 729.8" y="322.9" font-size="11.3" text-anchor="middle" font-family="Liberation Sans, sans-serif" fill="#444">92</text>
<line x1="867.3" y1="325.5" x2="901.6" y2="325.5" stroke="#2a2a2a" stroke-width="1"/>
<polyline points="901.6,325.5 917.1,374.7" fill="none" stroke="#2a2a2a" stroke-width="1" stroke-linejoin="round"/>
<polygon points="917.1,374.7 913.4,368.5 916.6,367.5" fill="#222" stroke="none"/>
<text transform="scale(1.22,1)" x="673.5 680.3" y="340.9" font-size="11.3" text-anchor="middle" font-family="Liberation Sans, sans-serif" fill="#444">91</text>
<line x1="806.5" y1="343.5" x2="841.6" y2="343.5" stroke="#2a2a2a" stroke-width="1"/>
<polyline points="841.6,343.5 853.8,376.6" fill="none" stroke="#2a2a2a" stroke-width="1" stroke-linejoin="round"/>
<polygon points="853.8,376.6 849.8,370.6 853,369.4" fill="#222" stroke="none"/>
<text transform="scale(1.22,1)" x="664.4 671.2" y="383.9" font-size="11.3" text-anchor="middle" font-family="Liberation Sans, sans-serif" fill="#444">80</text>
<line x1="795.5" y1="386.5" x2="830.3" y2="386.5" stroke="#2a2a2a" stroke-width="1"/>
<polyline points="830.3,386.5 830.5,451.6" fill="none" stroke="#2a2a2a" stroke-width="1" stroke-linejoin="round"/>
<polygon points="830.5,451.6 828.8,444.6 832.2,444.6" fill="#222" stroke="none"/>
<text transform="scale(1.22,1)" x="635.2 642" y="397.9" font-size="11.3" text-anchor="middle" font-family="Liberation Sans, sans-serif" fill="#444">83</text>
<line x1="760" y1="400.5" x2="794.5" y2="400.5" stroke="#2a2a2a" stroke-width="1"/>
<polyline points="794.5,400.5 800.3,473.5" fill="none" stroke="#2a2a2a" stroke-width="1" stroke-linejoin="round"/>
<polygon points="800.3,473.5 798.1,466.7 801.4,466.4" fill="#222" stroke="none"/>
<text transform="scale(1.22,1)" x="607.5 614.3" y="434.9" font-size="11.3" text-anchor="middle" font-family="Liberation Sans, sans-serif" fill="#444">82</text>
<line x1="726.6" y1="437.5" x2="760.5" y2="437.5" stroke="#2a2a2a" stroke-width="1"/>
<polyline points="760.5,437.5 769.3,487" fill="none" stroke="#2a2a2a" stroke-width="1" stroke-linejoin="round"/>
<polygon points="769.3,487 766.4,480.4 769.7,479.8" fill="#222" stroke="none"/>
<text transform="scale(1.22,1)" x="577.3 584.1" y="457.9" font-size="11.3" text-anchor="middle" font-family="Liberation Sans, sans-serif" fill="#444">81</text>
<line x1="689.3" y1="460.5" x2="724" y2="460.5" stroke="#2a2a2a" stroke-width="1"/>
<polyline points="724,460.5 717.6,498" fill="none" stroke="#2a2a2a" stroke-width="1" stroke-linejoin="round"/>
<polygon points="717.6,498 717.1,490.8 720.5,491.4" fill="#222" stroke="none"/>
<text transform="scale(1.22,1)" x="703.2 710 716.8" y="468.9" font-size="11.3" text-anchor="middle" font-family="Liberation Sans, sans-serif" fill="#444">101</text>
<line x1="847.4" y1="471.5" x2="881.3" y2="471.5" stroke="#2a2a2a" stroke-width="1"/>
<polyline points="881.3,471.5 886.7,484.4" fill="none" stroke="#2a2a2a" stroke-width="1" stroke-linejoin="round"/>
<polygon points="886.7,484.4 882.4,478.6 885.6,477.3" fill="#222" stroke="none"/>
<text transform="scale(1.22,1)" x="766 772.8" y="550.9" font-size="11.3" text-anchor="middle" font-family="Liberation Sans, sans-serif" fill="#444">40</text>
<line x1="919.3" y1="553.5" x2="954.4" y2="553.5" stroke="#2a2a2a" stroke-width="1"/>
<polyline points="919.3,553.5 900,543" fill="none" stroke="#2a2a2a" stroke-width="1" stroke-linejoin="round"/>
<polygon points="900,543 907,544.9 905.3,547.8" fill="#222" stroke="none"/>
<text transform="scale(1.22,1)" x="751 757.8" y="586.9" font-size="11.3" text-anchor="middle" font-family="Liberation Sans, sans-serif" fill="#444">65</text>
<line x1="901.6" y1="589.5" x2="935.5" y2="589.5" stroke="#2a2a2a" stroke-width="1"/>
<polyline points="901.6,589.5 886.3,607.2" fill="none" stroke="#2a2a2a" stroke-width="1" stroke-linejoin="round"/>
<polygon points="886.3,607.2 889.6,600.8 892.2,603" fill="#222" stroke="none"/>
<text transform="scale(1.22,1)" x="658.8 665.6" y="695.9" font-size="11.3" text-anchor="middle" font-family="Liberation Sans, sans-serif" fill="#444">69</text>
<line x1="789.2" y1="698.5" x2="822.9" y2="698.5" stroke="#2a2a2a" stroke-width="1"/>
<polyline points="822.9,698.5 852.4,673.5" fill="none" stroke="#2a2a2a" stroke-width="1" stroke-linejoin="round"/>
<polygon points="852.4,673.5 848.2,679.3 846,676.7" fill="#222" stroke="none"/>
<text transform="scale(1.22,1)" x="619 625.8" y="598.9" font-size="11.3" text-anchor="middle" font-family="Liberation Sans, sans-serif" fill="#444">10</text>
<line x1="740.3" y1="601.5" x2="774.8" y2="601.5" stroke="#2a2a2a" stroke-width="1"/>
<polyline points="774.8,601.5 790.9,552.9" fill="none" stroke="#2a2a2a" stroke-width="1" stroke-linejoin="round"/>
<polygon points="790.9,552.9 790.3,560.1 787.1,559" fill="#222" stroke="none"/>
<text transform="scale(1.22,1)" x="634 640.8 647.6" y="624.9" font-size="11.3" text-anchor="middle" font-family="Liberation Sans, sans-serif" fill="#444">100</text>
<line x1="762.8" y1="627.5" x2="797.2" y2="627.5" stroke="#2a2a2a" stroke-width="1"/>
<polyline points="797.2,627.5 811.9,541.6" fill="none" stroke="#2a2a2a" stroke-width="1" stroke-linejoin="round"/>
<polygon points="811.9,541.6 812.4,548.8 809,548.2" fill="#222" stroke="none"/>
<text transform="scale(1.22,1)" x="595.9 602.7" y="561.9" font-size="11.3" text-anchor="middle" font-family="Liberation Sans, sans-serif" fill="#444">80</text>
<line x1="712.1" y1="564.5" x2="746.6" y2="564.5" stroke="#2a2a2a" stroke-width="1"/>
<polyline points="712.1,564.5 704.2,547.4" fill="none" stroke="#2a2a2a" stroke-width="1" stroke-linejoin="round"/>
<polygon points="704.2,547.4 708.7,553 705.6,554.5" fill="#222" stroke="none"/>
<text transform="scale(1.22,1)" x="590 596.8 603.6" y="689.9" font-size="11.3" text-anchor="middle" font-family="Liberation Sans, sans-serif" fill="#444">130</text>
<line x1="707" y1="692.5" x2="745.7" y2="692.5" stroke="#2a2a2a" stroke-width="1"/>
<polyline points="707,692.5 658.3,704.3" fill="none" stroke="#2a2a2a" stroke-width="1" stroke-linejoin="round"/>
<polygon points="658.3,704.3 664.7,701 665.5,704.3" fill="#222" stroke="none"/>
<text transform="scale(1.22,1)" x="483 489.8 496.6" y="708.9" font-size="11.3" text-anchor="middle" font-family="Liberation Sans, sans-serif" fill="#444">130</text>
<line x1="578" y1="711.5" x2="613.6" y2="711.5" stroke="#2a2a2a" stroke-width="1"/>
<polyline points="613.6,711.5 635.5,701.5" fill="none" stroke="#2a2a2a" stroke-width="1" stroke-linejoin="round"/>
<polygon points="635.5,701.5 629.8,706 628.4,702.9" fill="#222" stroke="none"/>
<text transform="scale(1.22,1)" x="473.2 480 486.8" y="689.9" font-size="11.3" text-anchor="middle" font-family="Liberation Sans, sans-serif" fill="#444">157</text>
<line x1="567.5" y1="692.5" x2="600" y2="692.5" stroke="#2a2a2a" stroke-width="1"/>
<polyline points="600,692.5 640,688.6" fill="none" stroke="#2a2a2a" stroke-width="1" stroke-linejoin="round"/>
<polygon points="640,688.6 633.2,691 632.9,687.6" fill="#222" stroke="none"/>
<text transform="scale(1.22,1)" x="934.3 941.1" y="632.9" font-size="11.3" text-anchor="middle" font-family="Liberation Sans, sans-serif" fill="#444">70</text>
<line x1="1124.6" y1="635.5" x2="1159.9" y2="635.5" stroke="#2a2a2a" stroke-width="1"/>
<polyline points="1124.6,635.5 1120.6,613.1" fill="none" stroke="#2a2a2a" stroke-width="1" stroke-linejoin="round"/>
<polygon points="1120.6,613.1 1123.5,619.7 1120.2,620.3" fill="#222" stroke="none"/>
<text transform="scale(1.22,1)" x="940.9 947.7" y="666.9" font-size="11.3" text-anchor="middle" font-family="Liberation Sans, sans-serif" fill="#444">71</text>
<line x1="1132.6" y1="669.5" x2="1167.9" y2="669.5" stroke="#2a2a2a" stroke-width="1"/>
<polyline points="1132.6,669.5 1102,617.1" fill="none" stroke="#2a2a2a" stroke-width="1" stroke-linejoin="round"/>
<polygon points="1102,617.1 1107,622.3 1104.1,624" fill="#222" stroke="none"/>
<text transform="scale(1.22,1)" x="908 914.8" y="676.9" font-size="11.3" text-anchor="middle" font-family="Liberation Sans, sans-serif" fill="#444">72</text>
<line x1="1092.2" y1="679.5" x2="1128" y2="679.5" stroke="#2a2a2a" stroke-width="1"/>
<polyline points="1092.2,679.5 1085.6,637" fill="none" stroke="#2a2a2a" stroke-width="1" stroke-linejoin="round"/>
<polygon points="1085.6,637 1088.4,643.7 1085,644.2" fill="#222" stroke="none"/>
<text transform="scale(1.22,1)" x="879.6 886.4" y="700.9" font-size="11.3" text-anchor="middle" font-family="Liberation Sans, sans-serif" fill="#444">74</text>
<line x1="1058.2" y1="703.5" x2="1092.7" y2="703.5" stroke="#2a2a2a" stroke-width="1"/>
<polyline points="1058.2,703.5 1056.3,650.3" fill="none" stroke="#2a2a2a" stroke-width="1" stroke-linejoin="round"/>
<polygon points="1056.3,650.3 1058.2,657.2 1054.9,657.4" fill="#222" stroke="none"/>
<text transform="scale(1.22,1)" x="854.4 861.2" y="718.9" font-size="11.3" text-anchor="middle" font-family="Liberation Sans, sans-serif" fill="#444">73</text>
<line x1="1027.2" y1="721.5" x2="1062.3" y2="721.5" stroke="#2a2a2a" stroke-width="1"/>
<polyline points="1027.2,721.5 1013,672.9" fill="none" stroke="#2a2a2a" stroke-width="1" stroke-linejoin="round"/>
<polygon points="1013,672.9 1016.6,679.1 1013.3,680.1" fill="#222" stroke="none"/>
<text transform="scale(1.22,1)" x="849.2 856 862.8" y="874.9" font-size="11.3" text-anchor="middle" font-family="Liberation Sans, sans-serif" fill="#444">201</text>
<line x1="1025" y1="877.5" x2="1060" y2="877.5" stroke="#2a2a2a" stroke-width="1"/>
<polyline points="1025,877.5 1002,849.5" fill="none" stroke="#2a2a2a" stroke-width="1" stroke-linejoin="round"/>
<polygon points="1002,849.5 1007.8,853.8 1005.1,856" fill="#222" stroke="none"/>
<text transform="scale(1.22,1)" x="619 625.8 632.6" y="898.9" font-size="11.3" text-anchor="middle" font-family="Liberation Sans, sans-serif" fill="#444">202</text>
<line x1="744.3" y1="901.5" x2="779.1" y2="901.5" stroke="#2a2a2a" stroke-width="1"/>
<polyline points="779.1,901.5 812.9,872.8" fill="none" stroke="#2a2a2a" stroke-width="1" stroke-linejoin="round"/>
<polygon points="812.9,872.8 808.7,878.6 806.5,876" fill="#222" stroke="none"/>
<text transform="scale(1.22,1)" x="595.9 602.7" y="749.9" font-size="11.3" text-anchor="middle" font-family="Liberation Sans, sans-serif" fill="#444">64</text>
<line x1="712.1" y1="752.5" x2="746.7" y2="752.5" stroke="#2a2a2a" stroke-width="1"/>
<polyline points="746.7,752.5 757.8,790" fill="none" stroke="#2a2a2a" stroke-width="1" stroke-linejoin="round"/>
<polygon points="757.8,790 754.2,783.8 757.4,782.8" fill="#222" stroke="none"/>
<text transform="scale(1.22,1)" x="610.4 617.2" y="878.9" font-size="11.3" text-anchor="middle" font-family="Liberation Sans, sans-serif" fill="#444">60</text>
<line x1="729.4" y1="881.5" x2="764.6" y2="881.5" stroke="#2a2a2a" stroke-width="1"/>
<polyline points="729.4,881.5 730.2,846.6" fill="none" stroke="#2a2a2a" stroke-width="1" stroke-linejoin="round"/>
<polygon points="730.2,846.6 731.7,853.6 728.3,853.6" fill="#222" stroke="none"/>
<text transform="scale(1.22,1)" x="539 545.8 552.6" y="876.9" font-size="11.3" text-anchor="middle" font-family="Liberation Sans, sans-serif" fill="#444">203</text>
<line x1="647" y1="879.5" x2="681.2" y2="879.5" stroke="#2a2a2a" stroke-width="1"/>
<polyline points="647,879.5 645,847.5" fill="none" stroke="#2a2a2a" stroke-width="1" stroke-linejoin="round"/>
<polygon points="645,847.5 647.1,854.4 643.7,854.6" fill="#222" stroke="none"/>
<text transform="scale(1.22,1)" x="412.2 419 425.8" y="790.9" font-size="11.3" text-anchor="middle" font-family="Liberation Sans, sans-serif" fill="#444">105</text>
<line x1="492.5" y1="793.5" x2="526.2" y2="793.5" stroke="#2a2a2a" stroke-width="1"/>
<polyline points="526.2,793.5 537.5,759" fill="none" stroke="#2a2a2a" stroke-width="1" stroke-linejoin="round"/>
<polygon points="537.5,759 536.9,766.2 533.7,765.1" fill="#222" stroke="none"/>
<text transform="scale(1.22,1)" x="437.6 444.4 451.2" y="825.9" font-size="11.3" text-anchor="middle" font-family="Liberation Sans, sans-serif" fill="#444">105</text>
<line x1="523.2" y1="828.5" x2="557.5" y2="828.5" stroke="#2a2a2a" stroke-width="1"/>
<polyline points="557.5,828.5 562.5,802.5" fill="none" stroke="#2a2a2a" stroke-width="1" stroke-linejoin="round"/>
<polygon points="562.5,802.5 562.8,809.7 559.5,809.1" fill="#222" stroke="none"/>
<text transform="scale(1.22,1)" x="448.9 455.7 462.5" y="860.9" font-size="11.3" text-anchor="middle" font-family="Liberation Sans, sans-serif" fill="#444">106</text>
<line x1="537" y1="863.5" x2="571.2" y2="863.5" stroke="#2a2a2a" stroke-width="1"/>
<polyline points="571.2,863.5 580,785" fill="none" stroke="#2a2a2a" stroke-width="1" stroke-linejoin="round"/>
<polygon points="580,785 580.9,792.1 577.5,791.8" fill="#222" stroke="none"/>
<text transform="scale(1.22,1)" x="462.8 469.6 476.4" y="898.9" font-size="11.3" text-anchor="middle" font-family="Liberation Sans, sans-serif" fill="#444">105</text>
<line x1="554.2" y1="901.5" x2="588" y2="901.5" stroke="#2a2a2a" stroke-width="1"/>
<polyline points="588,901.5 593.2,803.8" fill="none" stroke="#2a2a2a" stroke-width="1" stroke-linejoin="round"/>
<polygon points="593.2,803.8 594.6,810.8 591.2,810.6" fill="#222" stroke="none"/>
<text transform="scale(1.22,1)" x="384.1 390.9" y="909.9" font-size="11.3" text-anchor="middle" font-family="Liberation Sans, sans-serif" fill="#444">23</text>
<line x1="454" y1="912.5" x2="488" y2="912.5" stroke="#2a2a2a" stroke-width="1"/>
<polyline points="454,912.5 454.8,887" fill="none" stroke="#2a2a2a" stroke-width="1" stroke-linejoin="round"/>
<polygon points="454.8,887 456.3,894 452.9,893.9" fill="#222" stroke="none"/>
<text transform="scale(1.22,1)" x="338.8 345.6 352.4" y="924.9" font-size="11.3" text-anchor="middle" font-family="Liberation Sans, sans-serif" fill="#444">147</text>
<line x1="402.5" y1="927.5" x2="437.1" y2="927.5" stroke="#2a2a2a" stroke-width="1"/>
<polyline points="402.5,927.5 402,903.5" fill="none" stroke="#2a2a2a" stroke-width="1" stroke-linejoin="round"/>
<polygon points="402,903.5 403.8,910.5 400.4,910.5" fill="#222" stroke="none"/>
<text transform="scale(1.22,1)" x="258.8 265.6 272.4" y="905.9" font-size="11.3" text-anchor="middle" font-family="Liberation Sans, sans-serif" fill="#444">211</text>
<line x1="305.2" y1="908.5" x2="339.3" y2="908.5" stroke="#2a2a2a" stroke-width="1"/>
<polyline points="339.3,908.5 325.9,861.3" fill="none" stroke="#2a2a2a" stroke-width="1" stroke-linejoin="round"/>
<polygon points="325.9,861.3 329.4,867.6 326.2,868.5" fill="#222" stroke="none"/>
<text transform="scale(1.22,1)" x="343.4 350.2" y="706.9" font-size="11.3" text-anchor="middle" font-family="Liberation Sans, sans-serif" fill="#444">45</text>
<line x1="404" y1="709.5" x2="438.7" y2="709.5" stroke="#2a2a2a" stroke-width="1"/>
<polyline points="438.7,709.5 435.5,728" fill="none" stroke="#2a2a2a" stroke-width="1" stroke-linejoin="round"/>
<polygon points="435.5,728 435,720.8 438.4,721.4" fill="#222" stroke="none"/>
<text transform="scale(1.22,1)" x="314.1 320.9 327.7" y="723.9" font-size="11.3" text-anchor="middle" font-family="Liberation Sans, sans-serif" fill="#444">142</text>
<line x1="372.5" y1="726.5" x2="407" y2="726.5" stroke="#2a2a2a" stroke-width="1"/>
<polyline points="407,726.5 414,739.8" fill="none" stroke="#2a2a2a" stroke-width="1" stroke-linejoin="round"/>
<polygon points="414,739.8 409.2,734.4 412.2,732.8" fill="#222" stroke="none"/>
<text transform="scale(1.22,1)" x="372 378.8 385.6" y="681.9" font-size="11.3" text-anchor="middle" font-family="Liberation Sans, sans-serif" fill="#444">140</text>
<line x1="443.3" y1="684.5" x2="477.3" y2="684.5" stroke="#2a2a2a" stroke-width="1"/>
<polyline points="477.3,684.5 473.1,705" fill="none" stroke="#2a2a2a" stroke-width="1" stroke-linejoin="round"/>
<polygon points="473.1,705 472.8,697.8 476.2,698.5" fill="#222" stroke="none"/>
<text transform="scale(1.22,1)" x="416.4 423.2" y="658.9" font-size="11.3" text-anchor="middle" font-family="Liberation Sans, sans-serif" fill="#444">41</text>
<line x1="493.5" y1="661.5" x2="527.3" y2="661.5" stroke="#2a2a2a" stroke-width="1"/>
<polyline points="493.5,661.5 483,709.2" fill="none" stroke="#2a2a2a" stroke-width="1" stroke-linejoin="round"/>
<polygon points="483,709.2 482.8,702 486.2,702.7" fill="#222" stroke="none"/>
<text transform="scale(1.22,1)" x="275.4 282.2 289" y="651.9" font-size="11.3" text-anchor="middle" font-family="Liberation Sans, sans-serif" fill="#444">212</text>
<line x1="325" y1="654.5" x2="360" y2="654.5" stroke="#2a2a2a" stroke-width="1"/>
<polyline points="360,654.5 371,691.2" fill="none" stroke="#2a2a2a" stroke-width="1" stroke-linejoin="round"/>
<polygon points="371,691.2 367.4,685 370.6,684.1" fill="#222" stroke="none"/>
<text transform="scale(1.22,1)" x="235.4 242.2" y="687.9" font-size="11.3" text-anchor="middle" font-family="Liberation Sans, sans-serif" fill="#444">95</text>
<line x1="272" y1="690.5" x2="307" y2="690.5" stroke="#2a2a2a" stroke-width="1"/>
<polyline points="272,690.5 271.4,741" fill="none" stroke="#2a2a2a" stroke-width="1" stroke-linejoin="round"/>
<polygon points="271.4,741 269.8,734 273.2,734" fill="#222" stroke="none"/>
<text transform="scale(1.22,1)" x="176.6 183.4 190.2" y="694.9" font-size="11.3" text-anchor="middle" font-family="Liberation Sans, sans-serif" fill="#444">164</text>
<line x1="204.5" y1="697.5" x2="239.5" y2="697.5" stroke="#2a2a2a" stroke-width="1"/>
<polyline points="239.5,697.5 252,751.5" fill="none" stroke="#2a2a2a" stroke-width="1" stroke-linejoin="round"/>
<polygon points="252,751.5 248.8,745.1 252.1,744.3" fill="#222" stroke="none"/>
<text transform="scale(1.22,1)" x="163.1 169.9" y="721.9" font-size="11.3" text-anchor="middle" font-family="Liberation Sans, sans-serif" fill="#444">96</text>
<line x1="184.3" y1="724.5" x2="218.3" y2="724.5" stroke="#2a2a2a" stroke-width="1"/>
<polyline points="218.3,724.5 235.6,760.5" fill="none" stroke="#2a2a2a" stroke-width="1" stroke-linejoin="round"/>
<polygon points="235.6,760.5 231,754.9 234.1,753.5" fill="#222" stroke="none"/>
<text transform="scale(1.22,1)" x="142.6 149.4" y="748.9" font-size="11.3" text-anchor="middle" font-family="Liberation Sans, sans-serif" fill="#444">90</text>
<line x1="159.2" y1="751.5" x2="193.5" y2="751.5" stroke="#2a2a2a" stroke-width="1"/>
<polyline points="193.5,751.5 210,774.5" fill="none" stroke="#2a2a2a" stroke-width="1" stroke-linejoin="round"/>
<polygon points="210,774.5 204.5,769.8 207.3,767.8" fill="#222" stroke="none"/>
<text transform="scale(1.22,1)" x="98.2 105 111.8" y="770.9" font-size="11.3" text-anchor="middle" font-family="Liberation Sans, sans-serif" fill="#444">186</text>
<line x1="108.8" y1="773.5" x2="143.8" y2="773.5" stroke="#2a2a2a" stroke-width="1"/>
<polyline points="143.8,773.5 175,801.2" fill="none" stroke="#2a2a2a" stroke-width="1" stroke-linejoin="round"/>
<polygon points="175,801.2 168.6,797.9 170.9,795.3" fill="#222" stroke="none"/>
<text transform="scale(1.22,1)" x="38 44.8" y="793.9" font-size="11.3" text-anchor="middle" font-family="Liberation Sans, sans-serif" fill="#444">97</text>
<line x1="31.2" y1="796.5" x2="66.2" y2="796.5" stroke="#2a2a2a" stroke-width="1"/>
<polyline points="66.2,796.5 80,817" fill="none" stroke="#2a2a2a" stroke-width="1" stroke-linejoin="round"/>
<polygon points="80,817 74.7,812.1 77.5,810.2" fill="#222" stroke="none"/>
<text transform="scale(1.22,1)" x="50 56.8 63.6" y="937.9" font-size="11.3" text-anchor="middle" font-family="Liberation Sans, sans-serif" fill="#444">158</text>
<line x1="50" y1="940.5" x2="85" y2="940.5" stroke="#2a2a2a" stroke-width="1"/>
<polyline points="50,940.5 31.2,917.5" fill="none" stroke="#2a2a2a" stroke-width="1" stroke-linejoin="round"/>
<polygon points="31.2,917.5 37,921.9 34.4,924" fill="#222" stroke="none"/>
<text transform="scale(1.22,1)" x="107.4 114.2 121" y="547.9" font-size="11.3" text-anchor="middle" font-family="Liberation Sans, sans-serif" fill="#444">209</text>
<line x1="120" y1="550.5" x2="155" y2="550.5" stroke="#2a2a2a" stroke-width="1"/>
<polyline points="155,550.5 170,590" fill="none" stroke="#2a2a2a" stroke-width="1" stroke-linejoin="round"/>
<polygon points="170,590 165.9,584.1 169.1,582.9" fill="#222" stroke="none"/>
<text transform="scale(1.22,1)" x="402.3" y="516.9" font-size="11.3" text-anchor="middle" font-family="Liberation Sans, sans-serif" fill="#444">1</text>
<line x1="472" y1="519.5" x2="506" y2="519.5" stroke="#2a2a2a" stroke-width="1"/>
<polyline points="506,519.5 533,552" fill="none" stroke="#2a2a2a" stroke-width="1" stroke-linejoin="round"/>
<polygon points="533,552 527.2,547.7 529.8,545.5" fill="#222" stroke="none"/>
<text transform="scale(1.22,1)" x="364.3 371.1 378" y="375.9" font-size="11.3" text-anchor="middle" font-family="Liberation Sans, sans-serif" fill="#444">111</text>
<line x1="434" y1="378.5" x2="468" y2="378.5" stroke="#2a2a2a" stroke-width="1"/>
<polyline points="468,378.5 480,400" fill="none" stroke="#2a2a2a" stroke-width="1" stroke-linejoin="round"/>
<polygon points="480,400 475.1,394.7 478.1,393.1" fill="#222" stroke="none"/>
<text transform="scale(1.22,1)" x="426.8 433.6" y="316.9" font-size="11.3" text-anchor="middle" font-family="Liberation Sans, sans-serif" fill="#444">35</text>
<line x1="506" y1="319.5" x2="540" y2="319.5" stroke="#2a2a2a" stroke-width="1"/>
<polyline points="540,319.5 571,360.5" fill="none" stroke="#2a2a2a" stroke-width="1" stroke-linejoin="round"/>
<polygon points="571,360.5 565.4,355.9 568.1,353.9" fill="#222" stroke="none"/>
<text transform="scale(1.22,1)" x="423.7 430.5" y="349.9" font-size="11.3" text-anchor="middle" font-family="Liberation Sans, sans-serif" fill="#444">34</text>
<line x1="502.5" y1="352.5" x2="536" y2="352.5" stroke="#2a2a2a" stroke-width="1"/>
<polyline points="536,352.5 567.5,374" fill="none" stroke="#2a2a2a" stroke-width="1" stroke-linejoin="round"/>
<polygon points="567.5,374 560.8,371.5 562.7,368.6" fill="#222" stroke="none"/>
<text transform="scale(1.22,1)" x="496.6 503.4" y="380.9" font-size="11.3" text-anchor="middle" font-family="Liberation Sans, sans-serif" fill="#444">33</text>
<line x1="591" y1="383.5" x2="625.5" y2="383.5" stroke="#2a2a2a" stroke-width="1"/>
<polyline points="591,383.5 579.5,397.5" fill="none" stroke="#2a2a2a" stroke-width="1" stroke-linejoin="round"/>
<polygon points="579.5,397.5 582.6,391 585.3,393.2" fill="#222" stroke="none"/>
<text transform="scale(1.22,1)" x="429 435.8" y="395.9" font-size="11.3" text-anchor="middle" font-family="Liberation Sans, sans-serif" fill="#444">32</text>
<line x1="509" y1="398.5" x2="542.5" y2="398.5" stroke="#2a2a2a" stroke-width="1"/>
<polyline points="542.5,398.5 571,430" fill="none" stroke="#2a2a2a" stroke-width="1" stroke-linejoin="round"/>
<polygon points="571,430 565,425.9 567.6,423.7" fill="#222" stroke="none"/>
<text transform="scale(1.22,1)" x="430.9 437.7" y="435.9" font-size="11.3" text-anchor="middle" font-family="Liberation Sans, sans-serif" fill="#444">31</text>
<line x1="511" y1="438.5" x2="545" y2="438.5" stroke="#2a2a2a" stroke-width="1"/>
<polyline points="545,438.5 570,454" fill="none" stroke="#2a2a2a" stroke-width="1" stroke-linejoin="round"/>
<polygon points="570,454 563.2,451.8 564.9,448.9" fill="#222" stroke="none"/>
<text transform="scale(1.22,1)" x="424.9 431.7" y="461.9" font-size="11.3" text-anchor="middle" font-family="Liberation Sans, sans-serif" fill="#444">30</text>
<line x1="504" y1="464.5" x2="537.5" y2="464.5" stroke="#2a2a2a" stroke-width="1"/>
<polyline points="537.5,464.5 570,468.5" fill="none" stroke="#2a2a2a" stroke-width="1" stroke-linejoin="round"/>
<polygon points="570,468.5 562.8,469.3 563.3,466" fill="#222" stroke="none"/>
<text transform="scale(1.22,1)" x="578.3 585.1 591.9" y="390.9" font-size="11.3" text-anchor="middle" font-family="Liberation Sans, sans-serif" fill="#444">210</text>
<line x1="695" y1="393.5" x2="729" y2="393.5" stroke="#2a2a2a" stroke-width="1"/>
<polyline points="695,393.5 664,414" fill="none" stroke="#2a2a2a" stroke-width="1" stroke-linejoin="round"/>
<polygon points="664,414 668.9,408.7 670.8,411.6" fill="#222" stroke="none"/>
<text transform="scale(1.22,1)" x="409.2 416 422.8" y="737.8" font-size="11.3" text-anchor="middle" font-family="Liberation Sans, sans-serif" fill="#444">141</text>
<line x1="469" y1="740.5" x2="523.2" y2="740.5" stroke="#2a2a2a" stroke-width="1"/>
<polygon points="463,740.6 470,738.9 470,742.3" fill="#222" stroke="none"/>
<text transform="scale(1.22,1)" x="828.9 835.7 842.5" y="202" font-size="11.3" text-anchor="middle" font-family="Liberation Sans, sans-serif" fill="#444">16X</text>
<text transform="scale(1.22,1)" x="859.8" y="194.6" font-size="11.3" text-anchor="middle" font-family="Liberation Sans, sans-serif" fill="#444">7</text>
<polyline points="1033.5,197.5 1068.5,197.5 1068.5,244" fill="none" stroke="#2a2a2a" stroke-width="1" stroke-linejoin="round"/>
<polygon points="1068.3,244 1066.6,237 1070,237" fill="#222" stroke="none"/>
<g style="mix-blend-mode:multiply"><text x="326" y="543.8" font-size="152" font-weight="bold" font-family="Liberation Serif, serif" fill="#d2d2d2" textLength="604" lengthAdjust="spacingAndGlyphs">PartsTree</text><text x="922" y="457.5" font-size="17" font-family="Liberation Sans, sans-serif" fill="#d8d8d8" textLength="19" lengthAdjust="spacingAndGlyphs">TM</text></g>
</svg>
</body></html>
